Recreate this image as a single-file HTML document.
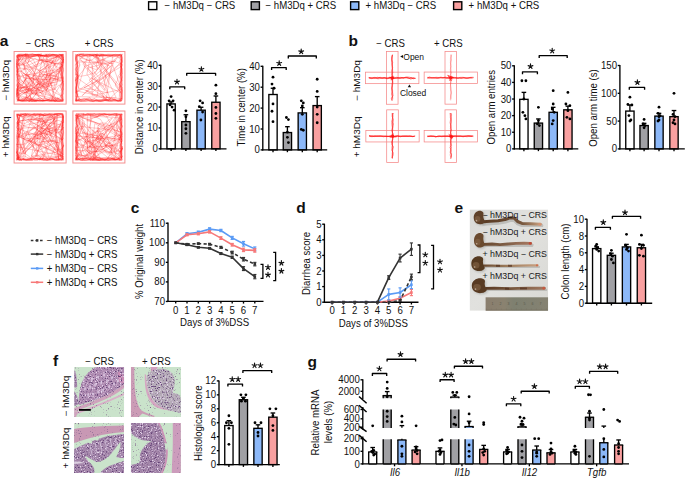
<!DOCTYPE html>
<html><head><meta charset="utf-8"><style>
html,body{margin:0;padding:0;background:#fff;}
svg{display:block;font-family:"Liberation Sans",sans-serif;}
</style></head><body>
<svg width="685" height="479" viewBox="0 0 685 479" font-family="Liberation Sans, sans-serif">
<defs>
<filter id="tex" x="0" y="0" width="1" height="1"><feTurbulence type="fractalNoise" baseFrequency="0.9" numOctaves="2" seed="3"/><feColorMatrix values="0 0 0 0 0.35  0 0 0 0 0.15  0 0 0 0 0.45  0 0 0 1.6 -0.75"/><feComposite in2="SourceGraphic" operator="in"/></filter>
<filter id="blur1"><feGaussianBlur stdDeviation="0.6"/></filter>
<filter id="blur2"><feGaussianBlur stdDeviation="1.2"/></filter>
</defs>
<rect width="685" height="479" fill="#fff"/>
<rect x="148.60" y="1.8" width="8.2" height="7.8" fill="#ffffff" stroke="#000" stroke-width="1.4"/>
<text transform="translate(164.60 8.60) scale(0.965 1)" font-size="10.0" text-anchor="start" fill="#111">− hM3Dq − CRS</text>
<rect x="251.20" y="1.8" width="8.2" height="7.8" fill="#a0a0a4" stroke="#000" stroke-width="1.4"/>
<text transform="translate(265.50 8.60) scale(0.965 1)" font-size="10.0" text-anchor="start" fill="#111">− hM3Dq + CRS</text>
<rect x="350.60" y="1.8" width="8.2" height="7.8" fill="#8cb8f8" stroke="#000" stroke-width="1.4"/>
<text transform="translate(365.50 8.60) scale(0.965 1)" font-size="10.0" text-anchor="start" fill="#111">+ hM3Dq − CRS</text>
<rect x="453.60" y="1.8" width="8.2" height="7.8" fill="#f9a0a0" stroke="#000" stroke-width="1.4"/>
<text transform="translate(468.60 8.60) scale(0.965 1)" font-size="10.0" text-anchor="start" fill="#111">+ hM3Dq + CRS</text>
<text transform="translate(-0.30 46.00) scale(1 1)" font-size="15.5" text-anchor="start" font-weight="bold" fill="#111">a</text>
<text transform="translate(40.20 46.80) scale(0.965 1)" font-size="10.0" text-anchor="middle" fill="#111">− CRS</text>
<text transform="translate(99.00 46.80) scale(0.965 1)" font-size="10.0" text-anchor="middle" fill="#111">+ CRS</text>
<text transform="translate(9.40 80.40) rotate(-90) scale(1.0 0.9)" font-size="10.0" text-anchor="middle" fill="#111">− hM3Dq</text>
<text transform="translate(9.40 136.80) rotate(-90) scale(1.0 0.9)" font-size="10.0" text-anchor="middle" fill="#111">+ hM3Dq</text>
<rect x="14.10" y="51.50" width="52.00" height="52.60" fill="#fff" stroke="#f49090" stroke-width="1"/><path d="M42.0 55.6 45.0 56.2 49.0 56.2 54.2 54.7 56.6 57.0 60.3 54.5 61.9 55.7 63.6 60.6 60.4 63.5 62.4 65.7 59.9 67.8 62.6 71.3 63.3 74.2 63.4 77.0 62.4 80.8 63.6 83.7 62.3 86.6 63.3 88.7 61.4 94.0 62.8 96.8 62.5 101.1 59.1 101.0 54.2 100.7 50.6 98.0 45.2 100.9 40.9 100.4 35.4 100.5 31.0 100.0 28.9 101.5 25.2 98.7 22.5 99.2 17.8 100.8 18.4 99.3 17.3 94.2 18.1 90.1 17.8 88.0 17.9 85.8 21.0 81.5 17.5 77.9 18.3 72.0 19.7 66.9 17.4 63.9 18.6 59.9 17.2 56.0 17.6 57.8 19.7 55.2 24.8 55.4 29.7 57.0 35.0 56.0 38.7 54.2 40.9 55.4M62.7 100.1 58.8 100.7 54.6 100.4 50.1 100.3 48.0 100.5 45.1 100.7 39.6 99.7 34.5 100.7 31.4 98.8 26.1 101.3 24.0 101.0 21.9 101.6 19.5 100.4 16.9 100.0 17.1 97.4 17.2 93.3 17.7 88.4 17.4 84.6 18.2 82.5 17.5 78.9 17.1 76.5 17.7 70.9 16.7 66.5 16.9 61.2 16.6 58.6 16.8 55.3 21.6 56.1 25.7 54.8 30.9 58.3 35.0 54.4 38.6 56.3 42.9 55.0 45.1 56.0 48.3 57.2 51.5 54.7 57.0 55.4 61.9 57.5 63.6 56.0 63.4 61.5 61.9 63.7 59.9 67.9 60.7 70.6 60.4 75.5 62.5 79.5 62.6 82.3 62.6 87.0 63.2 89.4 63.1 94.1 61.8 97.4M17.7 73.0 16.7 69.7 16.9 63.7 18.0 60.9 18.5 56.2 17.8 57.2 23.3 54.7 29.3 55.7 32.2 54.1 34.9 54.7 40.5 54.6 44.9 56.6 50.3 55.0 53.5 55.1 58.9 57.2 61.2 54.9 62.9 57.4 63.4 59.6 61.7 61.9 61.5 67.2 61.5 70.6 61.8 74.1 63.5 78.3 62.9 81.4 60.3 87.0 62.2 90.8 62.9 93.9 60.7 96.0 62.9 100.7 59.0 101.2 56.8 101.3 53.2 96.8 50.7 101.0 45.7 100.6 43.3 100.3 37.4 100.8 31.8 101.3 27.9 100.4 25.5 101.3 23.4 101.2 17.5 101.0 18.7 98.7 19.9 95.5 18.0 89.6 17.5 83.7 17.3 79.2 19.0 73.3M62.9 56.0 63.2 60.2 62.5 62.5 61.9 65.6 63.4 70.2 62.1 74.8 63.0 78.0 62.3 81.4 60.8 86.9 62.6 90.1 61.9 94.5 63.6 98.8 63.4 101.3 61.1 101.0 58.8 101.4 54.3 100.9 50.3 98.9 44.8 100.5 39.7 100.0 37.3 100.7 32.2 101.3 26.3 101.0 23.9 100.3 19.8 100.4 17.2 99.2 16.9 96.7 16.8 93.4 17.8 87.8 19.9 82.4 17.0 77.4 17.5 73.7 17.1 71.1 18.9 68.1 19.4 65.8 17.3 61.6 17.6 57.5 16.7 55.4 20.1 54.0 24.7 54.4 28.3 54.5 31.8 54.2 34.3 54.9 39.6 54.9 43.2 55.8 46.1 55.3 48.2 55.9 52.8 54.3 56.5 55.0 59.5 56.4 63.5 55.1M52.2 101.4 46.5 100.5 42.0 101.0 39.8 99.9 34.3 100.8 31.6 101.3 28.4 98.3 23.6 100.7 18.8 100.3 19.2 98.8 18.4 93.3 17.5 87.4 17.0 84.4 19.0 81.5 17.7 79.3 16.9 74.6 18.0 70.6 16.7 67.9 17.1 62.0 17.5 56.7 19.5 54.9 25.4 55.8 30.7 56.1 35.4 54.5 41.1 55.7 46.9 56.1 50.7 55.9 53.3 54.4 59.0 54.7 62.0 55.2 62.1 58.8 63.3 61.3 62.4 66.3 63.0 68.3 62.0 70.4 61.2 74.9 61.7 77.7 62.4 80.9 63.3 85.2 62.5 88.2 61.0 93.5 61.8 99.4 60.4 101.1 55.3 100.2 52.2 100.9M18.6 90.4 18.4 86.2 16.9 80.4 20.9 77.8 17.8 73.8 17.2 69.8 16.7 66.4 16.6 62.6 17.1 58.8 16.9 55.5 21.6 56.3 25.2 54.1 28.0 55.3 32.4 54.0 37.9 54.9 43.8 55.7 47.7 54.8 52.7 55.4 58.6 54.3 63.1 54.9 63.5 57.6 63.5 61.2 61.0 64.9 61.8 69.2 61.5 74.2 62.0 78.1 62.1 83.1 61.8 87.6 62.0 91.3 62.0 97.0 63.1 100.0 57.8 99.4 53.4 100.9 48.6 100.6 43.1 100.7 37.7 101.3 33.8 101.1 29.7 101.5 24.8 100.3 20.1 100.9 18.1 97.7 16.8 98.3 17.4 94.7 18.6 91.9M16.7 75.6 17.2 70.2 17.9 66.1 18.0 61.2 18.0 58.5 17.3 56.1 20.4 54.9 24.7 54.7 27.3 54.8 30.7 57.1 33.6 56.4 38.9 54.6 41.1 55.8 44.3 55.3 48.0 54.2 50.8 56.8 55.3 56.2 59.1 57.7 63.3 55.1 61.4 58.2 63.0 62.3 62.9 67.2 63.6 70.6 62.4 75.5 63.3 80.3 62.9 83.9 62.8 87.9 63.0 90.1 62.7 94.5 62.9 96.6 62.0 101.5 59.3 97.8 55.9 101.2 51.1 100.9 48.8 100.1 45.2 100.5 42.6 101.3 38.7 98.7 34.4 101.0 31.1 99.1 26.7 97.3 24.5 98.8 19.3 100.7 17.7 100.8 18.0 96.5 17.4 91.0 18.6 85.9 19.5 83.9 16.9 81.3 17.1 77.8M61.7 94.6 60.7 96.7 63.3 99.0 63.1 101.2 60.7 101.3 56.1 101.4 51.1 100.4 46.5 98.7 42.9 98.7 38.4 98.5 35.4 98.1 31.0 100.2 27.6 100.0 23.5 100.3 21.3 100.6 18.5 100.3 18.7 98.0 17.7 93.1 17.1 88.2 19.2 85.1 18.7 79.2 19.5 73.8 17.3 68.4 16.8 63.2 19.8 59.3 20.0 57.1 17.6 54.8 21.2 54.3 26.0 54.3 30.1 54.2 32.5 54.2 34.6 54.6 38.1 54.2 40.7 55.4 45.8 55.1 49.1 56.9 52.8 54.1 56.1 56.0 59.4 54.8 59.7 54.2 62.6 56.6 62.2 62.5 62.3 67.4 61.5 71.6 62.9 77.1 62.4 79.8 62.9 83.3 63.5 86.6 60.8 90.9M62.8 66.3 62.7 69.5 62.5 74.5 62.7 78.5 63.5 84.2 63.3 87.5 63.1 93.4 60.5 97.3 62.0 99.7 56.7 98.4 51.5 100.0 49.0 99.5 43.0 101.3 37.9 100.8 34.4 99.1 28.7 100.6 24.8 100.3 18.9 100.6 16.8 101.3 19.8 96.5 17.9 93.8 16.7 90.2 17.1 87.8 16.7 83.6 17.4 80.5 17.2 76.0 16.7 73.7 17.2 68.3 17.4 62.9 18.7 60.8 18.9 55.9 17.8 55.7 23.3 55.4 28.8 56.1 33.0 55.1 38.8 54.8 44.0 56.5 50.0 54.0 55.0 55.1 60.1 55.8 63.4 54.1 63.0 59.7 61.6 61.8M63.1 93.7 62.3 98.5 62.6 100.5 59.1 100.7 54.1 99.6 49.8 101.2 45.6 99.6 40.4 101.3 34.6 99.7 31.3 100.4 28.1 99.5 23.9 101.5 18.0 100.4 18.5 97.0 18.0 92.1 17.2 88.5 18.5 82.7 18.1 77.1 17.5 71.4 17.9 67.6 18.5 62.4 18.5 58.5 17.4 55.1 18.9 54.2 22.6 55.0 25.6 54.1 31.0 55.1 37.0 54.7 40.0 56.6 44.8 54.2 48.5 54.3 53.4 55.8 57.4 56.5 59.7 54.5 62.3 55.1 63.4 54.8 59.7 57.8 63.1 61.4 63.3 66.3 63.0 70.7 61.7 76.7 63.0 80.1 62.9 85.9 63.5 90.1M31.1 100.6 63.3 57.2 54.8 89.7 23.2 73.2 31.7 78.1 24.4 92.5 61.9 80.1 27.8 78.7 17.8 75.2 16.7 73.9 28.4 88.6 59.1 98.9 57.6 97.3 55.9 101.4 17.2 99.4 24.6 100.7 41.2 54.6 59.0 79.2 25.7 74.2 26.6 99.8 57.2 55.1 43.6 100.4 17.2 76.7 61.9 68.7 46.0 90.8 32.5 77.5 40.8 54.7 56.3 100.7 42.7 85.5 54.3 56.8 17.4 55.3 63.1 64.8 29.4 101.2 33.6 82.0 20.5 70.7 63.3 54.5 31.2 56.3 23.8 70.2 26.0 54.8 16.8 66.5 29.5 85.3 60.7 100.0 19.9 91.2 54.2 82.2 36.2 85.2 41.2 80.5 35.7 94.4 42.1 59.2 26.8 65.9 54.9 101.6 39.0 73.8 62.4 77.7 41.9 79.7 49.2 85.5 63.2 65.3 25.4 93.6 17.4 84.0 33.4 94.0 17.8 82.5 44.5 100.5 32.0 101.0 18.5 63.0 46.0 72.8 55.8 76.1 44.1 74.6 36.3 82.2 61.3 96.1 24.6 54.5 43.0 55.4 16.7 57.1 46.4 90.4 29.7 90.6 51.8 101.0 57.2 70.0 33.8 84.4 51.3 59.3 62.9 78.2 18.8 88.8 40.9 59.3 56.1 64.2 39.6 71.2 59.6 57.9 35.3 91.7 22.6 100.8 61.4 70.5 38.5 76.6 17.0 96.9 27.5 75.3 43.0 95.6 25.7 72.6 21.6 54.9 47.0 90.2 46.0 54.4 53.5 96.4 62.0 82.0 41.6 73.3 18.4 91.1 56.8 84.6 61.8 54.5 26.8 81.4 37.1 90.0 49.3 86.1 46.4 79.3 20.1 95.7 36.4 100.1 39.2 97.7 18.9 55.3 32.4 68.6 45.6 99.3 57.0 101.4 63.3 100.8M40.1 77.8 36.9 79.4 33.5 79.9 31.9 77.9 26.9 78.6 23.2 81.2 21.2 82.8 20.2 85.7 19.9 89.5 18.8 91.9 16.8 93.9 16.6 96.2 16.6 92.6 21.8 94.2 25.2 93.0 27.3 91.1 30.5 87.1 31.6 85.2 33.8 81.0 33.4 76.7 34.4 74.6 36.8 72.9 39.4 69.1 44.2 65.5 44.9 62.7 49.2 60.6 50.7 58.8 55.8 57.3 59.0 57.0 63.4 59.7 63.6 59.0 63.5 62.0 60.7 63.6 55.4 64.0 53.6 62.4 48.9 59.9 46.1 59.3 42.1 59.9 38.7 56.4 39.4 54.0 41.9 54.0 37.2 55.4 34.8 56.1 32.1 56.7 28.3 57.5 25.1 60.6 22.0 64.1 16.6 64.2 16.6 59.3 21.7 59.5 23.9 58.6 29.2 57.8 32.7 59.2 34.0 60.9 35.6 64.8 31.9 69.1 28.2 72.0 26.6 73.5 25.5 79.2 23.3 83.1 20.5 86.0 17.7 86.4 16.6 91.1 19.7 87.1 23.4 88.1 27.1 92.0 30.4 96.6 31.3 99.6 29.2 101.6 27.2 96.6 22.3 98.3 18.6 94.3 16.6 91.8 18.8 88.6 24.3 87.2 27.6 85.1 28.5 82.0 30.1 79.9 29.0 77.0 24.5 73.9 22.1 71.1 16.6 72.1 18.1 70.2 17.7 65.9 20.8 64.7 24.1 63.8 26.2 60.0 27.1 56.1 25.1 54.0 27.9 54.0 28.3 56.6 28.9 59.9 28.7 62.4 26.3 63.0 21.7 65.6 16.6 64.8 18.6 64.1 19.9 62.3 19.4 59.3 16.6 56.0 18.7 54.0 20.2 55.7 20.3 58.8 18.1 59.7 16.6 61.3 19.0 59.8 22.9 56.7 26.1 56.7 28.2 61.5 30.5 61.4 35.1 58.5 37.1 60.1 42.0 60.8 44.0 61.6 49.5 61.3 50.9 63.0 56.4 63.6 59.9 62.3 62.3 62.4 63.6 62.4 62.6 65.3 62.1 68.0 58.7 67.8 53.8 64.6 48.8 61.8 46.8 61.6 43.9 60.9 39.8 60.0 39.0 57.7 37.6 54.0 39.0 56.5 40.0 59.5 42.8 61.7 46.4 64.7 49.6 68.1 50.8 71.1 50.0 74.9 50.2 77.0 49.2 81.4 48.1 85.9 44.4 89.1 42.3 91.7 37.8 93.3 32.6 93.7 30.4 90.0 27.1 87.4 22.4 87.4 18.1 87.4 16.6 85.8 19.3 81.2 20.1 77.0 17.7 72.4 16.6 70.2 20.5 68.1 26.0 68.9 28.8 69.9 33.7 67.0 38.4 66.0 41.4 63.8 43.6 59.8 43.4 57.8 46.6 54.0 47.1 56.0 49.5 58.4 55.0 57.8 57.2 56.0 62.7 54.0 61.0 58.3 56.1 61.4 51.7 60.9 47.0 59.7 47.6 57.0 48.9 54.0 52.3 54.8 56.4 54.9 59.4 57.3 61.4 59.3 63.6 62.7 61.0 66.4 60.7 69.4 61.3 71.9 61.2 77.9 61.3 79.9 63.6 81.3 60.6 85.0 58.5 85.4 54.5 89.1 50.5 89.9 46.8 92.1 43.7 91.4 41.7 91.9 38.7 93.2 34.8 92.3 30.2 89.4 25.1 86.2 22.3 87.5 20.6 89.2 16.9 90.9 16.6 94.7 16.6 88.9 18.5 90.0 22.7 92.6 24.3 93.9 28.0 95.9 29.8 96.8 32.2 98.2 35.4 101.0 36.6 101.6 31.2 100.1 29.0 98.2 25.6 97.9 22.1 98.5 17.6 97.4 16.6 96.1 21.2 92.9 23.6 92.4 26.1 92.7 28.7 88.0 30.5 85.4 32.8 82.9 33.8 77.8" fill="none" stroke="#ff1a1a" stroke-width="0.3" stroke-opacity="0.8" stroke-linejoin="round"/><rect x="72.90" y="51.50" width="52.00" height="52.60" fill="#fff" stroke="#f49090" stroke-width="1"/><path d="M75.9 62.3 75.6 60.0 75.6 54.6 78.0 56.4 82.4 55.7 85.1 55.3 88.8 56.0 94.8 55.6 100.6 55.7 103.6 54.5 105.8 55.8 109.0 54.3 112.6 55.5 116.8 55.2 119.7 55.4 122.3 54.2 120.0 57.9 122.4 60.7 121.6 66.2 119.9 71.9 122.0 76.9 121.0 82.8 121.0 88.7 120.1 93.5 120.6 97.4 120.9 101.2 116.9 100.9 111.4 100.3 105.8 99.6 100.1 101.1 95.2 100.5 91.9 101.5 87.1 99.8 84.0 98.6 78.4 100.1 79.1 99.8 77.7 95.7 75.7 91.4 75.9 88.1 77.2 82.4 78.0 77.9 76.8 73.0 76.4 67.4 77.9 65.1M121.9 58.7 119.2 61.1 121.7 65.2 121.4 68.0 120.2 73.5 121.2 75.7 121.3 79.1 120.3 81.5 119.8 87.3 122.0 89.4 122.0 92.4 121.5 95.1 122.0 99.9 118.2 101.3 115.6 100.2 111.1 101.3 106.1 100.5 104.0 100.7 100.2 101.3 94.6 99.0 89.6 100.0 85.7 99.7 82.8 100.9 80.4 100.4 76.6 101.0 76.0 98.4 76.3 94.9 75.5 89.0 76.7 86.0 76.4 83.9 75.7 79.7 75.8 77.6 77.3 74.9 76.7 70.9 80.1 64.9 77.5 62.0 75.4 58.2 75.7 56.1 80.9 54.3 84.6 55.2 88.7 54.4 92.3 54.0 94.7 54.2 97.1 55.2 99.9 54.1 104.0 55.1 107.8 54.8 110.7 56.1 116.3 56.5 120.0 54.6 121.9 55.7M117.7 101.3 114.9 99.2 111.5 100.0 107.4 99.7 104.2 100.6 98.3 101.4 93.6 101.4 91.2 100.5 86.5 98.7 84.4 100.0 80.5 101.1 77.6 101.1 75.7 100.7 76.0 97.2 75.7 92.2 76.8 89.4 76.1 85.6 76.0 80.5 75.9 78.1 76.7 75.7 77.3 69.9 77.7 65.1 75.8 60.0 76.9 55.1 78.1 54.0 83.3 54.2 87.2 55.9 93.0 55.2 98.4 57.5 101.6 54.2 104.6 55.8 108.3 55.5 112.7 57.2 117.9 55.2 121.5 55.5 121.9 58.1 122.1 60.5 120.1 66.0 122.2 68.5 122.1 71.7 120.0 76.5 121.6 80.2 122.3 84.4 122.4 90.2 121.7 94.2 122.2 99.1 121.1 98.2M119.6 83.5 122.3 87.8 122.0 90.3 122.3 94.7 121.6 100.2 119.8 99.9 116.2 100.7 111.4 98.0 107.5 100.2 102.5 101.3 97.9 101.4 95.0 98.5 90.5 99.7 84.6 100.2 80.0 99.8 75.5 101.4 77.1 95.9 77.8 93.8 75.7 88.0 77.6 82.4 77.8 76.9 77.1 71.8 75.5 69.0 77.5 66.2 76.8 61.0 77.1 57.3 77.0 54.3 78.0 54.7 83.8 54.1 87.8 54.1 93.1 55.5 97.1 56.3 101.8 54.6 105.8 55.1 107.9 56.3 110.6 55.3 115.6 54.3 120.3 55.6 121.8 57.0 121.8 59.7 121.1 63.2 122.1 65.2 120.9 69.5 122.1 73.6 119.4 77.2 121.3 80.4M119.0 98.5 121.5 100.8 117.9 100.8 112.7 99.4 108.1 99.2 105.7 99.7 101.2 100.1 95.8 100.4 90.6 100.7 87.6 100.6 83.8 101.5 78.0 100.3 75.5 100.9 76.8 98.3 77.0 95.0 76.2 92.3 76.3 88.6 78.7 82.9 77.8 79.1 78.2 75.8 75.5 73.4 76.4 68.7 77.2 65.2 77.6 62.3 76.5 57.0 77.7 55.2 81.0 56.6 85.0 56.5 89.8 56.5 94.8 54.8 100.3 56.5 106.2 55.1 109.4 55.7 112.8 55.7 116.4 55.8 119.8 57.6 121.6 55.3 121.8 61.2 120.9 63.7 122.1 67.1 120.4 72.8 120.6 76.5 122.1 80.7 119.4 84.3 121.8 87.4 121.7 90.7 121.7 96.4M121.9 54.5 122.4 58.2 120.9 61.2 121.3 64.1 121.5 67.6 121.6 72.7 122.1 78.1 122.2 81.8 121.6 85.9 121.0 91.3 120.1 95.7 120.8 99.3 120.8 101.6 116.3 100.4 111.9 98.8 107.6 97.1 101.6 100.5 96.3 100.0 92.2 101.1 90.0 97.5 87.5 98.3 81.7 100.1 79.4 98.4 76.2 101.5 75.6 100.0 75.8 96.6 76.2 91.9 77.7 89.5 75.8 87.3 75.5 81.7 77.2 77.5 76.0 74.9 75.4 72.1 76.3 66.5 77.2 61.7 76.6 56.2 75.7 55.4 78.2 54.9 80.4 54.7 83.2 55.6 88.7 55.5 94.3 54.4 99.9 55.9 102.6 56.3 107.1 55.8 110.0 55.0 113.7 54.9 117.4 56.3 120.7 54.2M121.8 96.4 121.6 98.9 118.7 100.9 114.1 99.2 111.9 100.6 109.2 101.3 104.8 100.2 99.9 99.8 95.1 101.1 90.0 101.5 84.7 100.5 82.5 99.7 79.7 99.8 75.6 100.2 79.7 99.0 76.6 93.4 75.7 89.6 76.5 84.3 76.0 79.5 78.8 75.2 77.6 71.5 76.7 67.7 77.2 63.1 77.1 60.0 75.7 54.3 79.2 55.4 82.8 57.6 85.6 54.6 90.7 55.0 94.5 56.6 98.3 55.0 101.3 55.5 104.1 55.0 107.9 54.2 112.2 54.4 116.7 54.9 122.1 54.4 120.2 58.3 121.8 63.9 121.2 66.7 122.3 72.0 122.2 77.5 121.9 80.3 121.1 83.3 121.5 88.2 121.0 91.9M78.9 54.7 81.5 54.4 85.9 54.4 90.2 54.4 95.9 55.1 101.1 55.5 106.8 54.8 112.6 55.1 118.3 54.7 120.0 55.4 121.8 59.8 120.5 62.7 120.2 65.6 121.5 68.1 121.1 72.6 121.3 78.5 120.9 82.1 122.2 84.9 119.5 87.8 121.8 90.2 122.2 96.0 121.9 100.8 119.6 100.9 115.6 101.5 111.5 101.2 106.7 99.5 101.7 101.5 97.8 101.2 95.3 100.7 91.1 100.5 86.7 99.3 84.3 98.6 80.0 99.6 76.3 100.4 76.3 99.9 77.6 96.0 76.3 90.3 76.6 84.6 77.6 80.1 77.1 76.7 77.3 70.9 77.6 65.3 75.8 61.3 75.5 57.9 76.8 56.4M81.7 101.5 76.2 99.8 76.3 98.0 77.9 94.2 76.8 91.6 78.9 89.4 77.7 84.1 76.4 79.4 78.7 77.2 76.2 74.3 78.7 70.6 77.1 65.0 76.8 62.7 75.5 59.8 75.6 56.2 77.2 54.5 79.4 56.3 83.5 55.6 89.2 54.3 91.7 55.6 95.2 54.8 101.1 55.7 104.8 54.8 108.6 56.7 113.2 54.9 115.8 54.7 119.2 54.5 121.3 55.2 118.2 57.5 122.4 61.7 120.7 65.6 122.3 69.3 121.3 74.3 121.4 80.1 120.4 82.2 120.1 85.4 118.8 89.6 121.9 93.9 121.3 98.7 121.8 100.6 117.2 100.1 112.9 99.9 107.1 101.2 102.1 99.9 96.5 100.7 91.5 99.3 89.1 98.3 84.7 100.3M76.6 60.2 77.4 56.6 77.6 55.8 81.0 54.4 83.6 55.4 88.3 55.0 92.3 55.3 98.2 54.6 103.9 55.5 108.2 55.9 113.3 55.3 118.9 55.1 120.3 54.1 121.6 56.2 122.2 62.0 120.3 65.5 120.8 68.2 122.1 73.5 121.8 77.9 120.9 81.5 121.6 83.9 120.6 86.0 122.0 90.8 121.5 93.0 120.8 98.6 119.5 100.0 115.2 100.0 112.3 100.9 109.1 101.0 103.8 99.3 99.9 100.5 96.8 99.5 93.8 101.6 88.4 100.6 85.5 101.5 80.2 101.4 75.9 100.5 76.8 99.1 77.0 95.1 76.9 92.4 76.4 89.0 76.2 86.3 77.8 80.6 77.5 75.2 77.3 72.7 75.4 69.8 75.5 67.5 75.7 62.4M76.4 84.9 76.3 77.2 109.0 100.8 85.6 90.5 97.0 96.9 103.4 54.1 89.5 54.7 90.1 58.1 86.9 74.3 106.0 99.9 112.9 55.3 84.7 66.5 104.4 90.5 113.2 63.5 79.6 61.9 75.7 96.6 116.2 97.6 103.6 71.6 108.4 65.2 79.2 57.7 107.9 92.8 84.0 87.7 106.1 77.0 87.5 56.7 78.1 87.9 92.8 92.2 119.6 63.9 82.1 95.7 110.3 66.6 92.5 55.3 120.5 89.7 92.1 95.5 92.5 64.7 105.3 58.8 93.9 74.5 87.5 68.2 115.5 60.6 107.9 64.4 103.9 86.5 91.3 77.9 121.2 93.1 95.6 54.2 110.4 100.2 89.0 80.1 118.3 56.4 112.5 64.1 95.1 56.9 120.8 87.6 112.6 64.9 75.5 92.8 121.7 66.4 121.4 55.6 119.1 101.1 121.2 98.5 109.8 98.0 75.9 90.8M98.9 77.8 96.3 74.4 94.9 72.9 92.0 68.0 91.9 65.6 89.5 60.8 85.3 59.0 82.9 57.9 78.9 55.0 79.8 54.0 84.1 54.0 81.8 57.4 80.1 58.8 77.0 63.0 75.4 65.3 78.5 61.7 80.2 60.4 84.2 62.0 85.9 64.7 91.1 67.7 96.3 69.7 100.8 66.1 100.4 62.1 98.6 59.7 97.3 58.0 96.3 54.0 98.0 54.0 94.6 57.8 92.1 59.8 86.3 60.7 84.0 62.2 83.0 64.1 85.2 67.2 82.7 71.1 80.5 73.6 78.5 76.7 75.5 80.4 75.4 81.1 76.1 76.6 75.4 74.0 80.2 76.3 86.0 75.4 89.3 74.5 94.9 72.6 97.3 69.5 96.4 63.9 98.6 60.1 98.7 57.7 101.0 54.0 103.3 58.9 103.9 60.9 106.0 61.0 110.4 61.1 116.0 61.9 120.4 63.6 122.4 64.6 121.0 67.2 121.1 72.7 118.3 75.7 117.8 77.8 117.4 80.7 115.8 83.1 115.4 85.8 118.8 90.3 115.6 93.1 112.1 96.2 108.7 100.5 105.9 100.5 103.6 98.5 103.4 96.1 102.2 93.5" fill="none" stroke="#ff1a1a" stroke-width="0.3" stroke-opacity="0.8" stroke-linejoin="round"/><rect x="14.10" y="111.00" width="52.00" height="52.00" fill="#fff" stroke="#f49090" stroke-width="1"/><path d="M61.3 115.0 63.2 115.7 63.4 120.2 63.5 125.5 63.1 128.5 58.6 132.4 61.3 137.8 63.3 140.4 62.3 144.9 62.2 149.9 61.1 154.6 62.5 158.9 62.0 157.4 58.1 159.9 53.2 158.7 47.5 158.8 43.9 160.0 38.2 158.9 32.7 159.8 29.8 160.0 23.9 158.4 20.7 159.6 16.7 159.4 17.6 156.3 18.6 151.9 18.0 146.2 19.0 140.8 16.7 138.1 20.0 132.7 17.4 128.4 17.3 123.6 19.5 119.3 19.5 116.1 19.9 114.7 22.3 114.0 24.9 115.1 28.1 113.9 30.2 116.7 34.7 115.9 38.0 114.2 43.5 115.4 49.5 113.7 52.8 115.4 54.9 114.5 57.7 115.3 60.3 114.7M18.2 138.4 20.3 132.8 18.5 129.3 17.1 124.7 18.7 120.3 17.4 114.5 19.6 115.8 22.5 114.6 25.7 115.4 29.9 113.8 32.0 115.3 34.1 114.6 38.5 113.9 43.0 113.9 46.9 114.1 51.7 114.8 56.7 114.1 61.4 113.6 63.6 117.1 61.8 121.5 62.7 124.8 62.6 128.3 63.1 132.6 62.1 137.7 61.2 139.8 62.5 143.1 63.2 146.0 62.5 148.7 63.4 152.5 62.9 155.8 62.7 159.1 59.6 159.0 56.9 159.3 51.4 158.5 47.6 160.4 43.4 159.7 40.7 159.4 38.0 157.6 34.8 159.7 29.6 158.4 26.2 159.6 21.1 159.5 18.0 159.6 18.0 158.2 17.4 154.6 17.0 152.5 20.0 146.8 19.8 143.0M17.1 127.2 19.2 121.8 17.9 117.2 16.8 113.8 19.2 115.4 22.4 114.4 27.6 116.8 32.4 114.5 38.1 116.2 42.4 115.6 44.4 113.5 47.6 114.5 52.3 115.1 58.0 113.8 62.5 114.2 62.6 117.8 63.3 121.8 62.1 124.5 63.2 128.7 62.7 133.8 62.6 139.5 60.8 141.6 63.3 146.1 63.2 149.2 61.9 152.2 63.3 156.1 62.9 160.0 60.4 160.5 57.9 156.6 52.4 158.7 50.1 159.1 46.8 160.5 43.4 159.2 40.0 158.8 37.2 160.1 33.0 159.8 28.1 160.0 25.4 160.1 21.9 158.3 18.4 158.8 17.8 157.1 17.8 153.6 17.1 149.6 18.2 144.9 16.7 141.0 18.6 136.2 18.1 133.9 17.4 128.4M61.3 136.9 61.9 139.9 61.5 143.8 61.6 148.4 63.0 154.0 61.3 158.9 60.9 158.8 58.9 159.2 56.4 160.4 54.0 160.0 51.6 159.8 49.5 159.8 44.1 158.3 39.4 158.4 34.1 158.5 28.9 159.9 26.8 160.3 21.9 158.6 19.5 160.5 17.2 156.8 19.4 157.8 17.8 154.9 16.6 152.1 18.8 147.1 17.7 143.5 17.8 140.1 18.2 136.5 17.5 130.6 16.6 126.9 17.5 122.2 17.5 117.1 16.9 115.2 21.5 114.2 23.8 114.0 28.8 115.2 32.6 114.5 37.5 114.0 40.3 114.7 44.6 114.0 49.4 114.6 55.2 114.2 58.9 115.9 62.5 114.2 63.0 117.0 62.0 119.1 63.4 121.8 62.4 125.3 61.1 127.8 61.5 133.8M16.9 144.6 18.3 139.3 17.2 134.4 18.7 129.0 18.1 123.2 16.7 119.3 17.8 114.4 20.4 116.5 23.4 114.3 26.1 113.6 30.9 114.5 36.4 114.5 41.8 114.2 45.1 115.8 47.4 114.7 49.8 114.2 53.2 114.6 57.5 113.6 60.9 113.7 62.5 114.5 63.5 118.9 62.0 124.7 62.3 127.2 63.2 130.3 62.9 135.8 60.5 141.4 61.4 144.9 63.5 150.0 62.3 154.7 63.2 159.4 59.7 159.3 53.9 159.6 51.4 158.7 47.5 159.0 42.7 158.5 38.5 159.5 34.0 158.4 31.2 158.7 28.7 159.0 23.0 159.6 18.1 159.4 18.8 157.6 17.4 153.8 16.9 150.6 17.1 145.7M55.5 160.4 52.4 159.0 48.9 160.2 44.9 160.2 41.9 160.3 38.6 159.0 34.9 157.8 31.5 159.8 26.1 159.5 23.7 159.7 21.3 160.0 18.6 158.0 18.9 159.7 17.9 154.4 17.4 149.4 17.1 145.8 18.6 143.1 17.0 140.3 16.7 137.3 17.0 132.0 18.1 126.5 17.1 122.3 19.5 117.9 16.9 116.8 20.1 114.7 24.5 114.9 29.4 116.2 34.1 113.5 38.0 115.3 40.8 113.8 44.9 115.3 49.5 113.9 53.3 117.2 58.9 115.1 61.4 114.1 63.6 115.7 63.5 116.9 63.0 121.1 62.2 126.8 60.7 131.6 62.2 134.1 61.9 139.8 63.5 144.7 62.1 149.9 62.5 155.7 63.4 159.2 59.5 160.1 57.2 160.2M46.8 116.0 51.0 113.5 54.7 114.3 58.5 114.6 63.6 114.3 63.0 119.1 62.6 123.9 62.5 128.1 63.6 132.4 63.5 135.3 62.5 140.4 62.2 143.2 62.8 146.0 62.2 148.7 62.9 150.8 63.0 154.8 61.9 157.0 63.5 160.3 58.6 159.0 55.1 160.0 53.0 159.4 50.6 160.3 46.7 159.4 43.3 158.6 40.8 158.1 37.7 159.7 32.5 156.9 29.3 159.7 26.3 160.2 21.8 157.6 18.4 158.5 17.9 156.5 17.0 152.1 16.6 149.7 17.1 147.1 16.7 142.4 17.9 136.8 20.7 132.9 19.9 127.7 18.5 125.6 19.6 122.4 19.0 120.0 17.1 116.8 16.8 114.1 20.2 115.1 22.9 116.8 27.8 113.8 32.0 116.5 37.7 114.6 40.6 114.8 45.8 114.8M22.1 160.3 17.7 160.1 18.1 157.7 16.7 155.0 16.9 151.2 16.9 146.1 17.2 143.2 18.7 137.8 19.2 132.3 18.7 128.5 18.2 125.2 18.1 121.7 17.3 115.9 16.6 114.2 19.0 113.8 23.6 113.5 26.2 114.0 30.7 113.7 33.7 113.6 39.5 113.9 43.2 115.5 48.3 115.7 52.5 115.2 55.2 113.8 60.5 114.1 63.0 117.6 63.0 115.7 62.1 121.3 62.7 124.1 61.9 129.5 62.1 134.5 62.4 140.0 61.8 143.8 62.5 146.2 61.8 151.5 61.9 154.3 63.2 159.2 62.6 159.5 60.3 159.0 56.1 160.3 51.5 158.8 47.1 160.2 41.1 159.1 37.7 159.9 34.9 160.2 32.2 158.2 26.7 159.4M42.5 158.7 38.8 159.7 33.0 157.3 29.1 158.3 24.0 155.9 18.3 157.5 17.5 159.1 17.0 156.7 17.1 151.8 18.5 147.2 16.6 145.1 17.9 141.3 16.7 138.0 19.2 134.8 17.1 132.4 18.2 130.1 16.8 127.5 19.1 121.6 17.7 115.7 17.1 114.6 20.3 115.4 24.5 113.9 27.9 114.3 31.8 114.5 37.3 114.0 40.3 114.8 45.5 114.3 49.7 113.6 53.8 113.8 56.6 113.9 61.7 117.9 62.6 116.7 62.6 122.7 63.4 124.7 63.3 128.4 63.2 132.6 63.1 135.0 62.5 140.2 63.6 143.9 63.1 147.6 62.0 152.1 60.5 157.3 61.8 160.3 58.6 158.5 54.6 159.5 51.5 158.7 48.8 158.2 43.2 160.3M62.6 154.4 57.7 149.9 36.6 137.8 51.0 115.4 36.3 130.9 20.9 150.5 17.3 121.2 36.5 151.4 57.8 141.6 49.6 159.4 39.6 128.0 57.0 120.7 34.8 137.6 59.0 142.9 17.2 128.4 32.6 127.6 58.3 129.5 62.3 119.5 63.0 113.5 54.2 113.6 58.7 160.4 53.1 116.7 19.5 120.8 62.4 116.8 21.5 126.2 25.5 153.6 16.7 114.9 46.1 122.3 17.0 158.7 55.5 118.5 41.5 132.2 62.7 139.8 31.1 121.9 40.5 115.5 52.7 116.2 60.5 156.7 62.0 133.1 32.4 117.4 16.9 160.0 42.9 135.5 37.7 138.4 27.8 140.9 54.4 123.9 54.0 123.4 54.6 117.4 18.0 137.4 19.2 115.3 47.7 138.0 23.4 138.7 44.1 115.4 32.8 137.3 62.3 126.3 58.0 151.8 31.4 156.5 39.8 115.1 49.6 130.5 31.2 156.1 60.6 156.3 41.3 134.6 22.4 133.9 51.5 118.9 35.3 156.7 57.0 114.1 55.8 134.2 48.8 131.3 62.6 159.3 55.5 140.5 57.9 114.4 42.0 160.1 63.1 119.7 56.3 158.9 53.6 150.8 37.7 144.5 17.5 136.1 62.6 155.9 17.4 146.7 23.1 117.7 18.0 114.0 62.8 139.6 37.3 142.3 37.5 120.5 47.9 119.9 17.2 159.8 63.6 156.7 17.2 133.4 48.0 159.3 27.9 132.6 37.0 157.0 43.1 120.0 63.0 154.6 41.7 128.2 46.7 138.2 63.0 122.6 45.0 131.0 56.9 151.7 27.9 119.0 63.1 125.2 17.2 137.7 24.5 154.0 56.4 116.2 23.7 115.0M40.1 137.0 43.3 132.7 46.6 131.5 49.3 131.1 54.0 130.3 57.2 131.4 60.2 133.6 62.8 137.0 63.6 139.3 60.8 135.6 56.8 132.6 53.5 131.2 49.3 132.9 46.2 134.9 41.2 132.8 38.3 130.0 33.1 128.1 28.4 127.4 22.7 125.6 22.2 122.2 23.6 119.9 26.0 115.6 26.0 113.5 26.3 115.9 30.0 117.1 34.1 117.5 37.6 119.4 41.9 119.5 44.2 120.0 49.2 119.2 53.7 115.9 57.5 113.5 62.6 113.5 63.4 118.4 63.6 123.0 59.3 120.6 55.1 120.1 52.7 118.2 49.5 116.8 47.2 117.5 43.8 121.1 42.3 123.3 41.3 126.8 39.1 130.5 36.7 133.6 34.7 135.5 33.6 137.7 31.9 141.5 27.9 141.8 25.0 143.9 21.8 144.5 16.6 144.5 20.5 145.0 22.1 148.4 23.6 150.7 20.0 153.1 18.5 155.6 16.6 160.5 16.6 155.0 18.7 153.9 20.8 151.9 20.3 148.1 22.2 143.4 23.0 140.9 23.2 136.8 22.0 133.6 23.3 129.8 21.5 125.4 18.5 124.8 16.6 122.1 18.2 120.6 19.4 118.2 20.6 113.5 24.0 115.6 23.6 120.5 24.5 123.8 22.2 128.2 18.6 132.6 16.6 136.8 17.5 131.9 16.6 130.1 20.8 129.8 23.1 128.6 24.1 126.3 22.9 124.0 20.9 123.6 19.3 120.4 19.6 116.6 21.9 114.7 25.6 113.5 23.7 117.9 22.6 120.4 19.6 121.8 16.6 123.6 19.9 122.3 24.9 123.6 27.7 121.8 30.5 121.1 31.4 117.8 33.0 115.4 34.2 113.5 36.0 117.4 39.0 118.4 41.1 118.7 43.3 120.3 46.5 123.2 50.0 125.9 49.6 130.5 49.5 134.2 51.6 136.7 50.5 140.5 49.0 142.4 44.6 143.1 41.3 145.0 40.2 142.6 43.4 141.4 47.4 141.3 51.3 141.1 55.0 141.1 55.5 143.1 56.8 147.7 58.3 153.0 58.8 157.7 59.5 160.5 56.3 160.5 57.8 158.4 60.3 153.1 60.9 151.0 62.2 149.2 63.6 144.9 63.6 145.6 61.0 149.3 57.1 150.1 51.4 148.6 47.2 146.4 42.2 143.8 38.2 145.2 34.7 144.8 33.0 146.2 30.2 147.8 26.9 149.8 25.3 152.4 25.2 157.3 21.5 160.5 19.5 157.8 18.3 156.0 16.6 152.2 18.5 154.5 20.0 156.7 21.2 160.5 17.1 159.4 16.9 156.0 16.6 151.2 21.0 153.5 24.1 153.1 26.5 154.6 30.1 157.2 32.5 160.5 27.4 160.3 23.6 160.5 23.1 156.8 24.2 154.2 22.7 149.6 23.9 144.0 27.0 139.9 31.7 141.2 35.9 144.0 40.7 146.9 43.2 152.1 42.8 155.3 39.9 157.6 40.2 160.1 39.7 160.5 40.6 157.4 38.1 155.7 37.1 153.9 37.0 150.4 35.9 144.6 34.6 139.2 34.7 136.2 35.5 133.4 41.1 133.9 43.9 133.4 47.9 134.6 51.8 133.4 54.5 131.9 59.4 133.0 62.4 128.6 63.6 127.1 62.9 129.6 57.3 129.8 53.2 131.0 51.0 130.6 46.4 127.4 41.5 124.3 40.1 121.8 39.9 117.2 39.1 114.9 39.8 113.5 43.9 115.5 46.4 115.7" fill="none" stroke="#ff1a1a" stroke-width="0.3" stroke-opacity="0.8" stroke-linejoin="round"/><rect x="72.90" y="111.00" width="52.00" height="52.00" fill="#fff" stroke="#f49090" stroke-width="1"/><path d="M119.8 114.8 122.4 114.5 119.5 115.8 120.3 121.0 122.1 126.0 120.4 129.1 121.5 131.8 121.7 137.5 121.4 142.8 119.7 145.6 120.6 148.9 120.5 154.3 120.5 159.8 118.4 159.4 114.4 159.7 112.0 158.9 106.3 159.2 103.1 159.0 97.5 157.5 92.1 159.0 88.0 158.6 84.3 159.4 81.7 159.5 79.5 157.7 77.3 159.6 76.3 158.3 78.4 154.4 80.0 151.6 76.1 147.9 77.6 144.8 75.4 141.4 76.8 137.2 75.9 131.6 75.7 128.7 76.3 123.6 76.2 120.3 75.9 117.6 76.1 113.6 81.7 116.0 87.6 114.2 89.6 114.5 94.7 117.5 98.4 115.6 103.6 114.3 106.8 114.1 109.4 115.1 112.9 114.9 114.9 113.8 117.1 114.9M119.9 121.1 120.7 123.5 122.2 126.3 121.5 128.5 122.1 133.2 120.6 135.8 121.9 138.8 121.0 144.8 121.0 149.9 120.6 153.6 122.3 156.5 120.8 160.2 119.7 160.1 114.2 159.6 112.0 158.9 109.0 160.4 106.1 159.4 100.6 160.2 94.9 160.1 90.7 158.9 85.0 160.4 80.4 159.8 76.5 157.9 76.2 159.2 78.6 153.6 76.6 147.9 77.4 142.7 76.2 138.1 77.2 133.5 75.8 128.8 79.0 122.9 79.4 120.6 76.1 116.0 76.1 113.8 81.0 114.0 85.7 114.4 90.2 113.9 94.5 113.6 97.4 117.2 99.4 113.7 104.9 113.6 107.3 114.5 112.8 116.1 117.1 114.3 121.7 114.2 120.3 116.2 120.7 120.0M80.4 115.6 84.3 114.0 89.8 114.2 93.2 114.0 98.3 113.7 103.6 113.5 109.0 115.2 112.5 114.5 117.6 113.9 121.6 114.6 121.7 118.5 122.0 123.0 120.7 128.6 122.3 134.0 119.4 139.1 121.1 141.9 121.5 145.1 121.0 150.3 121.7 153.0 121.7 155.6 121.3 159.5 117.7 158.8 112.9 159.1 108.7 160.5 104.8 160.1 102.5 158.7 99.5 159.6 94.4 159.3 88.5 158.8 84.0 158.8 80.8 159.0 76.3 160.2 77.3 157.0 77.5 152.6 77.1 148.8 77.5 145.4 75.8 140.7 75.9 138.1 76.9 132.9 78.5 129.4 76.7 125.1 77.2 122.7 76.3 119.1 75.8 114.5 77.7 113.6 79.8 113.8M76.3 145.5 78.2 139.7 77.0 137.1 76.3 132.8 75.7 127.0 79.6 124.5 76.6 119.9 77.8 115.5 78.8 114.7 82.4 117.0 86.8 115.5 90.0 115.0 92.9 114.5 98.9 115.5 104.5 114.8 109.8 114.4 112.9 113.7 115.7 113.6 119.8 114.3 120.3 114.4 121.7 120.2 121.7 122.5 118.8 128.4 122.1 132.8 121.4 136.0 121.7 138.9 120.2 144.6 120.7 147.2 121.2 150.2 118.7 152.8 121.6 158.0 119.1 158.7 116.0 159.6 113.6 160.4 111.5 160.2 109.3 159.8 103.3 159.7 98.5 157.2 93.6 158.3 88.1 157.2 83.2 158.2 78.3 159.6 76.3 159.2 75.4 153.8 76.3 149.9M122.0 114.6 121.1 118.2 119.5 121.5 122.1 125.1 122.2 130.6 121.5 132.7 122.2 135.3 121.9 140.7 121.4 144.9 122.2 148.8 121.4 154.1 121.4 160.1 117.1 157.0 113.6 158.8 109.2 158.0 106.8 157.9 103.6 158.1 99.0 158.8 96.8 159.2 92.3 160.4 87.6 157.3 84.4 158.7 81.1 159.1 75.7 157.9 77.5 155.3 76.1 150.7 77.5 146.5 75.8 140.6 75.9 135.7 77.5 131.8 76.0 128.8 77.9 125.9 76.6 120.3 78.7 115.5 78.7 116.5 82.7 116.6 87.2 113.5 91.7 116.1 93.8 113.8 97.7 114.4 103.3 114.7 108.3 114.0 111.9 114.7 116.3 115.1 122.2 113.9M76.1 139.3 77.7 134.2 76.3 129.3 75.8 127.3 76.6 121.7 75.9 116.7 75.8 115.6 79.1 115.7 83.6 113.6 85.7 115.4 88.8 114.3 91.3 117.0 96.3 117.5 99.0 115.9 101.4 114.4 106.0 117.1 111.6 114.3 115.0 113.5 118.8 114.5 121.8 113.6 119.2 118.2 119.6 121.4 120.5 125.7 119.4 128.0 121.3 133.4 120.1 135.5 121.9 140.6 121.4 142.7 120.2 146.0 118.4 150.4 121.4 153.9 122.3 156.7 120.3 158.2 114.4 159.8 112.2 158.4 107.5 159.1 102.1 159.7 99.6 159.8 95.7 158.6 92.2 159.9 87.2 159.1 85.1 158.2 82.5 160.3 78.2 159.3 75.4 159.5 76.4 157.1 76.4 152.2 75.8 148.8 75.5 142.9 75.8 140.1M78.9 158.8 76.8 159.8 75.7 158.6 77.0 156.1 76.9 152.6 75.7 148.8 78.2 146.2 75.9 141.3 76.4 137.6 76.3 133.4 79.7 127.8 75.9 123.7 77.0 121.0 76.8 116.6 77.2 115.2 82.4 113.7 85.0 114.5 88.1 113.8 91.8 114.4 94.5 115.6 97.9 114.4 103.7 115.3 109.5 113.6 113.6 114.9 117.8 115.6 120.6 115.9 120.0 115.6 120.1 120.0 120.8 125.9 120.4 130.3 121.0 132.5 119.5 134.8 121.9 140.6 120.3 144.8 120.7 147.8 121.8 153.3 121.1 156.1 122.0 160.3 116.2 159.5 112.5 159.6 110.5 157.4 105.1 159.9 102.8 159.9 99.1 160.2 93.5 159.9 87.7 157.5 82.4 159.4M78.8 113.8 77.2 114.8 81.2 113.5 84.9 115.4 89.6 114.8 94.1 115.5 98.9 113.6 101.2 114.3 103.6 113.8 108.6 114.2 111.7 114.8 116.1 115.2 118.4 115.0 120.9 115.3 120.1 119.5 121.9 123.2 121.0 128.2 121.2 132.3 122.1 136.8 120.1 139.5 122.1 143.7 121.4 148.0 122.0 153.8 121.8 158.5 120.6 156.6 117.2 160.0 114.0 159.2 110.8 160.0 107.6 158.7 104.1 159.8 98.7 159.3 93.5 159.1 90.8 157.8 88.4 160.1 86.4 160.5 80.9 158.2 76.7 160.5 75.5 158.9 79.6 155.3 77.8 152.3 76.3 149.2 75.6 146.8 76.1 144.6 77.1 142.6 75.5 137.6 76.8 133.4 75.6 130.0 76.9 125.3 75.4 120.2 79.2 115.9M79.0 160.3 75.4 159.1 76.2 157.7 75.6 155.6 76.2 151.7 75.6 146.8 78.7 143.5 76.6 138.8 76.4 133.2 78.3 130.8 77.0 124.9 75.8 119.5 77.1 114.7 79.7 115.5 85.4 114.5 88.6 113.7 94.1 113.9 98.6 114.1 101.3 114.5 105.3 114.6 109.0 114.5 112.6 114.0 118.1 114.2 120.1 114.4 119.8 115.1 122.2 120.1 121.5 123.5 122.0 126.6 120.4 131.2 122.0 137.1 119.6 143.0 122.3 148.7 120.9 152.8 121.6 157.8 120.2 157.2 115.5 160.4 112.7 158.3 108.1 160.4 102.3 160.2 96.8 160.3 91.6 160.0 86.5 158.8 81.1 158.1M121.4 118.0 87.3 115.7 87.6 149.2 101.0 159.6 76.4 114.4 78.0 116.0 120.6 132.1 115.9 130.4 83.3 126.8 76.3 139.4 82.8 159.4 122.0 114.5 119.8 139.3 114.2 151.2 112.2 145.4 76.6 147.6 82.8 122.4 121.2 152.2 93.4 139.7 96.1 159.1 76.8 115.1 90.1 154.5 84.9 148.4 117.8 144.9 114.2 159.3 103.5 124.3 100.6 119.4 90.6 114.1 89.8 150.4 86.1 149.8 89.5 153.9 122.2 141.5 85.1 136.6 92.5 145.6 76.3 118.1 92.1 117.8 79.4 160.3 116.8 159.9 119.8 159.8 96.8 129.9 106.7 147.5 98.3 127.2 92.8 160.5 99.0 136.5 81.9 131.9 103.1 141.6 120.9 157.3 121.8 138.7 94.8 123.4 90.5 159.3 120.3 117.6 89.9 159.6 76.4 134.2 119.8 159.2 75.5 155.6 79.1 159.7 121.6 136.6 94.3 121.8 76.6 115.7 107.9 154.5 122.2 134.6 84.5 142.1 110.0 119.1 112.3 118.1 89.9 147.0 78.5 133.2 76.1 117.0 79.6 122.1 75.9 150.3 112.0 152.5 89.0 146.6 116.4 123.5 120.5 130.6 120.5 139.3 121.6 116.3 108.5 158.1 77.1 132.7 122.1 139.7 77.2 135.9 76.6 141.5 122.3 118.9 96.5 137.7 113.6 145.1 91.3 159.3 116.4 157.4 92.1 129.9 93.7 151.2 116.8 115.1 117.0 133.8 93.9 159.2 102.5 133.0 115.0 148.9 114.8 127.0 86.7 120.6 105.1 113.6 120.4 141.3M98.9 137.0 95.6 139.3 92.6 141.8 89.5 143.2 86.0 142.9 83.0 145.3 80.7 148.3 80.4 150.8 81.8 155.2 84.3 155.8 86.9 159.1 91.1 160.5 87.1 158.3 85.0 160.3 83.7 160.5 81.2 160.4 79.2 159.6 77.1 157.5 76.3 152.4 78.2 147.1 82.4 144.8 87.1 147.4 89.3 147.3 92.5 145.4 96.7 142.7 98.9 141.2 100.1 139.3 101.1 137.2 99.6 135.1 100.8 133.2 104.8 134.7 108.7 137.5 111.8 138.7 114.4 138.6 119.1 135.5 116.2 132.2 112.4 127.8 110.9 126.4 105.9 123.2 100.6 122.9 98.4 125.6 97.4 127.6 98.9 131.5 97.4 136.4 97.4 138.6 99.9 142.1 101.3 147.2 104.8 149.3 108.8 151.9 111.9 152.0 117.2 150.7 119.3 148.5 122.4 148.0 120.2 150.7 114.9 152.2 112.0 153.1 108.5 156.6 107.5 158.9 104.9 160.5 103.0 159.2 99.3 160.4 96.4 159.9 94.4 157.9 89.7 155.7 87.1 154.8 84.1 154.2 83.0 151.2 81.9 146.1 77.5 143.0 75.4 140.3 79.2 139.7 82.5 138.3 86.6 142.2 87.6 146.6 87.3 151.7 90.3 152.8 93.4 154.4 96.6 156.7 99.3 160.5 95.7 159.4 92.2 154.7 89.3 155.1 83.7 155.7 79.3 154.6 75.4 153.4 75.7 150.1 75.5 145.4 75.4 141.7 78.4 143.0 83.6 145.9 85.4 144.6 87.0 142.4 89.8 139.7 93.7 136.3 96.5 131.7 99.3 131.6 104.0 130.4 108.1 127.2 110.2 124.6 113.7 123.8 114.4 121.4 115.5 119.1 116.2 113.7 116.7 113.5 118.3 118.2 118.6 120.4 117.5 123.2 116.1 127.4 118.9 132.2 119.1 136.8 118.9 140.2 116.2 145.4 114.2 149.9 115.1 153.6 118.4 153.8 122.0 149.9 122.4 147.9 120.4 152.6 121.5 154.9 121.8 158.1 122.4 160.0 119.3 160.5 119.0 156.3 119.0 154.0 120.5 151.0 122.4 148.6 122.4 146.1 122.4 146.4 121.7 151.7 120.7 153.8 118.4 158.4 115.7 159.2 112.6 158.5 111.0 155.4 111.9 149.8 111.6 146.0 108.5 143.1 106.1 144.8 105.7 147.5 101.7 149.6 98.3 151.5 93.1 151.8 90.0 152.0 87.8 153.4 86.6 155.3 83.7 155.8 79.7 154.8 77.7 156.4 76.1 159.8 75.4 160.5 75.4 159.6 79.1 157.8 78.9 155.4 81.3 151.3 84.8 149.9 87.9 148.0 90.0 145.2 91.9 142.7 90.0 141.3 84.1 142.3 82.4 140.8 77.2 138.9 75.4 135.4 76.0 130.5 80.1 126.7 84.8 126.2 84.1 121.1 79.1 118.2 75.4 115.4 79.2 116.5 82.8 115.7 83.7 113.5 82.7 118.6 82.6 122.4 83.2 125.7 81.0 128.4 79.0 131.9 75.4 134.1 75.4 130.8 77.7 129.3 82.4 128.6" fill="none" stroke="#ff1a1a" stroke-width="0.3" stroke-opacity="0.8" stroke-linejoin="round"/>
<rect x="166.95" y="103.92" width="8.30" height="44.88" fill="#ffffff" stroke="#000" stroke-width="1.35"/>
<rect x="181.75" y="121.66" width="8.30" height="27.14" fill="#a0a0a4" stroke="#000" stroke-width="1.35"/>
<rect x="196.95" y="110.18" width="8.30" height="38.62" fill="#8cb8f8" stroke="#000" stroke-width="1.35"/>
<rect x="211.75" y="102.25" width="8.30" height="46.55" fill="#f9a0a0" stroke="#000" stroke-width="1.35"/>
<line x1="171.10" y1="103.92" x2="171.10" y2="101.83" stroke="#000" stroke-width="1.35"/>
<line x1="168.80" y1="101.83" x2="173.40" y2="101.83" stroke="#000" stroke-width="1.35"/>
<circle cx="171.10" cy="96.61" r="1.4" fill="#000"/>
<circle cx="169.10" cy="100.79" r="1.4" fill="#000"/>
<circle cx="173.10" cy="100.79" r="1.4" fill="#000"/>
<circle cx="170.10" cy="104.96" r="1.4" fill="#000"/>
<circle cx="172.10" cy="107.05" r="1.4" fill="#000"/>
<circle cx="174.10" cy="110.18" r="1.4" fill="#000"/>
<line x1="185.90" y1="121.66" x2="185.90" y2="114.77" stroke="#000" stroke-width="1.35"/>
<line x1="183.60" y1="114.77" x2="188.20" y2="114.77" stroke="#000" stroke-width="1.35"/>
<circle cx="185.90" cy="110.81" r="1.4" fill="#000"/>
<circle cx="185.90" cy="116.86" r="1.4" fill="#000"/>
<circle cx="185.90" cy="125.00" r="1.4" fill="#000"/>
<circle cx="185.90" cy="128.76" r="1.4" fill="#000"/>
<circle cx="185.90" cy="133.35" r="1.4" fill="#000"/>
<line x1="201.10" y1="110.18" x2="201.10" y2="107.26" stroke="#000" stroke-width="1.35"/>
<line x1="198.80" y1="107.26" x2="203.40" y2="107.26" stroke="#000" stroke-width="1.35"/>
<circle cx="200.10" cy="100.79" r="1.4" fill="#000"/>
<circle cx="202.60" cy="102.88" r="1.4" fill="#000"/>
<circle cx="199.30" cy="106.63" r="1.4" fill="#000"/>
<circle cx="202.60" cy="112.06" r="1.4" fill="#000"/>
<circle cx="200.90" cy="119.99" r="1.4" fill="#000"/>
<line x1="215.90" y1="102.25" x2="215.90" y2="95.99" stroke="#000" stroke-width="1.35"/>
<line x1="213.60" y1="95.99" x2="218.20" y2="95.99" stroke="#000" stroke-width="1.35"/>
<circle cx="215.90" cy="85.13" r="1.4" fill="#000"/>
<circle cx="215.90" cy="93.69" r="1.4" fill="#000"/>
<circle cx="215.90" cy="107.47" r="1.4" fill="#000"/>
<circle cx="215.90" cy="113.52" r="1.4" fill="#000"/>
<circle cx="215.90" cy="118.32" r="1.4" fill="#000"/>
<line x1="160.80" y1="64.80" x2="160.80" y2="149.40" stroke="#000" stroke-width="1.35"/>
<line x1="160.20" y1="148.80" x2="226.50" y2="148.80" stroke="#000" stroke-width="1.35"/>
<line x1="158.60" y1="148.80" x2="160.80" y2="148.80" stroke="#000" stroke-width="1.35"/>
<text transform="translate(157.90 152.30) scale(0.965 1)" font-size="10.0" text-anchor="end" fill="#111">0</text>
<line x1="158.60" y1="127.93" x2="160.80" y2="127.93" stroke="#000" stroke-width="1.35"/>
<text transform="translate(157.90 131.43) scale(0.965 1)" font-size="10.0" text-anchor="end" fill="#111">10</text>
<line x1="158.60" y1="107.05" x2="160.80" y2="107.05" stroke="#000" stroke-width="1.35"/>
<text transform="translate(157.90 110.55) scale(0.965 1)" font-size="10.0" text-anchor="end" fill="#111">20</text>
<line x1="158.60" y1="86.17" x2="160.80" y2="86.17" stroke="#000" stroke-width="1.35"/>
<text transform="translate(157.90 89.67) scale(0.965 1)" font-size="10.0" text-anchor="end" fill="#111">30</text>
<line x1="158.60" y1="65.30" x2="160.80" y2="65.30" stroke="#000" stroke-width="1.35"/>
<text transform="translate(157.90 68.80) scale(0.965 1)" font-size="10.0" text-anchor="end" fill="#111">40</text>
<line x1="171.10" y1="148.80" x2="171.10" y2="151.10" stroke="#000" stroke-width="1.35"/>
<line x1="185.90" y1="148.80" x2="185.90" y2="151.10" stroke="#000" stroke-width="1.35"/>
<line x1="201.10" y1="148.80" x2="201.10" y2="151.10" stroke="#000" stroke-width="1.35"/>
<line x1="215.90" y1="148.80" x2="215.90" y2="151.10" stroke="#000" stroke-width="1.35"/>
<path d="M169.80 89.30V86.90H184.70V89.30" fill="none" stroke="#000" stroke-width="1.35" stroke-linejoin="round"/>
<path d="M177.00 81.90L177.00 79.40M177.00 81.90L179.38 81.13M177.00 81.90L178.47 83.92M177.00 81.90L175.53 83.92M177.00 81.90L174.62 81.13" stroke="#111" stroke-width="1.15" stroke-linecap="round" fill="none"/>
<path d="M186.70 75.80V73.40H215.60V75.80" fill="none" stroke="#000" stroke-width="1.35" stroke-linejoin="round"/>
<path d="M201.40 69.20L201.40 66.70M201.40 69.20L203.78 68.43M201.40 69.20L202.87 71.22M201.40 69.20L199.93 71.22M201.40 69.20L199.02 68.43" stroke="#111" stroke-width="1.15" stroke-linecap="round" fill="none"/>
<text transform="translate(143.40 106.80) rotate(-90) scale(0.965 1)" font-size="10.0" text-anchor="middle" fill="#111">Distance in center (%)</text>
<rect x="268.85" y="94.52" width="8.30" height="55.39" fill="#ffffff" stroke="#000" stroke-width="1.35"/>
<rect x="283.25" y="132.55" width="8.30" height="17.35" fill="#a0a0a4" stroke="#000" stroke-width="1.35"/>
<rect x="298.15" y="112.91" width="8.30" height="36.99" fill="#8cb8f8" stroke="#000" stroke-width="1.35"/>
<rect x="313.05" y="105.59" width="8.30" height="44.31" fill="#f9a0a0" stroke="#000" stroke-width="1.35"/>
<line x1="273.00" y1="94.52" x2="273.00" y2="88.25" stroke="#000" stroke-width="1.35"/>
<line x1="270.70" y1="88.25" x2="275.30" y2="88.25" stroke="#000" stroke-width="1.35"/>
<circle cx="273.00" cy="77.17" r="1.4" fill="#000"/>
<circle cx="272.00" cy="84.06" r="1.4" fill="#000"/>
<circle cx="274.00" cy="88.25" r="1.4" fill="#000"/>
<circle cx="273.00" cy="103.92" r="1.4" fill="#000"/>
<circle cx="272.00" cy="111.23" r="1.4" fill="#000"/>
<circle cx="273.00" cy="121.69" r="1.4" fill="#000"/>
<line x1="287.40" y1="132.55" x2="287.40" y2="126.70" stroke="#000" stroke-width="1.35"/>
<line x1="285.10" y1="126.70" x2="289.70" y2="126.70" stroke="#000" stroke-width="1.35"/>
<circle cx="286.40" cy="117.50" r="1.4" fill="#000"/>
<circle cx="288.40" cy="119.59" r="1.4" fill="#000"/>
<circle cx="287.40" cy="132.13" r="1.4" fill="#000"/>
<circle cx="287.40" cy="137.36" r="1.4" fill="#000"/>
<circle cx="288.40" cy="142.59" r="1.4" fill="#000"/>
<line x1="302.30" y1="112.91" x2="302.30" y2="107.68" stroke="#000" stroke-width="1.35"/>
<line x1="300.00" y1="107.68" x2="304.60" y2="107.68" stroke="#000" stroke-width="1.35"/>
<circle cx="301.30" cy="100.78" r="1.4" fill="#000"/>
<circle cx="303.30" cy="102.88" r="1.4" fill="#000"/>
<circle cx="302.30" cy="106.01" r="1.4" fill="#000"/>
<circle cx="302.30" cy="114.37" r="1.4" fill="#000"/>
<circle cx="301.30" cy="129.42" r="1.4" fill="#000"/>
<circle cx="303.30" cy="130.25" r="1.4" fill="#000"/>
<line x1="317.20" y1="105.59" x2="317.20" y2="96.60" stroke="#000" stroke-width="1.35"/>
<line x1="314.90" y1="96.60" x2="319.50" y2="96.60" stroke="#000" stroke-width="1.35"/>
<circle cx="317.20" cy="79.26" r="1.4" fill="#000"/>
<circle cx="317.20" cy="91.38" r="1.4" fill="#000"/>
<circle cx="317.20" cy="107.06" r="1.4" fill="#000"/>
<circle cx="317.20" cy="114.37" r="1.4" fill="#000"/>
<circle cx="317.20" cy="122.73" r="1.4" fill="#000"/>
<line x1="262.80" y1="65.80" x2="262.80" y2="150.50" stroke="#000" stroke-width="1.35"/>
<line x1="262.20" y1="149.90" x2="327.20" y2="149.90" stroke="#000" stroke-width="1.35"/>
<line x1="260.60" y1="149.90" x2="262.80" y2="149.90" stroke="#000" stroke-width="1.35"/>
<text transform="translate(259.90 153.40) scale(0.965 1)" font-size="10.0" text-anchor="end" fill="#111">0</text>
<line x1="260.60" y1="129.00" x2="262.80" y2="129.00" stroke="#000" stroke-width="1.35"/>
<text transform="translate(259.90 132.50) scale(0.965 1)" font-size="10.0" text-anchor="end" fill="#111">10</text>
<line x1="260.60" y1="108.10" x2="262.80" y2="108.10" stroke="#000" stroke-width="1.35"/>
<text transform="translate(259.90 111.60) scale(0.965 1)" font-size="10.0" text-anchor="end" fill="#111">20</text>
<line x1="260.60" y1="87.20" x2="262.80" y2="87.20" stroke="#000" stroke-width="1.35"/>
<text transform="translate(259.90 90.70) scale(0.965 1)" font-size="10.0" text-anchor="end" fill="#111">30</text>
<line x1="260.60" y1="66.30" x2="262.80" y2="66.30" stroke="#000" stroke-width="1.35"/>
<text transform="translate(259.90 69.80) scale(0.965 1)" font-size="10.0" text-anchor="end" fill="#111">40</text>
<line x1="273.00" y1="149.90" x2="273.00" y2="152.20" stroke="#000" stroke-width="1.35"/>
<line x1="287.40" y1="149.90" x2="287.40" y2="152.20" stroke="#000" stroke-width="1.35"/>
<line x1="302.30" y1="149.90" x2="302.30" y2="152.20" stroke="#000" stroke-width="1.35"/>
<line x1="317.20" y1="149.90" x2="317.20" y2="152.20" stroke="#000" stroke-width="1.35"/>
<path d="M271.60 70.00V67.60H286.20V70.00" fill="none" stroke="#000" stroke-width="1.35" stroke-linejoin="round"/>
<path d="M279.20 63.30L279.20 60.80M279.20 63.30L281.58 62.53M279.20 63.30L280.67 65.32M279.20 63.30L277.73 65.32M279.20 63.30L276.82 62.53" stroke="#111" stroke-width="1.15" stroke-linecap="round" fill="none"/>
<path d="M288.30 58.40V56.00H316.30V58.40" fill="none" stroke="#000" stroke-width="1.35" stroke-linejoin="round"/>
<path d="M301.20 51.60L301.20 49.10M301.20 51.60L303.58 50.83M301.20 51.60L302.67 53.62M301.20 51.60L299.73 53.62M301.20 51.60L298.82 50.83" stroke="#111" stroke-width="1.15" stroke-linecap="round" fill="none"/>
<text transform="translate(244.50 107.30) rotate(-90) scale(0.965 1)" font-size="10.0" text-anchor="middle" fill="#111">Time in center (%)</text>
<text transform="translate(348.60 46.30) scale(1 1)" font-size="15.5" text-anchor="start" font-weight="bold" fill="#111">b</text>
<text transform="translate(390.50 47.40) scale(0.965 1)" font-size="10.0" text-anchor="middle" fill="#111">− CRS</text>
<text transform="translate(448.30 47.40) scale(0.965 1)" font-size="10.0" text-anchor="middle" fill="#111">+ CRS</text>
<text transform="translate(360.20 80.50) rotate(-90) scale(1.0 0.9)" font-size="10.0" text-anchor="middle" fill="#111">− hM3Dq</text>
<text transform="translate(360.20 136.90) rotate(-90) scale(1.0 0.9)" font-size="10.0" text-anchor="middle" fill="#111">+ hM3Dq</text>
<rect x="365.60" y="72.15" width="53.30" height="11.50" fill="none" stroke="#f58888" stroke-width="0.75"/><rect x="386.45" y="51.55" width="11.60" height="52.70" fill="none" stroke="#f58888" stroke-width="0.75"/><path d="M368.8 77.5 372.1 78.0 374.6 77.4 376.4 77.9 379.0 77.5 380.7 77.4 382.8 78.4 385.7 78.2 387.2 78.8 390.0 77.8 392.8 77.9 395.3 78.0 397.0 78.0 398.5 78.1 400.9 77.3 403.5 78.1 406.3 77.4 408.7 77.9 410.7 79.1 413.9 77.9" fill="none" stroke="#ff0a0a" stroke-width="0.55" stroke-opacity="0.85"/><path d="M368.8 77.8 370.9 78.1 372.5 77.9 375.7 77.5 378.0 78.6 379.5 77.7 381.4 78.2 384.9 77.7 387.2 78.3 390.2 78.1 392.3 78.2 395.7 78.1 398.7 78.1 400.4 78.1 402.0 78.0 404.6 77.7 407.0 78.1 408.8 78.4 411.6 78.2 413.5 78.1 415.6 78.5" fill="none" stroke="#ff0a0a" stroke-width="0.55" stroke-opacity="0.85"/><path d="M368.8 77.8 372.1 78.0 375.3 78.2 378.1 78.8 380.0 78.5 382.0 77.9 384.1 77.6 385.7 78.3 387.7 78.1 390.4 77.6 393.9 78.2 396.3 77.3 398.2 77.6 400.0 78.4 402.0 77.5 403.9 77.8 405.8 77.1 409.2 78.3 411.5 77.6 413.2 78.8 415.2 78.1" fill="none" stroke="#ff0a0a" stroke-width="0.55" stroke-opacity="0.85"/><path d="M368.8 77.9 371.5 78.6 373.6 78.2 375.2 78.4 377.2 77.3 379.9 77.7 382.0 78.1 383.5 77.8 385.5 77.8 387.4 77.9 389.6 77.7 391.8 77.8 395.1 78.4 398.0 77.8 400.7 78.0 402.2 78.0 405.5 77.6 407.1 77.0 409.9 77.3 412.0 78.0 415.5 78.3" fill="none" stroke="#ff0a0a" stroke-width="0.55" stroke-opacity="0.85"/><path d="M392.5 54.8 392.2 58.1 391.6 61.1 391.9 64.5 392.7 67.8 391.6 71.0 392.6 74.2 392.0 76.9 392.0 79.5 392.8 82.3 392.5 85.8 392.2 89.0 391.9 92.0 391.5 94.6 392.5 96.3 392.8 99.3" fill="none" stroke="#ff2020" stroke-width="0.5" stroke-opacity="0.84"/><path d="M392.4 54.8 392.1 56.7 391.8 59.4 392.2 62.8 392.3 64.9 392.3 67.7 392.5 71.1 391.5 73.9 392.6 76.0 392.4 78.9 392.7 82.0 392.5 85.3 392.0 88.0 392.6 90.1 392.6 93.3 392.0 96.5 391.3 98.5 391.9 100.4" fill="none" stroke="#ff2020" stroke-width="0.5" stroke-opacity="0.84"/><path d="M392.3 54.8 391.9 57.1 391.9 59.2 392.7 62.4 392.2 64.0 392.3 65.6 392.2 68.5 392.0 71.2 392.9 72.7 392.2 74.5 392.3 77.6 392.3 79.6 392.3 82.4 391.9 84.8 391.8 87.9 392.1 91.3 392.0 93.7 392.7 95.6 392.3 98.5 392.2 100.4" fill="none" stroke="#ff2020" stroke-width="0.5" stroke-opacity="0.84"/><path d="M392.6 54.8 391.7 57.3 391.8 59.6 392.4 62.7 392.2 66.0 392.6 69.0 392.6 71.7 391.9 75.0 392.6 78.3 392.7 81.4 392.1 84.2 392.1 86.1 391.5 88.9 392.4 91.8 393.1 95.3 391.6 98.7 392.1 100.9" fill="none" stroke="#ff2020" stroke-width="0.5" stroke-opacity="0.84"/><path d="M393.2 76.9 393.7 78.7 389.6 77.2 391.9 77.9 392.5 77.4 392.6 77.1 390.8 80.0 392.8 78.5 389.7 77.7 393.6 76.1 394.0 77.4 392.9 77.7 392.6 79.6 391.6 80.1" fill="none" stroke="#ff1010" stroke-width="0.5" stroke-opacity="0.8"/><circle cx="392.25" cy="77.9" r="1.6" fill="#ff1010" opacity="0.6"/><rect x="424.15" y="72.05" width="53.30" height="11.50" fill="none" stroke="#f58888" stroke-width="0.75"/><rect x="445.00" y="51.45" width="11.60" height="52.70" fill="none" stroke="#f58888" stroke-width="0.75"/><path d="M427.4 77.3 430.2 77.9 432.0 78.1 434.0 77.8 437.1 77.6 439.8 77.4 442.6 78.0 444.4 78.1 447.7 78.4 449.4 78.0 452.2 77.6 455.4 78.1 457.0 78.5 459.5 78.1 461.2 78.6 462.9 77.7 465.2 78.0 468.0 78.0 469.8 77.8 471.6 77.7" fill="none" stroke="#ff0a0a" stroke-width="0.55" stroke-opacity="0.77"/><path d="M427.4 77.5 430.0 78.0 432.5 77.7 435.4 77.9 438.9 78.3 441.1 77.7 443.3 77.6 445.0 77.3 447.0 77.5 450.1 78.1 452.6 78.4 455.0 77.9 457.5 77.9 459.8 78.2 462.9 78.2 464.7 78.1 467.6 78.1 469.8 77.9 472.6 78.2" fill="none" stroke="#ff0a0a" stroke-width="0.55" stroke-opacity="0.77"/><path d="M427.4 77.9 429.4 76.9 431.9 77.9 435.3 78.2 437.5 78.5 439.4 77.8 440.9 77.0 442.9 77.8 444.9 77.5 446.4 78.3 449.9 77.9 453.4 77.7 455.6 77.8 458.6 78.0 460.6 77.4 463.1 77.3 465.2 77.9 468.6 78.0 470.6 77.7 473.9 77.7" fill="none" stroke="#ff0a0a" stroke-width="0.55" stroke-opacity="0.77"/><path d="M427.4 78.6 430.2 77.7 432.3 77.6 434.3 77.6 436.1 77.3 439.4 77.6 441.7 77.9 445.2 77.3 448.5 77.6 452.0 77.8 454.6 77.4 457.9 77.9 460.1 77.4 462.4 77.8 463.9 77.4 466.8 78.3 470.1 77.4 473.4 77.2" fill="none" stroke="#ff0a0a" stroke-width="0.55" stroke-opacity="0.77"/><path d="M450.6 54.6 450.6 56.3 451.1 59.7 450.3 62.6 450.7 64.3 450.7 66.9 450.4 68.9 450.5 71.2 451.3 73.0 450.6 74.7 451.4 77.7 451.1 80.5 450.6 82.1 450.6 84.6 450.9 87.4 450.8 89.6 451.2 93.0 450.6 94.5 451.0 96.4 451.0 98.7" fill="none" stroke="#ff2020" stroke-width="0.5" stroke-opacity="0.36"/><path d="M451.7 54.6 451.0 57.5 451.2 60.3 450.8 63.4 451.2 66.7 450.9 69.8 451.3 72.8 450.5 75.1 450.3 78.6 450.6 81.2 450.5 84.1 450.4 86.3 450.8 88.4 450.9 90.2 451.3 92.2 450.9 93.8 450.5 97.1 450.2 99.8" fill="none" stroke="#ff2020" stroke-width="0.5" stroke-opacity="0.36"/><path d="M451.3 54.6 451.2 56.8 451.2 60.0 450.9 62.7 450.4 65.4 450.5 67.5 451.0 69.7 450.9 72.0 450.6 73.9 451.3 75.9 450.7 77.6 451.3 80.7 450.3 82.9 450.7 85.9 451.0 89.1 451.0 92.3 451.6 93.9 451.0 96.0 450.8 97.8 450.7 100.7" fill="none" stroke="#ff2020" stroke-width="0.5" stroke-opacity="0.36"/><path d="M451.0 54.6 451.2 56.8 450.4 58.5 450.4 61.3 450.7 63.9 450.9 66.7 450.3 69.5 450.5 71.9 450.5 74.2 450.7 76.8 450.5 80.1 451.2 82.6 450.3 86.0 450.4 88.9 451.0 91.6 450.9 94.6 450.6 96.2 450.9 97.9 450.9 99.5" fill="none" stroke="#ff2020" stroke-width="0.5" stroke-opacity="0.36"/><path d="M452.6 79.2 447.7 75.4 453.4 77.2 451.2 77.7 451.3 81.0 449.7 77.9 450.9 76.3 449.5 77.5 450.8 78.4 447.7 75.6 453.5 77.6 452.2 77.3 449.7 80.8 448.9 76.6" fill="none" stroke="#ff1010" stroke-width="0.5" stroke-opacity="0.8"/><circle cx="450.8" cy="77.8" r="1.6" fill="#ff1010" opacity="0.6"/><rect x="365.85" y="130.45" width="53.30" height="11.50" fill="none" stroke="#f58888" stroke-width="0.75"/><rect x="386.70" y="109.85" width="11.60" height="52.70" fill="none" stroke="#f58888" stroke-width="0.75"/><path d="M369.1 136.2 371.9 136.7 375.1 136.3 376.9 136.4 378.9 136.2 381.4 136.0 383.4 136.1 386.5 136.6 389.2 136.5 391.0 136.2 394.3 136.4 397.4 135.6 400.4 136.8 402.4 136.0 405.6 135.6 408.3 136.2 410.6 136.0 412.8 136.5 414.5 136.5" fill="none" stroke="#ff0a0a" stroke-width="0.55" stroke-opacity="0.85"/><path d="M369.1 135.6 371.9 135.7 373.7 136.0 376.6 136.0 378.5 136.3 381.0 136.2 383.7 136.6 386.0 136.5 388.0 136.5 390.0 136.3 391.6 136.5 394.4 136.5 397.3 136.1 400.7 136.4 403.8 136.3 407.0 136.1 409.3 136.0 412.6 136.7 414.5 135.8" fill="none" stroke="#ff0a0a" stroke-width="0.55" stroke-opacity="0.85"/><path d="M369.1 135.8 370.8 136.6 374.3 135.8 376.2 135.9 378.9 135.8 381.1 136.0 384.1 136.0 385.9 136.4 388.8 136.4 390.4 136.4 393.2 135.8 394.8 136.0 397.2 136.1 398.7 136.3 402.2 136.4 404.2 136.4 406.9 136.5 409.1 136.4 412.3 136.5 414.8 136.2" fill="none" stroke="#ff0a0a" stroke-width="0.55" stroke-opacity="0.85"/><path d="M369.1 135.8 371.9 136.2 374.0 136.6 377.3 136.3 380.3 136.2 383.5 136.7 385.5 135.9 387.5 136.0 389.6 136.3 391.1 136.5 393.4 136.7 396.1 136.5 397.6 136.2 400.1 136.0 402.7 136.1 405.1 136.5 406.9 136.3 410.0 136.1 411.9 136.1 413.5 136.5 415.3 136.0" fill="none" stroke="#ff0a0a" stroke-width="0.55" stroke-opacity="0.85"/><path d="M392.8 113.0 393.0 116.5 392.6 118.3 392.1 121.4 393.3 124.0 392.8 125.7 392.5 129.0 392.1 130.8 392.6 133.0 392.6 136.1 393.1 138.9 391.6 142.3 392.4 144.7 391.9 147.3 392.0 150.6 392.8 152.3 392.9 155.4 392.2 158.0" fill="none" stroke="#ff2020" stroke-width="0.5" stroke-opacity="0.90"/><path d="M393.5 113.0 392.6 114.7 392.5 117.7 392.3 119.4 391.7 122.9 392.0 126.0 392.8 129.2 392.3 132.1 393.2 133.8 393.0 135.9 392.5 138.0 392.5 141.0 392.5 142.6 392.0 144.6 393.3 146.6 392.8 149.8 392.2 153.3 392.2 156.3 392.5 158.8" fill="none" stroke="#ff2020" stroke-width="0.5" stroke-opacity="0.90"/><path d="M392.2 113.0 392.4 115.3 392.7 117.8 393.0 119.3 392.6 122.5 392.7 125.1 392.9 127.3 392.2 129.8 392.6 133.0 393.1 135.8 392.6 138.1 392.5 141.3 392.6 143.1 392.3 144.7 392.8 147.2 392.4 149.7 392.5 152.4 393.0 154.0 392.5 156.4 392.1 158.3" fill="none" stroke="#ff2020" stroke-width="0.5" stroke-opacity="0.90"/><path d="M392.4 113.0 392.1 116.4 393.2 119.4 393.0 122.7 392.8 125.9 392.0 128.8 392.2 131.6 392.3 133.4 392.4 136.4 392.4 139.1 391.8 141.9 392.4 145.1 392.7 147.4 392.1 150.0 392.9 152.3 392.3 155.7 392.1 157.9" fill="none" stroke="#ff2020" stroke-width="0.5" stroke-opacity="0.90"/><path d="M389.4 135.8 393.0 134.8 392.7 137.2 389.9 137.7 392.3 134.7 393.6 136.2 391.8 136.4 393.4 135.7 393.7 137.1 392.3 137.3 392.0 137.3 396.6 136.8 392.9 136.6 392.9 135.5" fill="none" stroke="#ff1010" stroke-width="0.5" stroke-opacity="0.8"/><circle cx="392.5" cy="136.2" r="1.6" fill="#ff1010" opacity="0.6"/><rect x="424.15" y="130.45" width="53.30" height="11.50" fill="none" stroke="#f58888" stroke-width="0.75"/><rect x="445.00" y="109.85" width="11.60" height="52.70" fill="none" stroke="#f58888" stroke-width="0.75"/><path d="M427.4 136.6 430.2 136.5 433.5 136.2 436.5 136.5 439.3 136.0 441.6 136.7 444.7 136.4 448.0 136.4 450.2 136.2 453.0 136.8 454.7 135.7 456.6 136.0 459.4 136.4 461.0 136.4 463.0 136.6 466.4 136.2 468.8 135.6 471.7 135.8 473.4 135.8" fill="none" stroke="#ff0a0a" stroke-width="0.55" stroke-opacity="0.85"/><path d="M427.4 135.9 429.0 136.5 430.9 135.9 433.3 136.3 435.8 136.8 437.5 136.3 439.6 136.1 441.2 136.2 443.7 136.0 445.4 135.7 448.0 136.3 450.4 135.8 453.1 136.2 454.8 135.9 458.0 136.2 461.4 136.4 464.3 136.3 466.9 136.7 470.3 136.3 472.6 135.9" fill="none" stroke="#ff0a0a" stroke-width="0.55" stroke-opacity="0.85"/><path d="M427.4 136.6 429.4 136.1 432.1 136.4 434.6 136.2 436.1 136.5 438.3 136.7 440.3 136.2 443.7 136.0 445.3 136.4 447.1 136.3 450.3 136.4 452.3 136.2 455.7 136.7 457.8 136.2 460.4 135.9 463.1 136.8 465.6 136.0 468.8 136.0 472.2 136.5" fill="none" stroke="#ff0a0a" stroke-width="0.55" stroke-opacity="0.85"/><path d="M427.4 136.2 430.7 135.9 433.4 136.2 435.8 137.0 438.0 136.2 439.9 136.4 442.8 136.4 445.2 136.4 447.8 135.8 449.8 136.6 452.0 136.0 454.0 136.3 455.8 136.2 458.6 136.0 460.6 135.9 462.8 135.8 466.1 136.0 467.7 135.8 470.0 136.2 473.4 136.6" fill="none" stroke="#ff0a0a" stroke-width="0.55" stroke-opacity="0.85"/><path d="M451.4 113.0 451.0 116.4 451.5 119.0 451.3 121.4 451.3 124.8 450.3 128.2 450.9 129.8 450.5 131.6 450.8 133.8 450.8 136.2 450.3 139.3 450.8 141.4 450.8 144.8 451.4 147.6 451.1 149.1 450.8 152.6 451.4 156.0 450.3 158.3" fill="none" stroke="#ff2020" stroke-width="0.5" stroke-opacity="0.78"/><path d="M450.3 113.0 451.6 114.6 451.5 116.4 450.6 119.3 450.0 122.7 450.7 125.1 451.2 128.4 451.0 131.1 450.3 134.2 451.1 137.6 450.8 139.9 450.9 143.2 450.4 145.6 451.1 147.3 450.8 149.3 451.1 152.5 451.5 154.5 451.2 157.1 450.5 158.7" fill="none" stroke="#ff2020" stroke-width="0.5" stroke-opacity="0.78"/><path d="M450.3 113.0 450.5 116.1 450.9 119.1 450.7 121.8 450.6 124.1 450.4 127.0 451.2 129.4 450.5 132.4 451.2 135.6 451.1 137.7 451.3 139.5 450.7 142.7 451.7 145.2 450.2 147.1 450.7 149.5 450.1 152.3 451.5 154.1 451.3 157.2 450.9 158.9" fill="none" stroke="#ff2020" stroke-width="0.5" stroke-opacity="0.78"/><path d="M450.1 113.0 450.3 115.2 450.3 117.5 450.9 119.7 451.1 121.9 450.4 124.1 451.2 127.2 450.8 128.7 451.0 130.9 450.7 132.8 451.4 135.8 451.3 137.8 450.6 140.1 450.7 143.1 450.9 145.5 450.1 147.2 450.9 150.3 450.5 153.0 450.2 154.9 450.6 157.1" fill="none" stroke="#ff2020" stroke-width="0.5" stroke-opacity="0.78"/><path d="M453.0 138.3 448.7 134.3 453.1 137.3 452.5 137.2 451.2 139.2 452.2 137.2 449.2 136.5 453.0 137.0 452.3 136.0 452.0 135.4 450.5 137.7 453.5 135.8 450.5 135.9 450.5 136.3" fill="none" stroke="#ff1010" stroke-width="0.5" stroke-opacity="0.8"/><circle cx="450.8" cy="136.2" r="1.6" fill="#ff1010" opacity="0.6"/>
<path d="M400.2 56.6L403.0 55.1V58.1Z" fill="#111"/>
<text transform="translate(403.30 59.70) scale(0.965 1)" font-size="8.8" text-anchor="start" fill="#111">Open</text>
<path d="M409.4 84.5L407.7 87.3H411.1Z" fill="#111"/>
<text transform="translate(399.90 96.10) scale(0.965 1)" font-size="8.8" text-anchor="start" fill="#111">Closed</text>
<rect x="519.75" y="99.35" width="8.30" height="49.50" fill="#ffffff" stroke="#000" stroke-width="1.35"/>
<rect x="534.25" y="123.10" width="8.30" height="25.75" fill="#a0a0a4" stroke="#000" stroke-width="1.35"/>
<rect x="549.05" y="112.31" width="8.30" height="36.54" fill="#8cb8f8" stroke="#000" stroke-width="1.35"/>
<rect x="563.75" y="109.82" width="8.30" height="39.03" fill="#f9a0a0" stroke="#000" stroke-width="1.35"/>
<line x1="523.90" y1="99.35" x2="523.90" y2="92.38" stroke="#000" stroke-width="1.35"/>
<line x1="521.60" y1="92.38" x2="526.20" y2="92.38" stroke="#000" stroke-width="1.35"/>
<circle cx="521.90" cy="80.75" r="1.4" fill="#000"/>
<circle cx="525.90" cy="80.75" r="1.4" fill="#000"/>
<circle cx="523.90" cy="99.02" r="1.4" fill="#000"/>
<circle cx="522.90" cy="112.31" r="1.4" fill="#000"/>
<circle cx="524.90" cy="115.63" r="1.4" fill="#000"/>
<circle cx="525.90" cy="118.95" r="1.4" fill="#000"/>
<line x1="538.40" y1="123.10" x2="538.40" y2="118.95" stroke="#000" stroke-width="1.35"/>
<line x1="536.10" y1="118.95" x2="540.70" y2="118.95" stroke="#000" stroke-width="1.35"/>
<circle cx="538.40" cy="107.32" r="1.4" fill="#000"/>
<circle cx="538.40" cy="120.61" r="1.4" fill="#000"/>
<circle cx="537.40" cy="123.94" r="1.4" fill="#000"/>
<circle cx="539.40" cy="125.60" r="1.4" fill="#000"/>
<line x1="553.20" y1="112.31" x2="553.20" y2="107.32" stroke="#000" stroke-width="1.35"/>
<line x1="550.90" y1="107.32" x2="555.50" y2="107.32" stroke="#000" stroke-width="1.35"/>
<circle cx="553.20" cy="90.72" r="1.4" fill="#000"/>
<circle cx="553.20" cy="104.00" r="1.4" fill="#000"/>
<circle cx="552.20" cy="108.99" r="1.4" fill="#000"/>
<circle cx="554.20" cy="112.31" r="1.4" fill="#000"/>
<circle cx="553.20" cy="120.61" r="1.4" fill="#000"/>
<circle cx="552.20" cy="123.94" r="1.4" fill="#000"/>
<line x1="567.90" y1="109.82" x2="567.90" y2="106.16" stroke="#000" stroke-width="1.35"/>
<line x1="565.60" y1="106.16" x2="570.20" y2="106.16" stroke="#000" stroke-width="1.35"/>
<circle cx="567.90" cy="92.38" r="1.4" fill="#000"/>
<circle cx="565.90" cy="104.00" r="1.4" fill="#000"/>
<circle cx="569.90" cy="105.66" r="1.4" fill="#000"/>
<circle cx="567.90" cy="110.65" r="1.4" fill="#000"/>
<circle cx="566.90" cy="117.29" r="1.4" fill="#000"/>
<circle cx="569.90" cy="118.95" r="1.4" fill="#000"/>
<line x1="514.30" y1="65.30" x2="514.30" y2="149.45" stroke="#000" stroke-width="1.35"/>
<line x1="513.70" y1="148.85" x2="578.30" y2="148.85" stroke="#000" stroke-width="1.35"/>
<line x1="512.10" y1="148.85" x2="514.30" y2="148.85" stroke="#000" stroke-width="1.35"/>
<text transform="translate(511.40 152.35) scale(0.965 1)" font-size="10.0" text-anchor="end" fill="#111">0</text>
<line x1="512.10" y1="132.24" x2="514.30" y2="132.24" stroke="#000" stroke-width="1.35"/>
<text transform="translate(511.40 135.74) scale(0.965 1)" font-size="10.0" text-anchor="end" fill="#111">10</text>
<line x1="512.10" y1="115.63" x2="514.30" y2="115.63" stroke="#000" stroke-width="1.35"/>
<text transform="translate(511.40 119.13) scale(0.965 1)" font-size="10.0" text-anchor="end" fill="#111">20</text>
<line x1="512.10" y1="99.02" x2="514.30" y2="99.02" stroke="#000" stroke-width="1.35"/>
<text transform="translate(511.40 102.52) scale(0.965 1)" font-size="10.0" text-anchor="end" fill="#111">30</text>
<line x1="512.10" y1="82.41" x2="514.30" y2="82.41" stroke="#000" stroke-width="1.35"/>
<text transform="translate(511.40 85.91) scale(0.965 1)" font-size="10.0" text-anchor="end" fill="#111">40</text>
<line x1="512.10" y1="65.80" x2="514.30" y2="65.80" stroke="#000" stroke-width="1.35"/>
<text transform="translate(511.40 69.30) scale(0.965 1)" font-size="10.0" text-anchor="end" fill="#111">50</text>
<line x1="523.90" y1="148.85" x2="523.90" y2="151.15" stroke="#000" stroke-width="1.35"/>
<line x1="538.40" y1="148.85" x2="538.40" y2="151.15" stroke="#000" stroke-width="1.35"/>
<line x1="553.20" y1="148.85" x2="553.20" y2="151.15" stroke="#000" stroke-width="1.35"/>
<line x1="567.90" y1="148.85" x2="567.90" y2="151.15" stroke="#000" stroke-width="1.35"/>
<path d="M522.50 74.20V71.80H537.40V74.20" fill="none" stroke="#000" stroke-width="1.35" stroke-linejoin="round"/>
<path d="M530.50 66.40L530.50 63.90M530.50 66.40L532.88 65.63M530.50 66.40L531.97 68.42M530.50 66.40L529.03 68.42M530.50 66.40L528.12 65.63" stroke="#111" stroke-width="1.15" stroke-linecap="round" fill="none"/>
<path d="M539.20 58.00V55.60H567.20V58.00" fill="none" stroke="#000" stroke-width="1.35" stroke-linejoin="round"/>
<path d="M552.20 50.80L552.20 48.30M552.20 50.80L554.58 50.03M552.20 50.80L553.67 52.82M552.20 50.80L550.73 52.82M552.20 50.80L549.82 50.03" stroke="#111" stroke-width="1.15" stroke-linecap="round" fill="none"/>
<text transform="translate(495.40 107.20) rotate(-90) scale(0.965 1)" font-size="10.0" text-anchor="middle" fill="#111">Open arm entries</text>
<rect x="625.75" y="111.09" width="8.30" height="37.81" fill="#ffffff" stroke="#000" stroke-width="1.35"/>
<rect x="639.95" y="125.55" width="8.30" height="23.35" fill="#a0a0a4" stroke="#000" stroke-width="1.35"/>
<rect x="654.85" y="116.10" width="8.30" height="32.80" fill="#8cb8f8" stroke="#000" stroke-width="1.35"/>
<rect x="669.85" y="116.65" width="8.30" height="32.25" fill="#f9a0a0" stroke="#000" stroke-width="1.35"/>
<line x1="629.90" y1="111.09" x2="629.90" y2="104.98" stroke="#000" stroke-width="1.35"/>
<line x1="627.60" y1="104.98" x2="632.20" y2="104.98" stroke="#000" stroke-width="1.35"/>
<circle cx="629.90" cy="97.19" r="1.4" fill="#000"/>
<circle cx="627.90" cy="104.42" r="1.4" fill="#000"/>
<circle cx="631.90" cy="104.98" r="1.4" fill="#000"/>
<circle cx="628.90" cy="115.54" r="1.4" fill="#000"/>
<circle cx="630.90" cy="119.99" r="1.4" fill="#000"/>
<circle cx="629.90" cy="121.10" r="1.4" fill="#000"/>
<line x1="644.10" y1="125.55" x2="644.10" y2="123.32" stroke="#000" stroke-width="1.35"/>
<line x1="641.80" y1="123.32" x2="646.40" y2="123.32" stroke="#000" stroke-width="1.35"/>
<circle cx="644.10" cy="119.43" r="1.4" fill="#000"/>
<circle cx="643.10" cy="123.88" r="1.4" fill="#000"/>
<circle cx="645.10" cy="125.55" r="1.4" fill="#000"/>
<circle cx="644.10" cy="127.77" r="1.4" fill="#000"/>
<line x1="659.00" y1="116.10" x2="659.00" y2="113.32" stroke="#000" stroke-width="1.35"/>
<line x1="656.70" y1="113.32" x2="661.30" y2="113.32" stroke="#000" stroke-width="1.35"/>
<circle cx="659.00" cy="107.20" r="1.4" fill="#000"/>
<circle cx="658.00" cy="113.32" r="1.4" fill="#000"/>
<circle cx="660.00" cy="115.54" r="1.4" fill="#000"/>
<circle cx="659.00" cy="116.65" r="1.4" fill="#000"/>
<circle cx="659.00" cy="119.99" r="1.4" fill="#000"/>
<circle cx="658.00" cy="121.10" r="1.4" fill="#000"/>
<line x1="674.00" y1="116.65" x2="674.00" y2="110.54" stroke="#000" stroke-width="1.35"/>
<line x1="671.70" y1="110.54" x2="676.30" y2="110.54" stroke="#000" stroke-width="1.35"/>
<circle cx="674.00" cy="93.30" r="1.4" fill="#000"/>
<circle cx="673.00" cy="114.43" r="1.4" fill="#000"/>
<circle cx="675.00" cy="116.65" r="1.4" fill="#000"/>
<circle cx="674.00" cy="119.99" r="1.4" fill="#000"/>
<circle cx="673.00" cy="122.77" r="1.4" fill="#000"/>
<circle cx="675.00" cy="123.88" r="1.4" fill="#000"/>
<line x1="619.90" y1="65.00" x2="619.90" y2="149.50" stroke="#000" stroke-width="1.35"/>
<line x1="619.30" y1="148.90" x2="684.80" y2="148.90" stroke="#000" stroke-width="1.35"/>
<line x1="617.70" y1="148.90" x2="619.90" y2="148.90" stroke="#000" stroke-width="1.35"/>
<text transform="translate(617.00 152.40) scale(0.965 1)" font-size="10.0" text-anchor="end" fill="#111">0</text>
<line x1="617.70" y1="121.10" x2="619.90" y2="121.10" stroke="#000" stroke-width="1.35"/>
<text transform="translate(617.00 124.60) scale(0.965 1)" font-size="10.0" text-anchor="end" fill="#111">50</text>
<line x1="617.70" y1="93.30" x2="619.90" y2="93.30" stroke="#000" stroke-width="1.35"/>
<text transform="translate(617.00 96.80) scale(0.965 1)" font-size="10.0" text-anchor="end" fill="#111">100</text>
<line x1="617.70" y1="65.50" x2="619.90" y2="65.50" stroke="#000" stroke-width="1.35"/>
<text transform="translate(617.00 69.00) scale(0.965 1)" font-size="10.0" text-anchor="end" fill="#111">150</text>
<line x1="629.90" y1="148.90" x2="629.90" y2="151.20" stroke="#000" stroke-width="1.35"/>
<line x1="644.10" y1="148.90" x2="644.10" y2="151.20" stroke="#000" stroke-width="1.35"/>
<line x1="659.00" y1="148.90" x2="659.00" y2="151.20" stroke="#000" stroke-width="1.35"/>
<line x1="674.00" y1="148.90" x2="674.00" y2="151.20" stroke="#000" stroke-width="1.35"/>
<path d="M629.30 89.80V87.40H644.60V89.80" fill="none" stroke="#000" stroke-width="1.35" stroke-linejoin="round"/>
<path d="M637.40 82.40L637.40 79.90M637.40 82.40L639.78 81.63M637.40 82.40L638.87 84.42M637.40 82.40L635.93 84.42M637.40 82.40L635.02 81.63" stroke="#111" stroke-width="1.15" stroke-linecap="round" fill="none"/>
<text transform="translate(596.60 108.00) rotate(-90) scale(0.965 1)" font-size="10.0" text-anchor="middle" fill="#111">Open arm time (s)</text>
<text transform="translate(130.80 212.90) scale(1 1)" font-size="15.5" text-anchor="start" font-weight="bold" fill="#111">c</text>
<line x1="168.00" y1="222.50" x2="168.00" y2="301.90" stroke="#000" stroke-width="1.35"/>
<line x1="167.40" y1="301.30" x2="263.50" y2="301.30" stroke="#000" stroke-width="1.35"/>
<line x1="165.80" y1="301.45" x2="168.00" y2="301.45" stroke="#000" stroke-width="1.35"/>
<text transform="translate(165.10 304.95) scale(0.965 1)" font-size="10.0" text-anchor="end" fill="#111">70</text>
<line x1="165.80" y1="281.90" x2="168.00" y2="281.90" stroke="#000" stroke-width="1.35"/>
<text transform="translate(165.10 285.40) scale(0.965 1)" font-size="10.0" text-anchor="end" fill="#111">80</text>
<line x1="165.80" y1="262.35" x2="168.00" y2="262.35" stroke="#000" stroke-width="1.35"/>
<text transform="translate(165.10 265.85) scale(0.965 1)" font-size="10.0" text-anchor="end" fill="#111">90</text>
<line x1="165.80" y1="242.80" x2="168.00" y2="242.80" stroke="#000" stroke-width="1.35"/>
<text transform="translate(165.10 246.30) scale(0.965 1)" font-size="10.0" text-anchor="end" fill="#111">100</text>
<line x1="165.80" y1="223.25" x2="168.00" y2="223.25" stroke="#000" stroke-width="1.35"/>
<text transform="translate(165.10 226.75) scale(0.965 1)" font-size="10.0" text-anchor="end" fill="#111">110</text>
<line x1="175.70" y1="301.30" x2="175.70" y2="303.60" stroke="#000" stroke-width="1.35"/>
<text transform="translate(175.70 313.80) scale(0.965 1)" font-size="10.0" text-anchor="middle" fill="#111">0</text>
<line x1="187.00" y1="301.30" x2="187.00" y2="303.60" stroke="#000" stroke-width="1.35"/>
<text transform="translate(187.00 313.80) scale(0.965 1)" font-size="10.0" text-anchor="middle" fill="#111">1</text>
<line x1="198.30" y1="301.30" x2="198.30" y2="303.60" stroke="#000" stroke-width="1.35"/>
<text transform="translate(198.30 313.80) scale(0.965 1)" font-size="10.0" text-anchor="middle" fill="#111">2</text>
<line x1="209.60" y1="301.30" x2="209.60" y2="303.60" stroke="#000" stroke-width="1.35"/>
<text transform="translate(209.60 313.80) scale(0.965 1)" font-size="10.0" text-anchor="middle" fill="#111">3</text>
<line x1="220.90" y1="301.30" x2="220.90" y2="303.60" stroke="#000" stroke-width="1.35"/>
<text transform="translate(220.90 313.80) scale(0.965 1)" font-size="10.0" text-anchor="middle" fill="#111">4</text>
<line x1="232.20" y1="301.30" x2="232.20" y2="303.60" stroke="#000" stroke-width="1.35"/>
<text transform="translate(232.20 313.80) scale(0.965 1)" font-size="10.0" text-anchor="middle" fill="#111">5</text>
<line x1="243.50" y1="301.30" x2="243.50" y2="303.60" stroke="#000" stroke-width="1.35"/>
<text transform="translate(243.50 313.80) scale(0.965 1)" font-size="10.0" text-anchor="middle" fill="#111">6</text>
<line x1="254.80" y1="301.30" x2="254.80" y2="303.60" stroke="#000" stroke-width="1.35"/>
<text transform="translate(254.80 313.80) scale(0.965 1)" font-size="10.0" text-anchor="middle" fill="#111">7</text>
<text transform="translate(214.60 326.10) scale(0.965 1)" font-size="10.0" text-anchor="middle" fill="#111">Days of 3%DSS</text>
<text transform="translate(142.60 261.40) rotate(-90) scale(0.965 1)" font-size="10.0" text-anchor="middle" fill="#111">% Original weight</text>
<polyline points="175.70,242.80 187.00,233.81 198.30,232.24 209.60,229.12 220.90,230.48 232.20,237.91 243.50,243.78 254.80,248.86" fill="none" stroke="#5b9bf5" stroke-width="1.6" stroke-linejoin="round"/>
<rect x="174.40" y="241.50" width="2.60" height="2.60" fill="#5b9bf5"/>
<line x1="187.00" y1="234.98" x2="187.00" y2="232.63" stroke="#5b9bf5" stroke-width="1.1"/>
<line x1="185.40" y1="232.63" x2="188.60" y2="232.63" stroke="#5b9bf5" stroke-width="1.1"/>
<line x1="185.40" y1="234.98" x2="188.60" y2="234.98" stroke="#5b9bf5" stroke-width="1.1"/>
<rect x="185.70" y="232.51" width="2.60" height="2.60" fill="#5b9bf5"/>
<line x1="198.30" y1="233.42" x2="198.30" y2="231.07" stroke="#5b9bf5" stroke-width="1.1"/>
<line x1="196.70" y1="231.07" x2="199.90" y2="231.07" stroke="#5b9bf5" stroke-width="1.1"/>
<line x1="196.70" y1="233.42" x2="199.90" y2="233.42" stroke="#5b9bf5" stroke-width="1.1"/>
<rect x="197.00" y="230.94" width="2.60" height="2.60" fill="#5b9bf5"/>
<line x1="209.60" y1="230.48" x2="209.60" y2="227.75" stroke="#5b9bf5" stroke-width="1.1"/>
<line x1="208.00" y1="227.75" x2="211.20" y2="227.75" stroke="#5b9bf5" stroke-width="1.1"/>
<line x1="208.00" y1="230.48" x2="211.20" y2="230.48" stroke="#5b9bf5" stroke-width="1.1"/>
<rect x="208.30" y="227.81" width="2.60" height="2.60" fill="#5b9bf5"/>
<line x1="220.90" y1="231.66" x2="220.90" y2="229.31" stroke="#5b9bf5" stroke-width="1.1"/>
<line x1="219.30" y1="229.31" x2="222.50" y2="229.31" stroke="#5b9bf5" stroke-width="1.1"/>
<line x1="219.30" y1="231.66" x2="222.50" y2="231.66" stroke="#5b9bf5" stroke-width="1.1"/>
<rect x="219.60" y="229.18" width="2.60" height="2.60" fill="#5b9bf5"/>
<line x1="232.20" y1="239.48" x2="232.20" y2="236.35" stroke="#5b9bf5" stroke-width="1.1"/>
<line x1="230.60" y1="236.35" x2="233.80" y2="236.35" stroke="#5b9bf5" stroke-width="1.1"/>
<line x1="230.60" y1="239.48" x2="233.80" y2="239.48" stroke="#5b9bf5" stroke-width="1.1"/>
<rect x="230.90" y="236.61" width="2.60" height="2.60" fill="#5b9bf5"/>
<line x1="243.50" y1="246.12" x2="243.50" y2="241.43" stroke="#5b9bf5" stroke-width="1.1"/>
<line x1="241.90" y1="241.43" x2="245.10" y2="241.43" stroke="#5b9bf5" stroke-width="1.1"/>
<line x1="241.90" y1="246.12" x2="245.10" y2="246.12" stroke="#5b9bf5" stroke-width="1.1"/>
<rect x="242.20" y="242.48" width="2.60" height="2.60" fill="#5b9bf5"/>
<line x1="254.80" y1="250.82" x2="254.80" y2="246.91" stroke="#5b9bf5" stroke-width="1.1"/>
<line x1="253.20" y1="246.91" x2="256.40" y2="246.91" stroke="#5b9bf5" stroke-width="1.1"/>
<line x1="253.20" y1="250.82" x2="256.40" y2="250.82" stroke="#5b9bf5" stroke-width="1.1"/>
<rect x="253.50" y="247.56" width="2.60" height="2.60" fill="#5b9bf5"/>
<polyline points="175.70,242.80 187.00,234.78 198.30,233.81 209.60,231.85 220.90,238.11 232.20,244.76 243.50,249.84 254.80,250.42" fill="none" stroke="#f77878" stroke-width="1.6" stroke-linejoin="round"/>
<rect x="174.40" y="241.50" width="2.60" height="2.60" fill="#f77878"/>
<line x1="187.00" y1="235.76" x2="187.00" y2="233.81" stroke="#f77878" stroke-width="1.1"/>
<line x1="185.40" y1="233.81" x2="188.60" y2="233.81" stroke="#f77878" stroke-width="1.1"/>
<line x1="185.40" y1="235.76" x2="188.60" y2="235.76" stroke="#f77878" stroke-width="1.1"/>
<rect x="185.70" y="233.48" width="2.60" height="2.60" fill="#f77878"/>
<line x1="198.30" y1="234.78" x2="198.30" y2="232.83" stroke="#f77878" stroke-width="1.1"/>
<line x1="196.70" y1="232.83" x2="199.90" y2="232.83" stroke="#f77878" stroke-width="1.1"/>
<line x1="196.70" y1="234.78" x2="199.90" y2="234.78" stroke="#f77878" stroke-width="1.1"/>
<rect x="197.00" y="232.51" width="2.60" height="2.60" fill="#f77878"/>
<line x1="209.60" y1="233.03" x2="209.60" y2="230.68" stroke="#f77878" stroke-width="1.1"/>
<line x1="208.00" y1="230.68" x2="211.20" y2="230.68" stroke="#f77878" stroke-width="1.1"/>
<line x1="208.00" y1="233.03" x2="211.20" y2="233.03" stroke="#f77878" stroke-width="1.1"/>
<rect x="208.30" y="230.55" width="2.60" height="2.60" fill="#f77878"/>
<line x1="220.90" y1="239.48" x2="220.90" y2="236.74" stroke="#f77878" stroke-width="1.1"/>
<line x1="219.30" y1="236.74" x2="222.50" y2="236.74" stroke="#f77878" stroke-width="1.1"/>
<line x1="219.30" y1="239.48" x2="222.50" y2="239.48" stroke="#f77878" stroke-width="1.1"/>
<rect x="219.60" y="236.81" width="2.60" height="2.60" fill="#f77878"/>
<line x1="232.20" y1="246.12" x2="232.20" y2="243.39" stroke="#f77878" stroke-width="1.1"/>
<line x1="230.60" y1="243.39" x2="233.80" y2="243.39" stroke="#f77878" stroke-width="1.1"/>
<line x1="230.60" y1="246.12" x2="233.80" y2="246.12" stroke="#f77878" stroke-width="1.1"/>
<rect x="230.90" y="243.46" width="2.60" height="2.60" fill="#f77878"/>
<line x1="243.50" y1="251.60" x2="243.50" y2="248.08" stroke="#f77878" stroke-width="1.1"/>
<line x1="241.90" y1="248.08" x2="245.10" y2="248.08" stroke="#f77878" stroke-width="1.1"/>
<line x1="241.90" y1="251.60" x2="245.10" y2="251.60" stroke="#f77878" stroke-width="1.1"/>
<rect x="242.20" y="248.54" width="2.60" height="2.60" fill="#f77878"/>
<line x1="254.80" y1="252.18" x2="254.80" y2="248.67" stroke="#f77878" stroke-width="1.1"/>
<line x1="253.20" y1="248.67" x2="256.40" y2="248.67" stroke="#f77878" stroke-width="1.1"/>
<line x1="253.20" y1="252.18" x2="256.40" y2="252.18" stroke="#f77878" stroke-width="1.1"/>
<rect x="253.50" y="249.12" width="2.60" height="2.60" fill="#f77878"/>
<polyline points="175.70,242.80 187.00,244.17 198.30,243.58 209.60,244.17 220.90,247.30 232.20,252.58 243.50,259.22 254.80,264.11" fill="none" stroke="#333" stroke-width="1.6" stroke-dasharray="3.2,2.4" stroke-linejoin="round"/>
<rect x="174.40" y="241.50" width="2.60" height="2.60" fill="#333"/>
<line x1="187.00" y1="244.76" x2="187.00" y2="243.58" stroke="#333" stroke-width="1.1"/>
<line x1="185.40" y1="243.58" x2="188.60" y2="243.58" stroke="#333" stroke-width="1.1"/>
<line x1="185.40" y1="244.76" x2="188.60" y2="244.76" stroke="#333" stroke-width="1.1"/>
<rect x="185.70" y="242.87" width="2.60" height="2.60" fill="#333"/>
<line x1="198.30" y1="244.17" x2="198.30" y2="243.00" stroke="#333" stroke-width="1.1"/>
<line x1="196.70" y1="243.00" x2="199.90" y2="243.00" stroke="#333" stroke-width="1.1"/>
<line x1="196.70" y1="244.17" x2="199.90" y2="244.17" stroke="#333" stroke-width="1.1"/>
<rect x="197.00" y="242.28" width="2.60" height="2.60" fill="#333"/>
<line x1="209.60" y1="244.95" x2="209.60" y2="243.39" stroke="#333" stroke-width="1.1"/>
<line x1="208.00" y1="243.39" x2="211.20" y2="243.39" stroke="#333" stroke-width="1.1"/>
<line x1="208.00" y1="244.95" x2="211.20" y2="244.95" stroke="#333" stroke-width="1.1"/>
<rect x="208.30" y="242.87" width="2.60" height="2.60" fill="#333"/>
<line x1="220.90" y1="248.27" x2="220.90" y2="246.32" stroke="#333" stroke-width="1.1"/>
<line x1="219.30" y1="246.32" x2="222.50" y2="246.32" stroke="#333" stroke-width="1.1"/>
<line x1="219.30" y1="248.27" x2="222.50" y2="248.27" stroke="#333" stroke-width="1.1"/>
<rect x="219.60" y="246.00" width="2.60" height="2.60" fill="#333"/>
<line x1="232.20" y1="253.94" x2="232.20" y2="251.21" stroke="#333" stroke-width="1.1"/>
<line x1="230.60" y1="251.21" x2="233.80" y2="251.21" stroke="#333" stroke-width="1.1"/>
<line x1="230.60" y1="253.94" x2="233.80" y2="253.94" stroke="#333" stroke-width="1.1"/>
<rect x="230.90" y="251.28" width="2.60" height="2.60" fill="#333"/>
<line x1="243.50" y1="260.98" x2="243.50" y2="257.46" stroke="#333" stroke-width="1.1"/>
<line x1="241.90" y1="257.46" x2="245.10" y2="257.46" stroke="#333" stroke-width="1.1"/>
<line x1="241.90" y1="260.98" x2="245.10" y2="260.98" stroke="#333" stroke-width="1.1"/>
<rect x="242.20" y="257.92" width="2.60" height="2.60" fill="#333"/>
<line x1="254.80" y1="265.87" x2="254.80" y2="262.35" stroke="#333" stroke-width="1.1"/>
<line x1="253.20" y1="262.35" x2="256.40" y2="262.35" stroke="#333" stroke-width="1.1"/>
<line x1="253.20" y1="265.87" x2="256.40" y2="265.87" stroke="#333" stroke-width="1.1"/>
<rect x="253.50" y="262.81" width="2.60" height="2.60" fill="#333"/>
<polyline points="175.70,242.80 187.00,244.76 198.30,247.30 209.60,248.27 220.90,253.55 232.20,257.27 243.50,268.61 254.80,276.62" fill="none" stroke="#333" stroke-width="1.6" stroke-linejoin="round"/>
<rect x="174.40" y="241.50" width="2.60" height="2.60" fill="#333"/>
<line x1="187.00" y1="245.54" x2="187.00" y2="243.97" stroke="#333" stroke-width="1.1"/>
<line x1="185.40" y1="243.97" x2="188.60" y2="243.97" stroke="#333" stroke-width="1.1"/>
<line x1="185.40" y1="245.54" x2="188.60" y2="245.54" stroke="#333" stroke-width="1.1"/>
<rect x="185.70" y="243.46" width="2.60" height="2.60" fill="#333"/>
<line x1="198.30" y1="248.08" x2="198.30" y2="246.51" stroke="#333" stroke-width="1.1"/>
<line x1="196.70" y1="246.51" x2="199.90" y2="246.51" stroke="#333" stroke-width="1.1"/>
<line x1="196.70" y1="248.08" x2="199.90" y2="248.08" stroke="#333" stroke-width="1.1"/>
<rect x="197.00" y="246.00" width="2.60" height="2.60" fill="#333"/>
<line x1="209.60" y1="249.06" x2="209.60" y2="247.49" stroke="#333" stroke-width="1.1"/>
<line x1="208.00" y1="247.49" x2="211.20" y2="247.49" stroke="#333" stroke-width="1.1"/>
<line x1="208.00" y1="249.06" x2="211.20" y2="249.06" stroke="#333" stroke-width="1.1"/>
<rect x="208.30" y="246.97" width="2.60" height="2.60" fill="#333"/>
<line x1="220.90" y1="254.53" x2="220.90" y2="252.58" stroke="#333" stroke-width="1.1"/>
<line x1="219.30" y1="252.58" x2="222.50" y2="252.58" stroke="#333" stroke-width="1.1"/>
<line x1="219.30" y1="254.53" x2="222.50" y2="254.53" stroke="#333" stroke-width="1.1"/>
<rect x="219.60" y="252.25" width="2.60" height="2.60" fill="#333"/>
<line x1="232.20" y1="258.44" x2="232.20" y2="256.09" stroke="#333" stroke-width="1.1"/>
<line x1="230.60" y1="256.09" x2="233.80" y2="256.09" stroke="#333" stroke-width="1.1"/>
<line x1="230.60" y1="258.44" x2="233.80" y2="258.44" stroke="#333" stroke-width="1.1"/>
<rect x="230.90" y="255.97" width="2.60" height="2.60" fill="#333"/>
<line x1="243.50" y1="270.56" x2="243.50" y2="266.65" stroke="#333" stroke-width="1.1"/>
<line x1="241.90" y1="266.65" x2="245.10" y2="266.65" stroke="#333" stroke-width="1.1"/>
<line x1="241.90" y1="270.56" x2="245.10" y2="270.56" stroke="#333" stroke-width="1.1"/>
<rect x="242.20" y="267.31" width="2.60" height="2.60" fill="#333"/>
<line x1="254.80" y1="278.77" x2="254.80" y2="274.47" stroke="#333" stroke-width="1.1"/>
<line x1="253.20" y1="274.47" x2="256.40" y2="274.47" stroke="#333" stroke-width="1.1"/>
<line x1="253.20" y1="278.77" x2="256.40" y2="278.77" stroke="#333" stroke-width="1.1"/>
<rect x="253.50" y="275.32" width="2.60" height="2.60" fill="#333"/>
<path d="M260.5 264.4H262.9V278.4H260.5" fill="none" stroke="#000" stroke-width="1.3"/>
<path d="M268.00 267.30L268.00 264.80M268.00 267.30L270.38 266.53M268.00 267.30L269.47 269.32M268.00 267.30L266.53 269.32M268.00 267.30L265.62 266.53" stroke="#111" stroke-width="1.15" stroke-linecap="round" fill="none"/>
<path d="M268.00 274.90L268.00 272.40M268.00 274.90L270.38 274.13M268.00 274.90L269.47 276.92M268.00 274.90L266.53 276.92M268.00 274.90L265.62 274.13" stroke="#111" stroke-width="1.15" stroke-linecap="round" fill="none"/>
<path d="M273.2 252.4H275.6V280.6H273.2" fill="none" stroke="#000" stroke-width="1.3"/>
<path d="M281.40 263.10L281.40 260.60M281.40 263.10L283.78 262.33M281.40 263.10L282.87 265.12M281.40 263.10L279.93 265.12M281.40 263.10L279.02 262.33" stroke="#111" stroke-width="1.15" stroke-linecap="round" fill="none"/>
<path d="M281.40 271.10L281.40 268.60M281.40 271.10L283.78 270.33M281.40 271.10L282.87 273.12M281.40 271.10L279.93 273.12M281.40 271.10L279.02 270.33" stroke="#111" stroke-width="1.15" stroke-linecap="round" fill="none"/>
<line x1="30.8" y1="240.40" x2="43.2" y2="240.40" stroke="#333" stroke-width="1.5" stroke-dasharray="2.6,2"/>
<rect x="36.00" y="239.20" width="2.4" height="2.4" fill="#333"/>
<text transform="translate(46.80 244.00) scale(0.965 1)" font-size="10.0" text-anchor="start" fill="#111">− hM3Dq − CRS</text>
<line x1="30.8" y1="254.10" x2="43.2" y2="254.10" stroke="#333" stroke-width="1.5"/>
<rect x="36.00" y="252.90" width="2.4" height="2.4" fill="#333"/>
<text transform="translate(46.80 257.70) scale(0.965 1)" font-size="10.0" text-anchor="start" fill="#111">− hM3Dq + CRS</text>
<line x1="30.8" y1="268.40" x2="43.2" y2="268.40" stroke="#5b9bf5" stroke-width="1.5"/>
<rect x="36.00" y="267.20" width="2.4" height="2.4" fill="#5b9bf5"/>
<text transform="translate(46.80 272.00) scale(0.965 1)" font-size="10.0" text-anchor="start" fill="#111">+ hM3Dq − CRS</text>
<line x1="30.8" y1="282.30" x2="43.2" y2="282.30" stroke="#f77878" stroke-width="1.5"/>
<rect x="36.00" y="281.10" width="2.4" height="2.4" fill="#f77878"/>
<text transform="translate(46.80 285.90) scale(0.965 1)" font-size="10.0" text-anchor="start" fill="#111">+ hM3Dq + CRS</text>
<text transform="translate(296.30 212.90) scale(1 1)" font-size="15.5" text-anchor="start" font-weight="bold" fill="#111">d</text>
<line x1="324.40" y1="223.70" x2="324.40" y2="302.80" stroke="#000" stroke-width="1.35"/>
<line x1="323.80" y1="302.20" x2="418.50" y2="302.20" stroke="#000" stroke-width="1.35"/>
<line x1="322.20" y1="302.20" x2="324.40" y2="302.20" stroke="#000" stroke-width="1.35"/>
<text transform="translate(321.50 305.70) scale(0.965 1)" font-size="10.0" text-anchor="end" fill="#111">0</text>
<line x1="322.20" y1="286.60" x2="324.40" y2="286.60" stroke="#000" stroke-width="1.35"/>
<text transform="translate(321.50 290.10) scale(0.965 1)" font-size="10.0" text-anchor="end" fill="#111">1</text>
<line x1="322.20" y1="271.00" x2="324.40" y2="271.00" stroke="#000" stroke-width="1.35"/>
<text transform="translate(321.50 274.50) scale(0.965 1)" font-size="10.0" text-anchor="end" fill="#111">2</text>
<line x1="322.20" y1="255.40" x2="324.40" y2="255.40" stroke="#000" stroke-width="1.35"/>
<text transform="translate(321.50 258.90) scale(0.965 1)" font-size="10.0" text-anchor="end" fill="#111">3</text>
<line x1="322.20" y1="239.80" x2="324.40" y2="239.80" stroke="#000" stroke-width="1.35"/>
<text transform="translate(321.50 243.30) scale(0.965 1)" font-size="10.0" text-anchor="end" fill="#111">4</text>
<line x1="322.20" y1="224.20" x2="324.40" y2="224.20" stroke="#000" stroke-width="1.35"/>
<text transform="translate(321.50 227.70) scale(0.965 1)" font-size="10.0" text-anchor="end" fill="#111">5</text>
<line x1="332.10" y1="302.20" x2="332.10" y2="304.50" stroke="#000" stroke-width="1.35"/>
<text transform="translate(332.10 314.30) scale(0.965 1)" font-size="10.0" text-anchor="middle" fill="#111">0</text>
<line x1="343.43" y1="302.20" x2="343.43" y2="304.50" stroke="#000" stroke-width="1.35"/>
<text transform="translate(343.43 314.30) scale(0.965 1)" font-size="10.0" text-anchor="middle" fill="#111">1</text>
<line x1="354.76" y1="302.20" x2="354.76" y2="304.50" stroke="#000" stroke-width="1.35"/>
<text transform="translate(354.76 314.30) scale(0.965 1)" font-size="10.0" text-anchor="middle" fill="#111">2</text>
<line x1="366.09" y1="302.20" x2="366.09" y2="304.50" stroke="#000" stroke-width="1.35"/>
<text transform="translate(366.09 314.30) scale(0.965 1)" font-size="10.0" text-anchor="middle" fill="#111">3</text>
<line x1="377.42" y1="302.20" x2="377.42" y2="304.50" stroke="#000" stroke-width="1.35"/>
<text transform="translate(377.42 314.30) scale(0.965 1)" font-size="10.0" text-anchor="middle" fill="#111">4</text>
<line x1="388.75" y1="302.20" x2="388.75" y2="304.50" stroke="#000" stroke-width="1.35"/>
<text transform="translate(388.75 314.30) scale(0.965 1)" font-size="10.0" text-anchor="middle" fill="#111">5</text>
<line x1="400.08" y1="302.20" x2="400.08" y2="304.50" stroke="#000" stroke-width="1.35"/>
<text transform="translate(400.08 314.30) scale(0.965 1)" font-size="10.0" text-anchor="middle" fill="#111">6</text>
<line x1="411.41" y1="302.20" x2="411.41" y2="304.50" stroke="#000" stroke-width="1.35"/>
<text transform="translate(411.41 314.30) scale(0.965 1)" font-size="10.0" text-anchor="middle" fill="#111">7</text>
<text transform="translate(373.30 326.60) scale(0.965 1)" font-size="10.0" text-anchor="middle" fill="#111">Days of 3%DSS</text>
<text transform="translate(310.20 263.50) rotate(-90) scale(0.965 1)" font-size="10.0" text-anchor="middle" fill="#111">Diarrhea score</text>
<polyline points="332.10,302.20 343.43,302.20 354.76,302.20 366.09,302.20 377.42,302.20 388.75,301.11 400.08,298.30 411.41,292.53" fill="none" stroke="#f77878" stroke-width="1.6" stroke-linejoin="round"/>
<rect x="330.80" y="300.90" width="2.60" height="2.60" fill="#f77878"/>
<rect x="342.13" y="300.90" width="2.60" height="2.60" fill="#f77878"/>
<rect x="353.46" y="300.90" width="2.60" height="2.60" fill="#f77878"/>
<rect x="364.79" y="300.90" width="2.60" height="2.60" fill="#f77878"/>
<rect x="376.12" y="300.90" width="2.60" height="2.60" fill="#f77878"/>
<line x1="388.75" y1="302.04" x2="388.75" y2="300.17" stroke="#f77878" stroke-width="1.1"/>
<line x1="387.15" y1="300.17" x2="390.35" y2="300.17" stroke="#f77878" stroke-width="1.1"/>
<line x1="387.15" y1="302.04" x2="390.35" y2="302.04" stroke="#f77878" stroke-width="1.1"/>
<rect x="387.45" y="299.81" width="2.60" height="2.60" fill="#f77878"/>
<line x1="400.08" y1="299.86" x2="400.08" y2="296.74" stroke="#f77878" stroke-width="1.1"/>
<line x1="398.48" y1="296.74" x2="401.68" y2="296.74" stroke="#f77878" stroke-width="1.1"/>
<line x1="398.48" y1="299.86" x2="401.68" y2="299.86" stroke="#f77878" stroke-width="1.1"/>
<rect x="398.78" y="297.00" width="2.60" height="2.60" fill="#f77878"/>
<line x1="411.41" y1="295.65" x2="411.41" y2="289.41" stroke="#f77878" stroke-width="1.1"/>
<line x1="409.81" y1="289.41" x2="413.01" y2="289.41" stroke="#f77878" stroke-width="1.1"/>
<line x1="409.81" y1="295.65" x2="413.01" y2="295.65" stroke="#f77878" stroke-width="1.1"/>
<rect x="410.11" y="291.23" width="2.60" height="2.60" fill="#f77878"/>
<polyline points="332.10,302.20 343.43,302.20 354.76,302.20 366.09,302.20 377.42,302.20 388.75,294.40 400.08,292.53 411.41,284.73" fill="none" stroke="#5b9bf5" stroke-width="1.6" stroke-linejoin="round"/>
<rect x="330.80" y="300.90" width="2.60" height="2.60" fill="#5b9bf5"/>
<rect x="342.13" y="300.90" width="2.60" height="2.60" fill="#5b9bf5"/>
<rect x="353.46" y="300.90" width="2.60" height="2.60" fill="#5b9bf5"/>
<rect x="364.79" y="300.90" width="2.60" height="2.60" fill="#5b9bf5"/>
<rect x="376.12" y="300.90" width="2.60" height="2.60" fill="#5b9bf5"/>
<line x1="388.75" y1="299.86" x2="388.75" y2="288.94" stroke="#5b9bf5" stroke-width="1.1"/>
<line x1="387.15" y1="288.94" x2="390.35" y2="288.94" stroke="#5b9bf5" stroke-width="1.1"/>
<line x1="387.15" y1="299.86" x2="390.35" y2="299.86" stroke="#5b9bf5" stroke-width="1.1"/>
<rect x="387.45" y="293.10" width="2.60" height="2.60" fill="#5b9bf5"/>
<line x1="400.08" y1="297.21" x2="400.08" y2="287.85" stroke="#5b9bf5" stroke-width="1.1"/>
<line x1="398.48" y1="287.85" x2="401.68" y2="287.85" stroke="#5b9bf5" stroke-width="1.1"/>
<line x1="398.48" y1="297.21" x2="401.68" y2="297.21" stroke="#5b9bf5" stroke-width="1.1"/>
<rect x="398.78" y="291.23" width="2.60" height="2.60" fill="#5b9bf5"/>
<line x1="411.41" y1="288.63" x2="411.41" y2="280.83" stroke="#5b9bf5" stroke-width="1.1"/>
<line x1="409.81" y1="280.83" x2="413.01" y2="280.83" stroke="#5b9bf5" stroke-width="1.1"/>
<line x1="409.81" y1="288.63" x2="413.01" y2="288.63" stroke="#5b9bf5" stroke-width="1.1"/>
<rect x="410.11" y="283.43" width="2.60" height="2.60" fill="#5b9bf5"/>
<polyline points="332.10,302.20 343.43,302.20 354.76,302.20 366.09,302.20 377.42,302.20 388.75,302.20 400.08,300.64 411.41,276.93" fill="none" stroke="#333" stroke-width="1.6" stroke-dasharray="3.2,2.4" stroke-linejoin="round"/>
<rect x="330.80" y="300.90" width="2.60" height="2.60" fill="#333"/>
<rect x="342.13" y="300.90" width="2.60" height="2.60" fill="#333"/>
<rect x="353.46" y="300.90" width="2.60" height="2.60" fill="#333"/>
<rect x="364.79" y="300.90" width="2.60" height="2.60" fill="#333"/>
<rect x="376.12" y="300.90" width="2.60" height="2.60" fill="#333"/>
<rect x="387.45" y="300.90" width="2.60" height="2.60" fill="#333"/>
<line x1="400.08" y1="301.42" x2="400.08" y2="299.86" stroke="#333" stroke-width="1.1"/>
<line x1="398.48" y1="299.86" x2="401.68" y2="299.86" stroke="#333" stroke-width="1.1"/>
<line x1="398.48" y1="301.42" x2="401.68" y2="301.42" stroke="#333" stroke-width="1.1"/>
<rect x="398.78" y="299.34" width="2.60" height="2.60" fill="#333"/>
<line x1="411.41" y1="279.74" x2="411.41" y2="274.12" stroke="#333" stroke-width="1.1"/>
<line x1="409.81" y1="274.12" x2="413.01" y2="274.12" stroke="#333" stroke-width="1.1"/>
<line x1="409.81" y1="279.74" x2="413.01" y2="279.74" stroke="#333" stroke-width="1.1"/>
<rect x="410.11" y="275.63" width="2.60" height="2.60" fill="#333"/>
<polyline points="332.10,302.20 343.43,302.20 354.76,302.20 366.09,302.20 377.42,302.20 388.75,277.55 400.08,258.05 411.41,249.16" fill="none" stroke="#333" stroke-width="1.6" stroke-linejoin="round"/>
<rect x="330.80" y="300.90" width="2.60" height="2.60" fill="#333"/>
<rect x="342.13" y="300.90" width="2.60" height="2.60" fill="#333"/>
<rect x="353.46" y="300.90" width="2.60" height="2.60" fill="#333"/>
<rect x="364.79" y="300.90" width="2.60" height="2.60" fill="#333"/>
<rect x="376.12" y="300.90" width="2.60" height="2.60" fill="#333"/>
<line x1="388.75" y1="279.42" x2="388.75" y2="275.68" stroke="#333" stroke-width="1.1"/>
<line x1="387.15" y1="275.68" x2="390.35" y2="275.68" stroke="#333" stroke-width="1.1"/>
<line x1="387.15" y1="279.42" x2="390.35" y2="279.42" stroke="#333" stroke-width="1.1"/>
<rect x="387.45" y="276.25" width="2.60" height="2.60" fill="#333"/>
<line x1="400.08" y1="261.95" x2="400.08" y2="254.15" stroke="#333" stroke-width="1.1"/>
<line x1="398.48" y1="254.15" x2="401.68" y2="254.15" stroke="#333" stroke-width="1.1"/>
<line x1="398.48" y1="261.95" x2="401.68" y2="261.95" stroke="#333" stroke-width="1.1"/>
<rect x="398.78" y="256.75" width="2.60" height="2.60" fill="#333"/>
<line x1="411.41" y1="255.40" x2="411.41" y2="242.92" stroke="#333" stroke-width="1.1"/>
<line x1="409.81" y1="242.92" x2="413.01" y2="242.92" stroke="#333" stroke-width="1.1"/>
<line x1="409.81" y1="255.40" x2="413.01" y2="255.40" stroke="#333" stroke-width="1.1"/>
<rect x="410.11" y="247.86" width="2.60" height="2.60" fill="#333"/>
<path d="M417.6 245.0H419.9V272.6H417.6" fill="none" stroke="#000" stroke-width="1.3"/>
<path d="M425.30 254.70L425.30 252.20M425.30 254.70L427.68 253.93M425.30 254.70L426.77 256.72M425.30 254.70L423.83 256.72M425.30 254.70L422.92 253.93" stroke="#111" stroke-width="1.15" stroke-linecap="round" fill="none"/>
<path d="M425.30 263.00L425.30 260.50M425.30 263.00L427.68 262.23M425.30 263.00L426.77 265.02M425.30 263.00L423.83 265.02M425.30 263.00L422.92 262.23" stroke="#111" stroke-width="1.15" stroke-linecap="round" fill="none"/>
<path d="M431.1 245.3H433.5V288.9H431.1" fill="none" stroke="#000" stroke-width="1.3"/>
<path d="M440.00 261.70L440.00 259.20M440.00 261.70L442.38 260.93M440.00 261.70L441.47 263.72M440.00 261.70L438.53 263.72M440.00 261.70L437.62 260.93" stroke="#111" stroke-width="1.15" stroke-linecap="round" fill="none"/>
<path d="M440.00 270.00L440.00 267.50M440.00 270.00L442.38 269.23M440.00 270.00L441.47 272.02M440.00 270.00L438.53 272.02M440.00 270.00L437.62 269.23" stroke="#111" stroke-width="1.15" stroke-linecap="round" fill="none"/>
<text transform="translate(454.60 212.90) scale(1 1)" font-size="15.5" text-anchor="start" font-weight="bold" fill="#111">e</text>
<defs><linearGradient id="phbg" x1="0" y1="0" x2="1" y2="1"><stop offset="0" stop-color="#dadad7"/><stop offset="0.5" stop-color="#e1e1de"/><stop offset="1" stop-color="#d8d8d4"/></linearGradient><clipPath id="phc"><rect x="469.6" y="209.4" width="78.60" height="101.40"/></clipPath></defs>
<g clip-path="url(#phc)">
<rect x="469.6" y="209.4" width="78.60" height="101.40" fill="url(#phbg)"/>
<defs><linearGradient id="cg1" gradientUnits="userSpaceOnUse" x1="483.5" y1="0" x2="540.5" y2="0"><stop offset="0" stop-color="#5a3c24"/><stop offset="0.45" stop-color="#684830"/><stop offset="0.7" stop-color="#7a5a40"/><stop offset="1" stop-color="#c8a080"/></linearGradient></defs><path d="M483.5 221.8 490.0 221.3 498.0 220.8 505.0 219.6 510.0 217.8 514.0 218.0 517.5 221.5 522.0 223.4 530.0 223.8 540.5 224.2" fill="none" stroke="#a4a4a0" stroke-width="5.0" stroke-linecap="round" opacity="0.55" transform="translate(0.4,1.5)" filter="url(#blur1)"/><path d="M480.58,210.70 C477.03,210.42 473.70,212.77 473.70,217.60 C473.70,222.43 477.03,224.50 480.58,224.22 C483.13,223.95 484.80,222.57 484.80,221.19 C483.91,219.26 483.25,217.60 483.25,215.67 C483.47,213.46 484.25,211.80 480.58,210.70 Z" fill="#a0a09c" opacity="0.6" transform="translate(1.2,1.2)" filter="url(#blur2)"/><path d="M483.5 221.8 490.0 221.3 498.0 220.8 505.0 219.6 510.0 217.8 514.0 218.0 517.5 221.5 522.0 223.4 530.0 223.8 540.5 224.2" fill="none" stroke="url(#cg1)" stroke-width="3.0" stroke-linecap="round" stroke-linejoin="round"/><circle cx="539.9" cy="224.2" r="1.50" fill="#d89070" opacity="0.75"/><path d="M480.58,210.70 C477.03,210.42 473.70,212.77 473.70,217.60 C473.70,222.43 477.03,224.50 480.58,224.22 C483.13,223.95 484.80,222.57 484.80,221.19 C483.91,219.26 483.25,217.60 483.25,215.67 C483.47,213.46 484.25,211.80 480.58,210.70 Z" fill="#5e4028"/><ellipse cx="477.58" cy="218.98" rx="2.78" ry="3.04" fill="#8a6a4c" opacity="0.55" filter="url(#blur1)"/><circle cx="476.48" cy="220.64" r="0.8" fill="#d8c8b8" opacity="0.7"/>
<defs><linearGradient id="cg2" gradientUnits="userSpaceOnUse" x1="484" y1="0" x2="530.8" y2="0"><stop offset="0" stop-color="#6a4a30"/><stop offset="0.5" stop-color="#806048"/><stop offset="1" stop-color="#a87860"/></linearGradient></defs><path d="M484.0 244.4 492.0 244.0 500.0 244.6 508.0 244.0 516.0 243.4 524.0 243.3 530.8 243.4" fill="none" stroke="#a4a4a0" stroke-width="4.9" stroke-linecap="round" opacity="0.55" transform="translate(0.4,1.5)" filter="url(#blur1)"/><path d="M480.70,233.10 C477.24,232.81 474.00,235.31 474.00,240.45 C474.00,245.59 477.24,247.80 480.70,247.51 C483.18,247.21 484.80,245.74 484.80,244.27 C483.94,242.21 483.29,240.45 483.29,238.39 C483.50,236.04 484.26,234.28 480.70,233.10 Z" fill="#a0a09c" opacity="0.6" transform="translate(1.2,1.2)" filter="url(#blur2)"/><path d="M484.0 244.4 492.0 244.0 500.0 244.6 508.0 244.0 516.0 243.4 524.0 243.3 530.8 243.4" fill="none" stroke="url(#cg2)" stroke-width="2.9" stroke-linecap="round" stroke-linejoin="round"/><circle cx="530.2" cy="243.4" r="1.45" fill="#c83828" opacity="0.75"/><path d="M480.70,233.10 C477.24,232.81 474.00,235.31 474.00,240.45 C474.00,245.59 477.24,247.80 480.70,247.51 C483.18,247.21 484.80,245.74 484.80,244.27 C483.94,242.21 483.29,240.45 483.29,238.39 C483.50,236.04 484.26,234.28 480.70,233.10 Z" fill="#6a4a2e"/><ellipse cx="477.78" cy="241.92" rx="2.70" ry="3.23" fill="#8a6a4c" opacity="0.55" filter="url(#blur1)"/><circle cx="476.70" cy="243.68" r="0.8" fill="#d8c8b8" opacity="0.7"/>
<defs><linearGradient id="cg3" gradientUnits="userSpaceOnUse" x1="484" y1="0" x2="537.6" y2="0"><stop offset="0" stop-color="#6a4a30"/><stop offset="0.4" stop-color="#9a7a5a"/><stop offset="1" stop-color="#c8a080"/></linearGradient></defs><path d="M484.0 265.6 492.0 265.6 500.0 265.9 510.0 265.8 520.0 265.6 530.0 265.4 537.6 265.3" fill="none" stroke="#a4a4a0" stroke-width="4.3" stroke-linecap="round" opacity="0.55" transform="translate(0.4,1.5)" filter="url(#blur1)"/><path d="M479.67,256.20 C475.35,255.90 471.30,258.46 471.30,263.75 C471.30,269.04 475.35,271.30 479.67,271.00 C482.78,270.70 484.80,269.19 484.80,267.68 C483.72,265.56 482.91,263.75 482.91,261.64 C483.18,259.22 484.12,257.41 479.67,256.20 Z" fill="#a0a09c" opacity="0.6" transform="translate(1.2,1.2)" filter="url(#blur2)"/><path d="M484.0 265.6 492.0 265.6 500.0 265.9 510.0 265.8 520.0 265.6 530.0 265.4 537.6 265.3" fill="none" stroke="url(#cg3)" stroke-width="2.3" stroke-linecap="round" stroke-linejoin="round"/><circle cx="537.0" cy="265.3" r="1.15" fill="#d06040" opacity="0.75"/><path d="M479.67,256.20 C475.35,255.90 471.30,258.46 471.30,263.75 C471.30,269.04 475.35,271.30 479.67,271.00 C482.78,270.70 484.80,269.19 484.80,267.68 C483.72,265.56 482.91,263.75 482.91,261.64 C483.18,259.22 484.12,257.41 479.67,256.20 Z" fill="#553a20"/><ellipse cx="476.03" cy="265.26" rx="3.38" ry="3.32" fill="#8a6a4c" opacity="0.55" filter="url(#blur1)"/><circle cx="474.68" cy="267.07" r="0.8" fill="#d8c8b8" opacity="0.7"/>
<defs><linearGradient id="cg4" gradientUnits="userSpaceOnUse" x1="486" y1="0" x2="544.4" y2="0"><stop offset="0" stop-color="#5a3a24"/><stop offset="0.5" stop-color="#7a5a40"/><stop offset="1" stop-color="#a07860"/></linearGradient></defs><path d="M486.0 288.4 494.0 288.2 502.0 288.4 510.0 288.6 518.0 288.4 528.0 288.2 536.0 288.2 544.4 288.2" fill="none" stroke="#a4a4a0" stroke-width="4.9" stroke-linecap="round" opacity="0.55" transform="translate(0.4,1.5)" filter="url(#blur1)"/><path d="M481.10,278.30 C476.30,278.00 471.80,280.56 471.80,285.85 C471.80,291.13 476.30,293.40 481.10,293.10 C484.55,292.80 486.80,291.29 486.80,289.78 C485.60,287.66 484.70,285.85 484.70,283.74 C485.00,281.32 486.05,279.51 481.10,278.30 Z" fill="#a0a09c" opacity="0.6" transform="translate(1.2,1.2)" filter="url(#blur2)"/><path d="M486.0 288.4 494.0 288.2 502.0 288.4 510.0 288.6 518.0 288.4 528.0 288.2 536.0 288.2 544.4 288.2" fill="none" stroke="url(#cg4)" stroke-width="2.9" stroke-linecap="round" stroke-linejoin="round"/><circle cx="543.8" cy="288.2" r="1.45" fill="#d05038" opacity="0.75"/><path d="M481.10,278.30 C476.30,278.00 471.80,280.56 471.80,285.85 C471.80,291.13 476.30,293.40 481.10,293.10 C484.55,292.80 486.80,291.29 486.80,289.78 C485.60,287.66 484.70,285.85 484.70,283.74 C485.00,281.32 486.05,279.51 481.10,278.30 Z" fill="#583a22"/><ellipse cx="477.05" cy="287.36" rx="3.75" ry="3.32" fill="#8a6a4c" opacity="0.55" filter="url(#blur1)"/><circle cx="475.55" cy="289.17" r="0.8" fill="#d8c8b8" opacity="0.7"/>
<line x1="520" y1="288.4" x2="527" y2="288.4" stroke="#4a2818" stroke-width="2" opacity="0.6"/>
<line x1="505" y1="288.6" x2="509" y2="288.6" stroke="#4a2818" stroke-width="2" opacity="0.6"/>
<line x1="496" y1="265.8" x2="500" y2="265.8" stroke="#4a2818" stroke-width="2" opacity="0.6"/>
<line x1="508" y1="265.8" x2="512" y2="265.8" stroke="#4a2818" stroke-width="2" opacity="0.6"/>
<defs><linearGradient id="rul" x1="0" y1="0" x2="1" y2="0"><stop offset="0" stop-color="#8a7e6e"/><stop offset="0.3" stop-color="#8a8270"/><stop offset="0.45" stop-color="#7e8070"/><stop offset="1" stop-color="#858272"/></linearGradient></defs>
<rect x="485.6" y="297.3" width="62.60" height="14.50" fill="url(#rul)"/>
<line x1="486.40" y1="308.60" x2="486.40" y2="310.8" stroke="#6a6658" stroke-width="0.35"/>
<line x1="487.40" y1="309.50" x2="487.40" y2="310.8" stroke="#6a6658" stroke-width="0.35"/>
<line x1="488.40" y1="309.50" x2="488.40" y2="310.8" stroke="#6a6658" stroke-width="0.35"/>
<line x1="489.40" y1="309.50" x2="489.40" y2="310.8" stroke="#6a6658" stroke-width="0.35"/>
<line x1="490.40" y1="309.50" x2="490.40" y2="310.8" stroke="#6a6658" stroke-width="0.35"/>
<line x1="491.40" y1="308.60" x2="491.40" y2="310.8" stroke="#6a6658" stroke-width="0.35"/>
<line x1="492.40" y1="309.50" x2="492.40" y2="310.8" stroke="#6a6658" stroke-width="0.35"/>
<line x1="493.40" y1="309.50" x2="493.40" y2="310.8" stroke="#6a6658" stroke-width="0.35"/>
<line x1="494.40" y1="309.50" x2="494.40" y2="310.8" stroke="#6a6658" stroke-width="0.35"/>
<line x1="495.40" y1="309.50" x2="495.40" y2="310.8" stroke="#6a6658" stroke-width="0.35"/>
<line x1="496.40" y1="308.60" x2="496.40" y2="310.8" stroke="#6a6658" stroke-width="0.35"/>
<line x1="497.40" y1="309.50" x2="497.40" y2="310.8" stroke="#6a6658" stroke-width="0.35"/>
<line x1="498.40" y1="309.50" x2="498.40" y2="310.8" stroke="#6a6658" stroke-width="0.35"/>
<line x1="499.40" y1="309.50" x2="499.40" y2="310.8" stroke="#6a6658" stroke-width="0.35"/>
<line x1="500.40" y1="309.50" x2="500.40" y2="310.8" stroke="#6a6658" stroke-width="0.35"/>
<line x1="501.40" y1="308.60" x2="501.40" y2="310.8" stroke="#6a6658" stroke-width="0.35"/>
<line x1="502.40" y1="309.50" x2="502.40" y2="310.8" stroke="#6a6658" stroke-width="0.35"/>
<line x1="503.40" y1="309.50" x2="503.40" y2="310.8" stroke="#6a6658" stroke-width="0.35"/>
<line x1="504.40" y1="309.50" x2="504.40" y2="310.8" stroke="#6a6658" stroke-width="0.35"/>
<line x1="505.40" y1="309.50" x2="505.40" y2="310.8" stroke="#6a6658" stroke-width="0.35"/>
<line x1="506.40" y1="308.60" x2="506.40" y2="310.8" stroke="#6a6658" stroke-width="0.35"/>
<line x1="507.40" y1="309.50" x2="507.40" y2="310.8" stroke="#6a6658" stroke-width="0.35"/>
<line x1="508.40" y1="309.50" x2="508.40" y2="310.8" stroke="#6a6658" stroke-width="0.35"/>
<line x1="509.40" y1="309.50" x2="509.40" y2="310.8" stroke="#6a6658" stroke-width="0.35"/>
<line x1="510.40" y1="309.50" x2="510.40" y2="310.8" stroke="#6a6658" stroke-width="0.35"/>
<line x1="511.40" y1="308.60" x2="511.40" y2="310.8" stroke="#6a6658" stroke-width="0.35"/>
<line x1="512.40" y1="309.50" x2="512.40" y2="310.8" stroke="#6a6658" stroke-width="0.35"/>
<line x1="513.40" y1="309.50" x2="513.40" y2="310.8" stroke="#6a6658" stroke-width="0.35"/>
<line x1="514.40" y1="309.50" x2="514.40" y2="310.8" stroke="#6a6658" stroke-width="0.35"/>
<line x1="515.40" y1="309.50" x2="515.40" y2="310.8" stroke="#6a6658" stroke-width="0.35"/>
<line x1="516.40" y1="308.60" x2="516.40" y2="310.8" stroke="#6a6658" stroke-width="0.35"/>
<line x1="517.40" y1="309.50" x2="517.40" y2="310.8" stroke="#6a6658" stroke-width="0.35"/>
<line x1="518.40" y1="309.50" x2="518.40" y2="310.8" stroke="#6a6658" stroke-width="0.35"/>
<line x1="519.40" y1="309.50" x2="519.40" y2="310.8" stroke="#6a6658" stroke-width="0.35"/>
<line x1="520.40" y1="309.50" x2="520.40" y2="310.8" stroke="#6a6658" stroke-width="0.35"/>
<line x1="521.40" y1="308.60" x2="521.40" y2="310.8" stroke="#6a6658" stroke-width="0.35"/>
<line x1="522.40" y1="309.50" x2="522.40" y2="310.8" stroke="#6a6658" stroke-width="0.35"/>
<line x1="523.40" y1="309.50" x2="523.40" y2="310.8" stroke="#6a6658" stroke-width="0.35"/>
<line x1="524.40" y1="309.50" x2="524.40" y2="310.8" stroke="#6a6658" stroke-width="0.35"/>
<line x1="525.40" y1="309.50" x2="525.40" y2="310.8" stroke="#6a6658" stroke-width="0.35"/>
<line x1="526.40" y1="308.60" x2="526.40" y2="310.8" stroke="#6a6658" stroke-width="0.35"/>
<line x1="527.40" y1="309.50" x2="527.40" y2="310.8" stroke="#6a6658" stroke-width="0.35"/>
<line x1="528.40" y1="309.50" x2="528.40" y2="310.8" stroke="#6a6658" stroke-width="0.35"/>
<line x1="529.40" y1="309.50" x2="529.40" y2="310.8" stroke="#6a6658" stroke-width="0.35"/>
<line x1="530.40" y1="309.50" x2="530.40" y2="310.8" stroke="#6a6658" stroke-width="0.35"/>
<line x1="531.40" y1="308.60" x2="531.40" y2="310.8" stroke="#6a6658" stroke-width="0.35"/>
<line x1="532.40" y1="309.50" x2="532.40" y2="310.8" stroke="#6a6658" stroke-width="0.35"/>
<line x1="533.40" y1="309.50" x2="533.40" y2="310.8" stroke="#6a6658" stroke-width="0.35"/>
<line x1="534.40" y1="309.50" x2="534.40" y2="310.8" stroke="#6a6658" stroke-width="0.35"/>
<line x1="535.40" y1="309.50" x2="535.40" y2="310.8" stroke="#6a6658" stroke-width="0.35"/>
<line x1="536.40" y1="308.60" x2="536.40" y2="310.8" stroke="#6a6658" stroke-width="0.35"/>
<line x1="537.40" y1="309.50" x2="537.40" y2="310.8" stroke="#6a6658" stroke-width="0.35"/>
<line x1="538.40" y1="309.50" x2="538.40" y2="310.8" stroke="#6a6658" stroke-width="0.35"/>
<line x1="539.40" y1="309.50" x2="539.40" y2="310.8" stroke="#6a6658" stroke-width="0.35"/>
<line x1="540.40" y1="309.50" x2="540.40" y2="310.8" stroke="#6a6658" stroke-width="0.35"/>
<line x1="541.40" y1="308.60" x2="541.40" y2="310.8" stroke="#6a6658" stroke-width="0.35"/>
<line x1="542.40" y1="309.50" x2="542.40" y2="310.8" stroke="#6a6658" stroke-width="0.35"/>
<line x1="543.40" y1="309.50" x2="543.40" y2="310.8" stroke="#6a6658" stroke-width="0.35"/>
<line x1="544.40" y1="309.50" x2="544.40" y2="310.8" stroke="#6a6658" stroke-width="0.35"/>
<line x1="545.40" y1="309.50" x2="545.40" y2="310.8" stroke="#6a6658" stroke-width="0.35"/>
<line x1="546.40" y1="308.60" x2="546.40" y2="310.8" stroke="#6a6658" stroke-width="0.35"/>
<line x1="547.40" y1="309.50" x2="547.40" y2="310.8" stroke="#6a6658" stroke-width="0.35"/>
<text x="491.5" y="305.0" font-size="3.6" fill="#5a584c">1</text>
<text x="499.5" y="305.0" font-size="3.6" fill="#5a584c">2</text>
<text x="507.5" y="305.0" font-size="3.6" fill="#5a584c">3</text>
<text x="515.5" y="305.0" font-size="3.6" fill="#5a584c">4</text>
<text x="523.5" y="305.0" font-size="3.6" fill="#5a584c">5</text>
<text x="531.5" y="305.0" font-size="3.6" fill="#5a584c">6</text>
<text x="539.5" y="305.0" font-size="3.6" fill="#5a584c">7</text>
</g>
<text x="547.0" y="217.7" font-size="8.8" text-anchor="end" fill="#1a1a1a">− hM3Dq − CRS</text>
<text x="547.0" y="235.0" font-size="8.8" text-anchor="end" fill="#1a1a1a">− hM3Dq + CRS</text>
<text x="547.0" y="257.1" font-size="8.8" text-anchor="end" fill="#1a1a1a">+ hM3Dq − CRS</text>
<text x="547.0" y="278.6" font-size="8.8" text-anchor="end" fill="#1a1a1a">+ hM3Dq + CRS</text>
<rect x="592.55" y="248.60" width="8.30" height="54.60" fill="#ffffff" stroke="#000" stroke-width="1.35"/>
<rect x="607.25" y="255.32" width="8.30" height="47.88" fill="#a0a0a4" stroke="#000" stroke-width="1.35"/>
<rect x="622.35" y="246.92" width="8.30" height="56.28" fill="#8cb8f8" stroke="#000" stroke-width="1.35"/>
<rect x="637.25" y="247.76" width="8.30" height="55.44" fill="#f9a0a0" stroke="#000" stroke-width="1.35"/>
<line x1="596.70" y1="248.60" x2="596.70" y2="246.92" stroke="#000" stroke-width="1.35"/>
<line x1="594.40" y1="246.92" x2="599.00" y2="246.92" stroke="#000" stroke-width="1.35"/>
<circle cx="596.70" cy="244.40" r="1.4" fill="#000"/>
<circle cx="595.70" cy="246.08" r="1.4" fill="#000"/>
<circle cx="597.70" cy="247.76" r="1.4" fill="#000"/>
<circle cx="596.70" cy="249.44" r="1.4" fill="#000"/>
<circle cx="598.70" cy="251.12" r="1.4" fill="#000"/>
<line x1="611.40" y1="255.32" x2="611.40" y2="253.22" stroke="#000" stroke-width="1.35"/>
<line x1="609.10" y1="253.22" x2="613.70" y2="253.22" stroke="#000" stroke-width="1.35"/>
<circle cx="611.40" cy="250.28" r="1.4" fill="#000"/>
<circle cx="610.40" cy="253.64" r="1.4" fill="#000"/>
<circle cx="612.40" cy="256.16" r="1.4" fill="#000"/>
<circle cx="611.40" cy="259.52" r="1.4" fill="#000"/>
<circle cx="613.40" cy="262.88" r="1.4" fill="#000"/>
<line x1="626.50" y1="246.92" x2="626.50" y2="244.40" stroke="#000" stroke-width="1.35"/>
<line x1="624.20" y1="244.40" x2="628.80" y2="244.40" stroke="#000" stroke-width="1.35"/>
<circle cx="626.50" cy="234.32" r="1.4" fill="#000"/>
<circle cx="625.50" cy="245.24" r="1.4" fill="#000"/>
<circle cx="627.50" cy="247.76" r="1.4" fill="#000"/>
<circle cx="626.50" cy="249.44" r="1.4" fill="#000"/>
<circle cx="628.50" cy="251.12" r="1.4" fill="#000"/>
<line x1="641.40" y1="247.76" x2="641.40" y2="244.40" stroke="#000" stroke-width="1.35"/>
<line x1="639.10" y1="244.40" x2="643.70" y2="244.40" stroke="#000" stroke-width="1.35"/>
<circle cx="641.40" cy="235.16" r="1.4" fill="#000"/>
<circle cx="639.40" cy="244.40" r="1.4" fill="#000"/>
<circle cx="643.40" cy="245.24" r="1.4" fill="#000"/>
<circle cx="641.40" cy="248.60" r="1.4" fill="#000"/>
<circle cx="639.40" cy="255.32" r="1.4" fill="#000"/>
<circle cx="643.40" cy="256.16" r="1.4" fill="#000"/>
<line x1="587.00" y1="218.70" x2="587.00" y2="303.80" stroke="#000" stroke-width="1.35"/>
<line x1="586.40" y1="303.20" x2="652.20" y2="303.20" stroke="#000" stroke-width="1.35"/>
<line x1="584.80" y1="303.20" x2="587.00" y2="303.20" stroke="#000" stroke-width="1.35"/>
<text transform="translate(584.10 306.70) scale(0.965 1)" font-size="10.0" text-anchor="end" fill="#111">0</text>
<line x1="584.80" y1="286.40" x2="587.00" y2="286.40" stroke="#000" stroke-width="1.35"/>
<text transform="translate(584.10 289.90) scale(0.965 1)" font-size="10.0" text-anchor="end" fill="#111">2</text>
<line x1="584.80" y1="269.60" x2="587.00" y2="269.60" stroke="#000" stroke-width="1.35"/>
<text transform="translate(584.10 273.10) scale(0.965 1)" font-size="10.0" text-anchor="end" fill="#111">4</text>
<line x1="584.80" y1="252.80" x2="587.00" y2="252.80" stroke="#000" stroke-width="1.35"/>
<text transform="translate(584.10 256.30) scale(0.965 1)" font-size="10.0" text-anchor="end" fill="#111">6</text>
<line x1="584.80" y1="236.00" x2="587.00" y2="236.00" stroke="#000" stroke-width="1.35"/>
<text transform="translate(584.10 239.50) scale(0.965 1)" font-size="10.0" text-anchor="end" fill="#111">8</text>
<line x1="584.80" y1="219.20" x2="587.00" y2="219.20" stroke="#000" stroke-width="1.35"/>
<text transform="translate(584.10 222.70) scale(0.965 1)" font-size="10.0" text-anchor="end" fill="#111">10</text>
<line x1="596.70" y1="303.20" x2="596.70" y2="305.50" stroke="#000" stroke-width="1.35"/>
<line x1="611.40" y1="303.20" x2="611.40" y2="305.50" stroke="#000" stroke-width="1.35"/>
<line x1="626.50" y1="303.20" x2="626.50" y2="305.50" stroke="#000" stroke-width="1.35"/>
<line x1="641.40" y1="303.20" x2="641.40" y2="305.50" stroke="#000" stroke-width="1.35"/>
<path d="M595.40 229.70V227.30H610.40V229.70" fill="none" stroke="#000" stroke-width="1.35" stroke-linejoin="round"/>
<path d="M603.30 222.40L603.30 219.90M603.30 222.40L605.68 221.63M603.30 222.40L604.77 224.42M603.30 222.40L601.83 224.42M603.30 222.40L600.92 221.63" stroke="#111" stroke-width="1.15" stroke-linecap="round" fill="none"/>
<path d="M612.40 218.70V216.30H640.60V218.70" fill="none" stroke="#000" stroke-width="1.35" stroke-linejoin="round"/>
<path d="M625.00 212.60L625.00 210.10M625.00 212.60L627.38 211.83M625.00 212.60L626.47 214.62M625.00 212.60L623.53 214.62M625.00 212.60L622.62 211.83" stroke="#111" stroke-width="1.15" stroke-linecap="round" fill="none"/>
<text transform="translate(568.80 261.50) rotate(-90) scale(0.965 1)" font-size="10.0" text-anchor="middle" fill="#111">Colon length (cm)</text>
<text transform="translate(53.00 365.60) scale(1 1)" font-size="15.5" text-anchor="start" font-weight="bold" fill="#111">f</text>
<text transform="translate(99.60 364.80) scale(0.965 1)" font-size="10.0" text-anchor="middle" fill="#111">− CRS</text>
<text transform="translate(156.40 364.80) scale(0.965 1)" font-size="10.0" text-anchor="middle" fill="#111">+ CRS</text>
<text transform="translate(68.80 396.20) rotate(-90) scale(1.0 0.9)" font-size="10.0" text-anchor="middle" fill="#111">− hM3Dq</text>
<text transform="translate(68.80 448.00) rotate(-90) scale(1.0 0.9)" font-size="10.0" text-anchor="middle" fill="#111">+ hM3Dq</text>
<defs>
<filter id="spk" x="0" y="0" width="1" height="1" color-interpolation-filters="sRGB">
 <feTurbulence type="fractalNoise" baseFrequency="0.8" numOctaves="2" seed="5" result="n"/>
 <feColorMatrix in="n" type="matrix" values="0 0 0 0 0.38  0 0 0 0 0.25  0 0 0 0 0.46  5 0 0 0 -2.8" result="dk"/>
 <feComposite in="dk" in2="SourceAlpha" operator="in" result="dk2"/>
 <feColorMatrix in="n" type="matrix" values="0 0 0 0 0.9  0 0 0 0 0.84  0 0 0 0 0.93  0 5 0 0 -2.75" result="lt"/>
 <feComposite in="lt" in2="SourceAlpha" operator="in" result="lt2"/>
 <feMerge><feMergeNode in="SourceGraphic"/><feMergeNode in="lt2"/><feMergeNode in="dk2"/></feMerge>
</filter>
<filter id="spk2" x="0" y="0" width="1" height="1" color-interpolation-filters="sRGB">
 <feTurbulence type="fractalNoise" baseFrequency="0.93" numOctaves="1" seed="9" result="n"/>
 <feColorMatrix in="n" type="matrix" values="0 0 0 0 0.5  0 0 0 0 0.38  0 0 0 0 0.55  6 0 0 0 -3.85" result="dk"/>
 <feComposite in="dk" in2="SourceAlpha" operator="in" result="dk2"/>
 <feMerge><feMergeNode in="SourceGraphic"/><feMergeNode in="dk2"/></feMerge>
</filter>
<filter id="hblur" color-interpolation-filters="sRGB"><feGaussianBlur stdDeviation="0.45"/></filter>
</defs>
<clipPath id="h1"><rect x="74.1" y="367.0" width="50.1" height="50.0"/></clipPath><g clip-path="url(#h1)"><g filter="url(#hblur)"><g filter="url(#spk2)"><rect x="74.1" y="367.0" width="50.1" height="50.0" fill="#cae3cb"/><g transform="translate(74.1 367.0)"><path d="M0 41 C12 37 25 32 35 27 C42 23 46 20 50 17 V21 C46 24 42 27 36 30 C26 35 12 40 0 45Z" fill="#cfa3bd"/><path d="M0 46 C15 41 30 35 50 26 V28 C30 37 15 43 0 48Z" fill="#d8b0c8"/><path d="M0 45 L4 44 L2 50 H0Z" fill="#cfa3bd"/></g></g><g filter="url(#spk)"><g transform="translate(74.1 367.0)"><path d="M22 0 H50 V17 C46 20 42 23 35 27 C25 32 15 35 5 38 C4 32 5 25 7 18 C9 11 13 5 22 0Z" fill="#b08cb2"/><path d="M0 3 C2 5 3 12 3 20 L0 21Z" fill="#a486aa"/><path d="M0 24 C2 26 4 31 5 37 L0 39Z" fill="#a486aa"/><path d="M44 4 C47 6 50 8 50 10 V16 C47 17 45 15 44 12Z" fill="#c98cb4"/></g></g><g transform="translate(74.1 367.0)"><ellipse cx="14" cy="28" rx="1.1" ry="1.8" fill="#dcc8e2" opacity="0.8"/><ellipse cx="19" cy="27" rx="1.1" ry="1.8" fill="#dcc8e2" opacity="0.8"/><ellipse cx="24" cy="25" rx="1.1" ry="1.8" fill="#dcc8e2" opacity="0.8"/><ellipse cx="29" cy="23" rx="1.1" ry="1.8" fill="#dcc8e2" opacity="0.8"/><ellipse cx="11" cy="22" rx="1.1" ry="1.8" fill="#dcc8e2" opacity="0.8"/><ellipse cx="16" cy="20" rx="1.1" ry="1.8" fill="#dcc8e2" opacity="0.8"/><ellipse cx="21" cy="18" rx="1.1" ry="1.8" fill="#dcc8e2" opacity="0.8"/><ellipse cx="27" cy="16" rx="1.1" ry="1.8" fill="#dcc8e2" opacity="0.8"/><ellipse cx="33" cy="14" rx="1.1" ry="1.8" fill="#dcc8e2" opacity="0.8"/><ellipse cx="38" cy="11" rx="1.1" ry="1.8" fill="#dcc8e2" opacity="0.8"/><ellipse cx="30" cy="8" rx="1.1" ry="1.8" fill="#dcc8e2" opacity="0.8"/><ellipse cx="24" cy="10" rx="1.1" ry="1.8" fill="#dcc8e2" opacity="0.8"/><ellipse cx="18" cy="12" rx="1.1" ry="1.8" fill="#dcc8e2" opacity="0.8"/><ellipse cx="35" cy="20" rx="1.1" ry="1.8" fill="#dcc8e2" opacity="0.8"/><ellipse cx="40" cy="17" rx="1.1" ry="1.8" fill="#dcc8e2" opacity="0.8"/><ellipse cx="44" cy="14" rx="1.1" ry="1.8" fill="#dcc8e2" opacity="0.8"/></g></g></g>
<clipPath id="h2"><rect x="130.8" y="367.0" width="50.2" height="50.0"/></clipPath><g clip-path="url(#h2)"><g filter="url(#hblur)"><g filter="url(#spk2)"><rect x="130.8" y="367.0" width="50.2" height="50.0" fill="#cae3cb"/><g transform="translate(130.8 367.0)"><path d="M0 0 H3.5 C3.5 12 4 24 5.5 32 C7 38 9 42 12 46 L8 50 H0Z" fill="#cc9cb6"/><path d="M3 37 C7 42 14 46 24 49 L23 50 C14 48 7 45 2 40Z" fill="#cc9cb6"/><path d="M14 7 C14.8 7 15.5 8 15.5 9 C15.5 20 18 30 26 37.5 C32 41.5 40 42.5 48 42.5 V44 C40 44 31 43 24 39.5 C16 33 13.5 22 14 7Z" fill="#d4a6c2"/><path d="M20 0 H27 C26 3 23 5 20 4Z" fill="#d4a0c0"/></g></g><g filter="url(#spk)"><g transform="translate(130.8 367.0)"><path d="M16 10 C18 3 26 1 33 2 C40 3 44 8 44 14 C44 20 42 24 42 26 C46 26 50 28 50 32 V46 C42 44 34 43 27 38 C20 32 16 22 16 10Z" fill="#b6acb8"/></g></g><g transform="translate(130.8 367.0)"></g></g></g>
<clipPath id="h3"><rect x="74.1" y="423.0" width="50.0" height="50.0"/></clipPath><g clip-path="url(#h3)"><g filter="url(#hblur)"><g filter="url(#spk2)"><rect x="74.1" y="423.0" width="50.0" height="50.0" fill="#cae3cb"/><g transform="translate(74.1 423.0)"><path d="M0 6 C10 4 25 3 50 2.5 V9 C40 10 30 11 20 14 C12 16 6 18 0 20Z" fill="#c898b4"/></g></g><g filter="url(#spk)"><g transform="translate(74.1 423.0)"><path d="M0 26 C10 21 20 17 30 14 C38 12 44 11.5 50 11 V50 H0Z" fill="#a486aa"/></g></g><g transform="translate(74.1 423.0)"><path d="M11 33 C14 34 18 37 22 39 C26 39.5 30 37 34 34 C38 30 42 24 46 19 C47.5 22 45 29 42 34 C45 35 48 35 50 35 V38 C45 39.5 40 41 35 43 C31 45 28 47 26 50 H20 C21 47 20 44 17 41 C15 39 12 36 11 33Z" fill="#cae3cb"/><ellipse cx="16" cy="19" rx="2.2" ry="1.4" fill="#cae3cb"/><ellipse cx="23" cy="16.5" rx="1.6" ry="1.1" fill="#cae3cb"/><path d="M0 39 C4 38 8 39 10 40 L0 41Z" fill="#dcd0e0"/><line x1="16" y1="22" x2="18" y2="32" stroke="#d8c8e0" stroke-width="0.9" opacity="0.8"/><line x1="21" y1="20" x2="23" y2="30" stroke="#d8c8e0" stroke-width="0.9" opacity="0.8"/><line x1="26" y1="19" x2="28" y2="29" stroke="#d8c8e0" stroke-width="0.9" opacity="0.8"/><line x1="31" y1="17" x2="33" y2="28" stroke="#d8c8e0" stroke-width="0.9" opacity="0.8"/><line x1="36" y1="16" x2="38" y2="26" stroke="#d8c8e0" stroke-width="0.9" opacity="0.8"/><line x1="41" y1="15" x2="43" y2="22" stroke="#d8c8e0" stroke-width="0.9" opacity="0.8"/></g></g></g>
<clipPath id="h4"><rect x="130.8" y="423.0" width="50.2" height="50.0"/></clipPath><g clip-path="url(#h4)"><g filter="url(#hblur)"><g filter="url(#spk2)"><rect x="130.8" y="423.0" width="50.2" height="50.0" fill="#cae3cb"/><g transform="translate(130.8 423.0)"><path d="M42 0 H50 V50 H41 C41 40 42 30 42 20Z" fill="#cc9cbc"/><path d="M27 0 H29 C33 8 36 18 37 28 C37 38 35 44 32 50 H30 C33 44 35 38 35 28 C34 18 31 8 27 0Z" fill="#cc92b8"/></g></g><g filter="url(#spk)"><g transform="translate(130.8 423.0)"><path d="M0 0 H27 C31 8 34 18 35 28 C35 38 33 44 30 50 H0 V42 C3 41 6 41 8 40 C10 38 9 35 9 33 C10 27 14 21 21 18 C15 18 9 17 5 14 C3 12 1 11 0 10Z" fill="#a284a8"/></g></g><g transform="translate(130.8 423.0)"><path d="M34 20 L37 21 L36.5 27 L34.5 26Z" fill="#cae3cb"/></g></g></g>
<rect x="79" y="409" width="11.8" height="1.8" fill="#000"/>
<rect x="224.75" y="425.54" width="8.30" height="39.06" fill="#ffffff" stroke="#000" stroke-width="1.35"/>
<rect x="239.25" y="399.73" width="8.30" height="64.87" fill="#a0a0a4" stroke="#000" stroke-width="1.35"/>
<rect x="253.85" y="428.33" width="8.30" height="36.27" fill="#8cb8f8" stroke="#000" stroke-width="1.35"/>
<rect x="268.75" y="417.17" width="8.30" height="47.43" fill="#f9a0a0" stroke="#000" stroke-width="1.35"/>
<line x1="228.90" y1="425.54" x2="228.90" y2="420.66" stroke="#000" stroke-width="1.35"/>
<line x1="226.60" y1="420.66" x2="231.20" y2="420.66" stroke="#000" stroke-width="1.35"/>
<circle cx="228.90" cy="415.77" r="1.4" fill="#000"/>
<circle cx="226.40" cy="422.75" r="1.4" fill="#000"/>
<circle cx="231.40" cy="422.75" r="1.4" fill="#000"/>
<circle cx="228.90" cy="428.33" r="1.4" fill="#000"/>
<circle cx="228.90" cy="444.37" r="1.4" fill="#000"/>
<line x1="243.40" y1="399.73" x2="243.40" y2="397.29" stroke="#000" stroke-width="1.35"/>
<line x1="241.10" y1="397.29" x2="245.70" y2="397.29" stroke="#000" stroke-width="1.35"/>
<circle cx="240.90" cy="394.85" r="1.4" fill="#000"/>
<circle cx="245.90" cy="394.85" r="1.4" fill="#000"/>
<circle cx="243.40" cy="398.34" r="1.4" fill="#000"/>
<circle cx="241.40" cy="401.13" r="1.4" fill="#000"/>
<circle cx="245.40" cy="401.13" r="1.4" fill="#000"/>
<line x1="258.00" y1="428.33" x2="258.00" y2="424.84" stroke="#000" stroke-width="1.35"/>
<line x1="255.70" y1="424.84" x2="260.30" y2="424.84" stroke="#000" stroke-width="1.35"/>
<circle cx="255.00" cy="422.75" r="1.4" fill="#000"/>
<circle cx="261.00" cy="422.75" r="1.4" fill="#000"/>
<circle cx="258.00" cy="432.51" r="1.4" fill="#000"/>
<circle cx="258.00" cy="436.00" r="1.4" fill="#000"/>
<line x1="272.90" y1="417.17" x2="272.90" y2="412.99" stroke="#000" stroke-width="1.35"/>
<line x1="270.60" y1="412.99" x2="275.20" y2="412.99" stroke="#000" stroke-width="1.35"/>
<circle cx="269.90" cy="408.80" r="1.4" fill="#000"/>
<circle cx="275.90" cy="408.80" r="1.4" fill="#000"/>
<circle cx="272.90" cy="415.77" r="1.4" fill="#000"/>
<circle cx="272.90" cy="425.54" r="1.4" fill="#000"/>
<circle cx="272.90" cy="430.42" r="1.4" fill="#000"/>
<line x1="219.00" y1="380.40" x2="219.00" y2="465.20" stroke="#000" stroke-width="1.35"/>
<line x1="218.40" y1="464.60" x2="279.80" y2="464.60" stroke="#000" stroke-width="1.35"/>
<line x1="216.80" y1="464.60" x2="219.00" y2="464.60" stroke="#000" stroke-width="1.35"/>
<text transform="translate(216.10 468.10) scale(0.965 1)" font-size="10.0" text-anchor="end" fill="#111">0</text>
<line x1="216.80" y1="450.65" x2="219.00" y2="450.65" stroke="#000" stroke-width="1.35"/>
<text transform="translate(216.10 454.15) scale(0.965 1)" font-size="10.0" text-anchor="end" fill="#111">2</text>
<line x1="216.80" y1="436.70" x2="219.00" y2="436.70" stroke="#000" stroke-width="1.35"/>
<text transform="translate(216.10 440.20) scale(0.965 1)" font-size="10.0" text-anchor="end" fill="#111">4</text>
<line x1="216.80" y1="422.75" x2="219.00" y2="422.75" stroke="#000" stroke-width="1.35"/>
<text transform="translate(216.10 426.25) scale(0.965 1)" font-size="10.0" text-anchor="end" fill="#111">6</text>
<line x1="216.80" y1="408.80" x2="219.00" y2="408.80" stroke="#000" stroke-width="1.35"/>
<text transform="translate(216.10 412.30) scale(0.965 1)" font-size="10.0" text-anchor="end" fill="#111">8</text>
<line x1="216.80" y1="394.85" x2="219.00" y2="394.85" stroke="#000" stroke-width="1.35"/>
<text transform="translate(216.10 398.35) scale(0.965 1)" font-size="10.0" text-anchor="end" fill="#111">10</text>
<line x1="216.80" y1="380.90" x2="219.00" y2="380.90" stroke="#000" stroke-width="1.35"/>
<text transform="translate(216.10 384.40) scale(0.965 1)" font-size="10.0" text-anchor="end" fill="#111">12</text>
<line x1="228.90" y1="464.60" x2="228.90" y2="466.90" stroke="#000" stroke-width="1.35"/>
<line x1="243.40" y1="464.60" x2="243.40" y2="466.90" stroke="#000" stroke-width="1.35"/>
<line x1="258.00" y1="464.60" x2="258.00" y2="466.90" stroke="#000" stroke-width="1.35"/>
<line x1="272.90" y1="464.60" x2="272.90" y2="466.90" stroke="#000" stroke-width="1.35"/>
<path d="M227.90 386.50V384.10H242.50V386.50" fill="none" stroke="#000" stroke-width="1.35" stroke-linejoin="round"/>
<path d="M232.25 379.30L232.25 376.80M232.25 379.30L234.63 378.53M232.25 379.30L233.72 381.32M232.25 379.30L230.78 381.32M232.25 379.30L229.87 378.53" stroke="#111" stroke-width="1.15" stroke-linecap="round" fill="none"/>
<path d="M238.15 379.30L238.15 376.80M238.15 379.30L240.53 378.53M238.15 379.30L239.62 381.32M238.15 379.30L236.68 381.32M238.15 379.30L235.77 378.53" stroke="#111" stroke-width="1.15" stroke-linecap="round" fill="none"/>
<path d="M242.90 373.00V370.60H271.70V373.00" fill="none" stroke="#000" stroke-width="1.35" stroke-linejoin="round"/>
<path d="M254.55 365.50L254.55 363.00M254.55 365.50L256.93 364.73M254.55 365.50L256.02 367.52M254.55 365.50L253.08 367.52M254.55 365.50L252.17 364.73" stroke="#111" stroke-width="1.15" stroke-linecap="round" fill="none"/>
<path d="M260.45 365.50L260.45 363.00M260.45 365.50L262.83 364.73M260.45 365.50L261.92 367.52M260.45 365.50L258.98 367.52M260.45 365.50L258.07 364.73" stroke="#111" stroke-width="1.15" stroke-linecap="round" fill="none"/>
<text transform="translate(201.60 423.20) rotate(-90) scale(0.965 1)" font-size="10.0" text-anchor="middle" fill="#111">Histological score</text>
<text transform="translate(307.50 367.00) scale(1 1)" font-size="15.5" text-anchor="start" font-weight="bold" fill="#111">g</text>
<line x1="362.80" y1="379.20" x2="362.80" y2="399.00" stroke="#000" stroke-width="1.35"/>
<line x1="362.80" y1="407.00" x2="362.80" y2="429.50" stroke="#000" stroke-width="1.35"/>
<line x1="362.80" y1="436.50" x2="362.80" y2="464.50" stroke="#000" stroke-width="1.35"/>
<line x1="360.50" y1="379.80" x2="362.80" y2="379.80" stroke="#000" stroke-width="1.35"/>
<line x1="360.50" y1="391.30" x2="362.80" y2="391.30" stroke="#000" stroke-width="1.35"/>
<line x1="360.50" y1="409.50" x2="362.80" y2="409.50" stroke="#000" stroke-width="1.35"/>
<line x1="360.50" y1="418.80" x2="362.80" y2="418.80" stroke="#000" stroke-width="1.35"/>
<line x1="360.50" y1="427.20" x2="362.80" y2="427.20" stroke="#000" stroke-width="1.35"/>
<line x1="360.50" y1="438.70" x2="362.80" y2="438.70" stroke="#000" stroke-width="1.35"/>
<line x1="360.50" y1="451.30" x2="362.80" y2="451.30" stroke="#000" stroke-width="1.35"/>
<line x1="360.50" y1="463.90" x2="362.80" y2="463.90" stroke="#000" stroke-width="1.35"/>
<line x1="359.00" y1="396.50" x2="366.60" y2="403.20" stroke="#000" stroke-width="1.5"/>
<line x1="359.00" y1="405.20" x2="366.60" y2="412.00" stroke="#000" stroke-width="1.5"/>
<line x1="359.00" y1="426.30" x2="366.60" y2="431.60" stroke="#000" stroke-width="1.5"/>
<line x1="359.00" y1="435.10" x2="366.60" y2="441.70" stroke="#000" stroke-width="1.5"/>
<text transform="translate(359.80 383.40) scale(0.965 1)" font-size="10.0" text-anchor="end" fill="#111">4000</text>
<text transform="translate(359.80 394.90) scale(0.965 1)" font-size="10.0" text-anchor="end" fill="#111">2000</text>
<text transform="translate(359.80 413.10) scale(0.965 1)" font-size="10.0" text-anchor="end" fill="#111">600</text>
<text transform="translate(359.80 422.40) scale(0.965 1)" font-size="10.0" text-anchor="end" fill="#111">400</text>
<text transform="translate(359.80 430.80) scale(0.965 1)" font-size="10.0" text-anchor="end" fill="#111">200</text>
<text transform="translate(359.80 442.30) scale(0.965 1)" font-size="10.0" text-anchor="end" fill="#111">200</text>
<text transform="translate(359.80 454.90) scale(0.965 1)" font-size="10.0" text-anchor="end" fill="#111">100</text>
<text transform="translate(359.80 467.50) scale(0.965 1)" font-size="10.0" text-anchor="end" fill="#111">0</text>
<line x1="362.20" y1="463.90" x2="629.00" y2="463.90" stroke="#000" stroke-width="1.35"/>
<rect x="368.70" y="451.93" width="8.0" height="11.97" fill="#ffffff"/>
<line x1="368.70" y1="451.93" x2="368.70" y2="463.90" stroke="#000" stroke-width="1.35"/>
<line x1="376.70" y1="451.93" x2="376.70" y2="463.90" stroke="#000" stroke-width="1.35"/>
<line x1="368.10" y1="451.93" x2="377.30" y2="451.93" stroke="#000" stroke-width="1.35"/>
<line x1="368.70" y1="463.90" x2="376.70" y2="463.90" stroke="#000" stroke-width="1.35"/>
<line x1="372.70" y1="451.93" x2="372.70" y2="447.52" stroke="#000" stroke-width="1.35"/>
<line x1="370.40" y1="447.52" x2="375.00" y2="447.52" stroke="#000" stroke-width="1.35"/>
<circle cx="372.70" cy="425.87" r="1.4" fill="#000"/>
<circle cx="373.70" cy="450.29" r="1.4" fill="#000"/>
<circle cx="371.70" cy="451.30" r="1.4" fill="#000"/>
<circle cx="372.70" cy="452.56" r="1.4" fill="#000"/>
<circle cx="374.70" cy="454.07" r="1.4" fill="#000"/>
<circle cx="373.70" cy="455.08" r="1.4" fill="#000"/>
<rect x="383.20" y="439.30" width="8.0" height="24.60" fill="#a0a0a4"/>
<line x1="383.20" y1="439.30" x2="383.20" y2="463.90" stroke="#000" stroke-width="1.35"/>
<line x1="391.20" y1="439.30" x2="391.20" y2="463.90" stroke="#000" stroke-width="1.35"/>
<line x1="383.20" y1="463.90" x2="391.20" y2="463.90" stroke="#000" stroke-width="1.35"/>
<rect x="383.20" y="409.50" width="8.0" height="18.50" fill="#a0a0a4"/>
<line x1="383.20" y1="409.50" x2="383.20" y2="428.00" stroke="#000" stroke-width="1.35"/>
<line x1="391.20" y1="409.50" x2="391.20" y2="428.00" stroke="#000" stroke-width="1.35"/>
<rect x="383.20" y="395.61" width="8.0" height="2.59" fill="#a0a0a4"/>
<line x1="383.20" y1="395.61" x2="383.20" y2="398.20" stroke="#000" stroke-width="1.35"/>
<line x1="391.20" y1="395.61" x2="391.20" y2="398.20" stroke="#000" stroke-width="1.35"/>
<line x1="382.60" y1="395.61" x2="391.80" y2="395.61" stroke="#000" stroke-width="1.35"/>
<line x1="387.20" y1="395.61" x2="387.20" y2="391.59" stroke="#000" stroke-width="1.35"/>
<line x1="384.90" y1="391.59" x2="389.50" y2="391.59" stroke="#000" stroke-width="1.35"/>
<circle cx="387.20" cy="382.10" r="1.4" fill="#000"/>
<circle cx="387.20" cy="388.43" r="1.4" fill="#000"/>
<circle cx="387.20" cy="396.76" r="1.4" fill="#000"/>
<circle cx="387.20" cy="411.27" r="1.4" fill="#000"/>
<circle cx="387.20" cy="416.58" r="1.4" fill="#000"/>
<circle cx="387.20" cy="421.45" r="1.4" fill="#000"/>
<rect x="397.90" y="439.96" width="8.0" height="23.94" fill="#8cb8f8"/>
<line x1="397.90" y1="439.96" x2="397.90" y2="463.90" stroke="#000" stroke-width="1.35"/>
<line x1="405.90" y1="439.96" x2="405.90" y2="463.90" stroke="#000" stroke-width="1.35"/>
<line x1="397.30" y1="439.96" x2="406.50" y2="439.96" stroke="#000" stroke-width="1.35"/>
<line x1="397.90" y1="463.90" x2="405.90" y2="463.90" stroke="#000" stroke-width="1.35"/>
<line x1="401.90" y1="439.96" x2="401.90" y2="438.70" stroke="#000" stroke-width="1.35"/>
<line x1="401.90" y1="427.64" x2="401.90" y2="425.61" stroke="#000" stroke-width="1.35"/>
<line x1="399.60" y1="425.61" x2="404.20" y2="425.61" stroke="#000" stroke-width="1.35"/>
<circle cx="401.90" cy="416.14" r="1.4" fill="#000"/>
<circle cx="401.90" cy="421.89" r="1.4" fill="#000"/>
<circle cx="401.90" cy="446.26" r="1.4" fill="#000"/>
<circle cx="401.90" cy="453.82" r="1.4" fill="#000"/>
<circle cx="401.90" cy="456.34" r="1.4" fill="#000"/>
<rect x="412.10" y="450.04" width="8.0" height="13.86" fill="#f9a0a0"/>
<line x1="412.10" y1="450.04" x2="412.10" y2="463.90" stroke="#000" stroke-width="1.35"/>
<line x1="420.10" y1="450.04" x2="420.10" y2="463.90" stroke="#000" stroke-width="1.35"/>
<line x1="411.50" y1="450.04" x2="420.70" y2="450.04" stroke="#000" stroke-width="1.35"/>
<line x1="412.10" y1="463.90" x2="420.10" y2="463.90" stroke="#000" stroke-width="1.35"/>
<line x1="416.10" y1="450.04" x2="416.10" y2="446.64" stroke="#000" stroke-width="1.35"/>
<line x1="413.80" y1="446.64" x2="418.40" y2="446.64" stroke="#000" stroke-width="1.35"/>
<circle cx="416.10" cy="425.87" r="1.4" fill="#000"/>
<circle cx="416.10" cy="446.89" r="1.4" fill="#000"/>
<circle cx="416.10" cy="448.78" r="1.4" fill="#000"/>
<circle cx="417.10" cy="450.67" r="1.4" fill="#000"/>
<circle cx="415.10" cy="451.93" r="1.4" fill="#000"/>
<circle cx="417.10" cy="453.82" r="1.4" fill="#000"/>
<line x1="394.55" y1="463.90" x2="394.55" y2="466.30" stroke="#000" stroke-width="1.35"/>
<rect x="436.00" y="451.30" width="8.0" height="12.60" fill="#ffffff"/>
<line x1="436.00" y1="451.30" x2="436.00" y2="463.90" stroke="#000" stroke-width="1.35"/>
<line x1="444.00" y1="451.30" x2="444.00" y2="463.90" stroke="#000" stroke-width="1.35"/>
<line x1="435.40" y1="451.30" x2="444.60" y2="451.30" stroke="#000" stroke-width="1.35"/>
<line x1="436.00" y1="463.90" x2="444.00" y2="463.90" stroke="#000" stroke-width="1.35"/>
<line x1="440.00" y1="451.30" x2="440.00" y2="447.90" stroke="#000" stroke-width="1.35"/>
<line x1="437.70" y1="447.90" x2="442.30" y2="447.90" stroke="#000" stroke-width="1.35"/>
<circle cx="440.00" cy="440.59" r="1.4" fill="#000"/>
<circle cx="442.00" cy="439.96" r="1.4" fill="#000"/>
<circle cx="440.00" cy="450.04" r="1.4" fill="#000"/>
<circle cx="439.00" cy="451.30" r="1.4" fill="#000"/>
<circle cx="441.00" cy="452.56" r="1.4" fill="#000"/>
<circle cx="440.00" cy="454.45" r="1.4" fill="#000"/>
<rect x="450.80" y="439.30" width="8.0" height="24.60" fill="#a0a0a4"/>
<line x1="450.80" y1="439.30" x2="450.80" y2="463.90" stroke="#000" stroke-width="1.35"/>
<line x1="458.80" y1="439.30" x2="458.80" y2="463.90" stroke="#000" stroke-width="1.35"/>
<line x1="450.80" y1="463.90" x2="458.80" y2="463.90" stroke="#000" stroke-width="1.35"/>
<rect x="450.80" y="409.50" width="8.0" height="18.50" fill="#a0a0a4"/>
<line x1="450.80" y1="409.50" x2="450.80" y2="428.00" stroke="#000" stroke-width="1.35"/>
<line x1="458.80" y1="409.50" x2="458.80" y2="428.00" stroke="#000" stroke-width="1.35"/>
<rect x="450.80" y="397.05" width="8.0" height="1.15" fill="#a0a0a4"/>
<line x1="450.80" y1="397.05" x2="450.80" y2="398.20" stroke="#000" stroke-width="1.35"/>
<line x1="458.80" y1="397.05" x2="458.80" y2="398.20" stroke="#000" stroke-width="1.35"/>
<line x1="450.20" y1="397.05" x2="459.40" y2="397.05" stroke="#000" stroke-width="1.35"/>
<line x1="454.80" y1="397.05" x2="454.80" y2="395.15" stroke="#000" stroke-width="1.35"/>
<line x1="452.50" y1="395.15" x2="457.10" y2="395.15" stroke="#000" stroke-width="1.35"/>
<circle cx="452.80" cy="392.45" r="1.4" fill="#000"/>
<circle cx="456.80" cy="392.45" r="1.4" fill="#000"/>
<circle cx="454.80" cy="395.32" r="1.4" fill="#000"/>
<circle cx="454.80" cy="417.46" r="1.4" fill="#000"/>
<circle cx="453.80" cy="424.10" r="1.4" fill="#000"/>
<circle cx="455.80" cy="424.99" r="1.4" fill="#000"/>
<rect x="465.10" y="439.30" width="8.0" height="24.60" fill="#8cb8f8"/>
<line x1="465.10" y1="439.30" x2="465.10" y2="463.90" stroke="#000" stroke-width="1.35"/>
<line x1="473.10" y1="439.30" x2="473.10" y2="463.90" stroke="#000" stroke-width="1.35"/>
<line x1="465.10" y1="463.90" x2="473.10" y2="463.90" stroke="#000" stroke-width="1.35"/>
<rect x="465.10" y="426.54" width="8.0" height="1.46" fill="#8cb8f8"/>
<line x1="465.10" y1="426.54" x2="465.10" y2="428.00" stroke="#000" stroke-width="1.35"/>
<line x1="473.10" y1="426.54" x2="473.10" y2="428.00" stroke="#000" stroke-width="1.35"/>
<line x1="464.50" y1="426.54" x2="473.70" y2="426.54" stroke="#000" stroke-width="1.35"/>
<line x1="469.10" y1="426.54" x2="469.10" y2="421.23" stroke="#000" stroke-width="1.35"/>
<line x1="466.80" y1="421.23" x2="471.40" y2="421.23" stroke="#000" stroke-width="1.35"/>
<circle cx="469.10" cy="396.76" r="1.4" fill="#000"/>
<circle cx="469.10" cy="413.93" r="1.4" fill="#000"/>
<circle cx="469.10" cy="422.77" r="1.4" fill="#000"/>
<circle cx="469.10" cy="445.00" r="1.4" fill="#000"/>
<circle cx="469.10" cy="451.30" r="1.4" fill="#000"/>
<circle cx="469.10" cy="456.34" r="1.4" fill="#000"/>
<rect x="479.70" y="449.41" width="8.0" height="14.49" fill="#f9a0a0"/>
<line x1="479.70" y1="449.41" x2="479.70" y2="463.90" stroke="#000" stroke-width="1.35"/>
<line x1="487.70" y1="449.41" x2="487.70" y2="463.90" stroke="#000" stroke-width="1.35"/>
<line x1="479.10" y1="449.41" x2="488.30" y2="449.41" stroke="#000" stroke-width="1.35"/>
<line x1="479.70" y1="463.90" x2="487.70" y2="463.90" stroke="#000" stroke-width="1.35"/>
<line x1="483.70" y1="449.41" x2="483.70" y2="445.38" stroke="#000" stroke-width="1.35"/>
<line x1="481.40" y1="445.38" x2="486.00" y2="445.38" stroke="#000" stroke-width="1.35"/>
<circle cx="483.70" cy="422.77" r="1.4" fill="#000"/>
<circle cx="483.70" cy="424.55" r="1.4" fill="#000"/>
<circle cx="483.70" cy="448.78" r="1.4" fill="#000"/>
<circle cx="484.70" cy="451.30" r="1.4" fill="#000"/>
<circle cx="482.70" cy="452.56" r="1.4" fill="#000"/>
<circle cx="483.70" cy="455.08" r="1.4" fill="#000"/>
<line x1="461.95" y1="463.90" x2="461.95" y2="466.30" stroke="#000" stroke-width="1.35"/>
<rect x="503.60" y="451.93" width="8.0" height="11.97" fill="#ffffff"/>
<line x1="503.60" y1="451.93" x2="503.60" y2="463.90" stroke="#000" stroke-width="1.35"/>
<line x1="511.60" y1="451.93" x2="511.60" y2="463.90" stroke="#000" stroke-width="1.35"/>
<line x1="503.00" y1="451.93" x2="512.20" y2="451.93" stroke="#000" stroke-width="1.35"/>
<line x1="503.60" y1="463.90" x2="511.60" y2="463.90" stroke="#000" stroke-width="1.35"/>
<line x1="507.60" y1="451.93" x2="507.60" y2="449.41" stroke="#000" stroke-width="1.35"/>
<line x1="505.30" y1="449.41" x2="509.90" y2="449.41" stroke="#000" stroke-width="1.35"/>
<circle cx="507.60" cy="447.52" r="1.4" fill="#000"/>
<circle cx="506.60" cy="450.67" r="1.4" fill="#000"/>
<circle cx="508.60" cy="451.93" r="1.4" fill="#000"/>
<circle cx="507.60" cy="453.19" r="1.4" fill="#000"/>
<circle cx="506.60" cy="453.82" r="1.4" fill="#000"/>
<rect x="518.00" y="439.30" width="8.0" height="24.60" fill="#a0a0a4"/>
<line x1="518.00" y1="439.30" x2="518.00" y2="463.90" stroke="#000" stroke-width="1.35"/>
<line x1="526.00" y1="439.30" x2="526.00" y2="463.90" stroke="#000" stroke-width="1.35"/>
<line x1="518.00" y1="463.90" x2="526.00" y2="463.90" stroke="#000" stroke-width="1.35"/>
<rect x="518.00" y="426.85" width="8.0" height="1.15" fill="#a0a0a4"/>
<line x1="518.00" y1="426.85" x2="518.00" y2="428.00" stroke="#000" stroke-width="1.35"/>
<line x1="526.00" y1="426.85" x2="526.00" y2="428.00" stroke="#000" stroke-width="1.35"/>
<line x1="517.40" y1="426.85" x2="526.60" y2="426.85" stroke="#000" stroke-width="1.35"/>
<line x1="522.00" y1="426.85" x2="522.00" y2="424.99" stroke="#000" stroke-width="1.35"/>
<line x1="519.70" y1="424.99" x2="524.30" y2="424.99" stroke="#000" stroke-width="1.35"/>
<circle cx="520.00" cy="417.24" r="1.4" fill="#000"/>
<circle cx="524.00" cy="418.13" r="1.4" fill="#000"/>
<circle cx="522.00" cy="421.23" r="1.4" fill="#000"/>
<circle cx="521.00" cy="424.10" r="1.4" fill="#000"/>
<circle cx="523.00" cy="424.46" r="1.4" fill="#000"/>
<circle cx="522.00" cy="445.00" r="1.4" fill="#000"/>
<circle cx="522.00" cy="451.30" r="1.4" fill="#000"/>
<circle cx="522.00" cy="457.60" r="1.4" fill="#000"/>
<rect x="532.70" y="450.04" width="8.0" height="13.86" fill="#8cb8f8"/>
<line x1="532.70" y1="450.04" x2="532.70" y2="463.90" stroke="#000" stroke-width="1.35"/>
<line x1="540.70" y1="450.04" x2="540.70" y2="463.90" stroke="#000" stroke-width="1.35"/>
<line x1="532.10" y1="450.04" x2="541.30" y2="450.04" stroke="#000" stroke-width="1.35"/>
<line x1="532.70" y1="463.90" x2="540.70" y2="463.90" stroke="#000" stroke-width="1.35"/>
<line x1="536.70" y1="450.04" x2="536.70" y2="446.01" stroke="#000" stroke-width="1.35"/>
<line x1="534.40" y1="446.01" x2="539.00" y2="446.01" stroke="#000" stroke-width="1.35"/>
<circle cx="534.70" cy="438.70" r="1.4" fill="#000"/>
<circle cx="538.70" cy="438.70" r="1.4" fill="#000"/>
<circle cx="536.70" cy="451.93" r="1.4" fill="#000"/>
<circle cx="536.70" cy="453.19" r="1.4" fill="#000"/>
<circle cx="536.70" cy="456.34" r="1.4" fill="#000"/>
<rect x="547.00" y="452.81" width="8.0" height="11.09" fill="#f9a0a0"/>
<line x1="547.00" y1="452.81" x2="547.00" y2="463.90" stroke="#000" stroke-width="1.35"/>
<line x1="555.00" y1="452.81" x2="555.00" y2="463.90" stroke="#000" stroke-width="1.35"/>
<line x1="546.40" y1="452.81" x2="555.60" y2="452.81" stroke="#000" stroke-width="1.35"/>
<line x1="547.00" y1="463.90" x2="555.00" y2="463.90" stroke="#000" stroke-width="1.35"/>
<line x1="551.00" y1="452.81" x2="551.00" y2="449.54" stroke="#000" stroke-width="1.35"/>
<line x1="548.70" y1="449.54" x2="553.30" y2="449.54" stroke="#000" stroke-width="1.35"/>
<circle cx="551.00" cy="443.11" r="1.4" fill="#000"/>
<circle cx="551.00" cy="448.78" r="1.4" fill="#000"/>
<circle cx="551.00" cy="451.93" r="1.4" fill="#000"/>
<circle cx="552.00" cy="453.19" r="1.4" fill="#000"/>
<circle cx="550.00" cy="454.45" r="1.4" fill="#000"/>
<line x1="529.35" y1="463.90" x2="529.35" y2="466.30" stroke="#000" stroke-width="1.35"/>
<rect x="570.90" y="451.93" width="8.0" height="11.97" fill="#ffffff"/>
<line x1="570.90" y1="451.93" x2="570.90" y2="463.90" stroke="#000" stroke-width="1.35"/>
<line x1="578.90" y1="451.93" x2="578.90" y2="463.90" stroke="#000" stroke-width="1.35"/>
<line x1="570.30" y1="451.93" x2="579.50" y2="451.93" stroke="#000" stroke-width="1.35"/>
<line x1="570.90" y1="463.90" x2="578.90" y2="463.90" stroke="#000" stroke-width="1.35"/>
<line x1="574.90" y1="451.93" x2="574.90" y2="449.41" stroke="#000" stroke-width="1.35"/>
<line x1="572.60" y1="449.41" x2="577.20" y2="449.41" stroke="#000" stroke-width="1.35"/>
<circle cx="574.90" cy="446.26" r="1.4" fill="#000"/>
<circle cx="573.90" cy="450.67" r="1.4" fill="#000"/>
<circle cx="575.90" cy="451.93" r="1.4" fill="#000"/>
<circle cx="574.90" cy="453.19" r="1.4" fill="#000"/>
<circle cx="575.90" cy="454.45" r="1.4" fill="#000"/>
<rect x="585.50" y="439.30" width="8.0" height="24.60" fill="#a0a0a4"/>
<line x1="585.50" y1="439.30" x2="585.50" y2="463.90" stroke="#000" stroke-width="1.35"/>
<line x1="593.50" y1="439.30" x2="593.50" y2="463.90" stroke="#000" stroke-width="1.35"/>
<line x1="585.50" y1="463.90" x2="593.50" y2="463.90" stroke="#000" stroke-width="1.35"/>
<rect x="585.50" y="417.24" width="8.0" height="10.76" fill="#a0a0a4"/>
<line x1="585.50" y1="417.24" x2="585.50" y2="428.00" stroke="#000" stroke-width="1.35"/>
<line x1="593.50" y1="417.24" x2="593.50" y2="428.00" stroke="#000" stroke-width="1.35"/>
<line x1="584.90" y1="417.24" x2="594.10" y2="417.24" stroke="#000" stroke-width="1.35"/>
<line x1="589.50" y1="417.24" x2="589.50" y2="413.04" stroke="#000" stroke-width="1.35"/>
<line x1="587.20" y1="413.04" x2="591.80" y2="413.04" stroke="#000" stroke-width="1.35"/>
<circle cx="588.50" cy="394.75" r="1.4" fill="#000"/>
<circle cx="590.50" cy="394.87" r="1.4" fill="#000"/>
<circle cx="589.50" cy="411.27" r="1.4" fill="#000"/>
<circle cx="589.50" cy="418.35" r="1.4" fill="#000"/>
<circle cx="589.50" cy="420.12" r="1.4" fill="#000"/>
<circle cx="589.50" cy="456.34" r="1.4" fill="#000"/>
<rect x="599.80" y="442.73" width="8.0" height="21.17" fill="#8cb8f8"/>
<line x1="599.80" y1="442.73" x2="599.80" y2="463.90" stroke="#000" stroke-width="1.35"/>
<line x1="607.80" y1="442.73" x2="607.80" y2="463.90" stroke="#000" stroke-width="1.35"/>
<line x1="599.20" y1="442.73" x2="608.40" y2="442.73" stroke="#000" stroke-width="1.35"/>
<line x1="599.80" y1="463.90" x2="607.80" y2="463.90" stroke="#000" stroke-width="1.35"/>
<line x1="603.80" y1="442.73" x2="603.80" y2="438.70" stroke="#000" stroke-width="1.35"/>
<line x1="603.80" y1="428.00" x2="603.80" y2="426.09" stroke="#000" stroke-width="1.35"/>
<line x1="601.50" y1="426.09" x2="606.10" y2="426.09" stroke="#000" stroke-width="1.35"/>
<circle cx="603.80" cy="409.50" r="1.4" fill="#000"/>
<circle cx="603.80" cy="438.70" r="1.4" fill="#000"/>
<circle cx="603.80" cy="449.41" r="1.4" fill="#000"/>
<circle cx="603.80" cy="456.97" r="1.4" fill="#000"/>
<rect x="614.60" y="445.00" width="8.0" height="18.90" fill="#f9a0a0"/>
<line x1="614.60" y1="445.00" x2="614.60" y2="463.90" stroke="#000" stroke-width="1.35"/>
<line x1="622.60" y1="445.00" x2="622.60" y2="463.90" stroke="#000" stroke-width="1.35"/>
<line x1="614.00" y1="445.00" x2="623.20" y2="445.00" stroke="#000" stroke-width="1.35"/>
<line x1="614.60" y1="463.90" x2="622.60" y2="463.90" stroke="#000" stroke-width="1.35"/>
<line x1="618.60" y1="445.00" x2="618.60" y2="439.96" stroke="#000" stroke-width="1.35"/>
<line x1="616.30" y1="439.96" x2="620.90" y2="439.96" stroke="#000" stroke-width="1.35"/>
<circle cx="617.60" cy="420.12" r="1.4" fill="#000"/>
<circle cx="619.60" cy="421.45" r="1.4" fill="#000"/>
<circle cx="618.60" cy="443.74" r="1.4" fill="#000"/>
<circle cx="618.60" cy="447.52" r="1.4" fill="#000"/>
<circle cx="618.60" cy="451.30" r="1.4" fill="#000"/>
<circle cx="618.60" cy="453.82" r="1.4" fill="#000"/>
<line x1="596.65" y1="463.90" x2="596.65" y2="466.30" stroke="#000" stroke-width="1.35"/>
<text transform="translate(395.0 476.2) scale(0.965 1)" font-size="10.0" font-style="italic" text-anchor="middle" fill="#111">Il6</text>
<text transform="translate(462.2 476.2) scale(0.965 1)" font-size="10.0" font-style="italic" text-anchor="middle" fill="#111">Il1b</text>
<text transform="translate(529.4 476.2) scale(0.965 1)" font-size="10.0" font-style="italic" text-anchor="middle" fill="#111">Il12</text>
<text transform="translate(596.6 476.2) scale(0.965 1)" font-size="10.0" font-style="italic" text-anchor="middle" fill="#111">Tgfb</text>
<text transform="translate(319.3 422.5) rotate(-90) scale(0.965 1)" font-size="10.0" text-anchor="middle" fill="#111">Relative mRNA</text>
<text transform="translate(331.6 422.0) rotate(-90) scale(0.965 1)" font-size="10.0" text-anchor="middle" fill="#111">levels (%)</text>
<path d="M372.40 375.90V373.50H386.70V375.90" fill="none" stroke="#000" stroke-width="1.35" stroke-linejoin="round"/>
<path d="M379.40 368.70L379.40 366.20M379.40 368.70L381.78 367.93M379.40 368.70L380.87 370.72M379.40 368.70L377.93 370.72M379.40 368.70L377.02 367.93" stroke="#111" stroke-width="1.15" stroke-linecap="round" fill="none"/>
<path d="M387.10 361.60V359.20H415.60V361.60" fill="none" stroke="#000" stroke-width="1.35" stroke-linejoin="round"/>
<path d="M400.50 354.40L400.50 351.90M400.50 354.40L402.88 353.63M400.50 354.40L401.97 356.42M400.50 354.40L399.03 356.42M400.50 354.40L398.12 353.63" stroke="#111" stroke-width="1.15" stroke-linecap="round" fill="none"/>
<path d="M440.10 382.10V379.70H454.10V382.10" fill="none" stroke="#000" stroke-width="1.35" stroke-linejoin="round"/>
<path d="M445.30 374.90L445.30 372.40M445.30 374.90L447.68 374.13M445.30 374.90L446.77 376.92M445.30 374.90L443.83 376.92M445.30 374.90L442.92 374.13" stroke="#111" stroke-width="1.15" stroke-linecap="round" fill="none"/>
<path d="M451.10 374.90L451.10 372.40M451.10 374.90L453.48 374.13M451.10 374.90L452.57 376.92M451.10 374.90L449.63 376.92M451.10 374.90L448.72 374.13" stroke="#111" stroke-width="1.15" stroke-linecap="round" fill="none"/>
<path d="M454.40 368.60V366.20H482.50V368.60" fill="none" stroke="#000" stroke-width="1.35" stroke-linejoin="round"/>
<path d="M465.60 361.40L465.60 358.90M465.60 361.40L467.98 360.63M465.60 361.40L467.07 363.42M465.60 361.40L464.13 363.42M465.60 361.40L463.22 360.63" stroke="#111" stroke-width="1.15" stroke-linecap="round" fill="none"/>
<path d="M471.40 361.40L471.40 358.90M471.40 361.40L473.78 360.63M471.40 361.40L472.87 363.42M471.40 361.40L469.93 363.42M471.40 361.40L469.02 360.63" stroke="#111" stroke-width="1.15" stroke-linecap="round" fill="none"/>
<path d="M506.40 406.20V403.80H520.80V406.20" fill="none" stroke="#000" stroke-width="1.35" stroke-linejoin="round"/>
<path d="M513.60 399.00L513.60 396.50M513.60 399.00L515.98 398.23M513.60 399.00L515.07 401.02M513.60 399.00L512.13 401.02M513.60 399.00L511.22 398.23" stroke="#111" stroke-width="1.15" stroke-linecap="round" fill="none"/>
<path d="M521.20 393.60V391.20H549.20V393.60" fill="none" stroke="#000" stroke-width="1.35" stroke-linejoin="round"/>
<path d="M534.40 386.40L534.40 383.90M534.40 386.40L536.78 385.63M534.40 386.40L535.87 388.42M534.40 386.40L532.93 388.42M534.40 386.40L532.02 385.63" stroke="#111" stroke-width="1.15" stroke-linecap="round" fill="none"/>
<path d="M575.30 388.70V386.30H589.40V388.70" fill="none" stroke="#000" stroke-width="1.35" stroke-linejoin="round"/>
<path d="M579.60 381.50L579.60 379.00M579.60 381.50L581.98 380.73M579.60 381.50L581.07 383.52M579.60 381.50L578.13 383.52M579.60 381.50L577.22 380.73" stroke="#111" stroke-width="1.15" stroke-linecap="round" fill="none"/>
<path d="M585.40 381.50L585.40 379.00M585.40 381.50L587.78 380.73M585.40 381.50L586.87 383.52M585.40 381.50L583.93 383.52M585.40 381.50L583.02 380.73" stroke="#111" stroke-width="1.15" stroke-linecap="round" fill="none"/>
<path d="M589.60 373.80V371.40H617.70V373.80" fill="none" stroke="#000" stroke-width="1.35" stroke-linejoin="round"/>
<path d="M599.80 366.60L599.80 364.10M599.80 366.60L602.18 365.83M599.80 366.60L601.27 368.62M599.80 366.60L598.33 368.62M599.80 366.60L597.42 365.83" stroke="#111" stroke-width="1.15" stroke-linecap="round" fill="none"/>
<path d="M605.60 366.60L605.60 364.10M605.60 366.60L607.98 365.83M605.60 366.60L607.07 368.62M605.60 366.60L604.13 368.62M605.60 366.60L603.22 365.83" stroke="#111" stroke-width="1.15" stroke-linecap="round" fill="none"/>
</svg>
</body></html>
